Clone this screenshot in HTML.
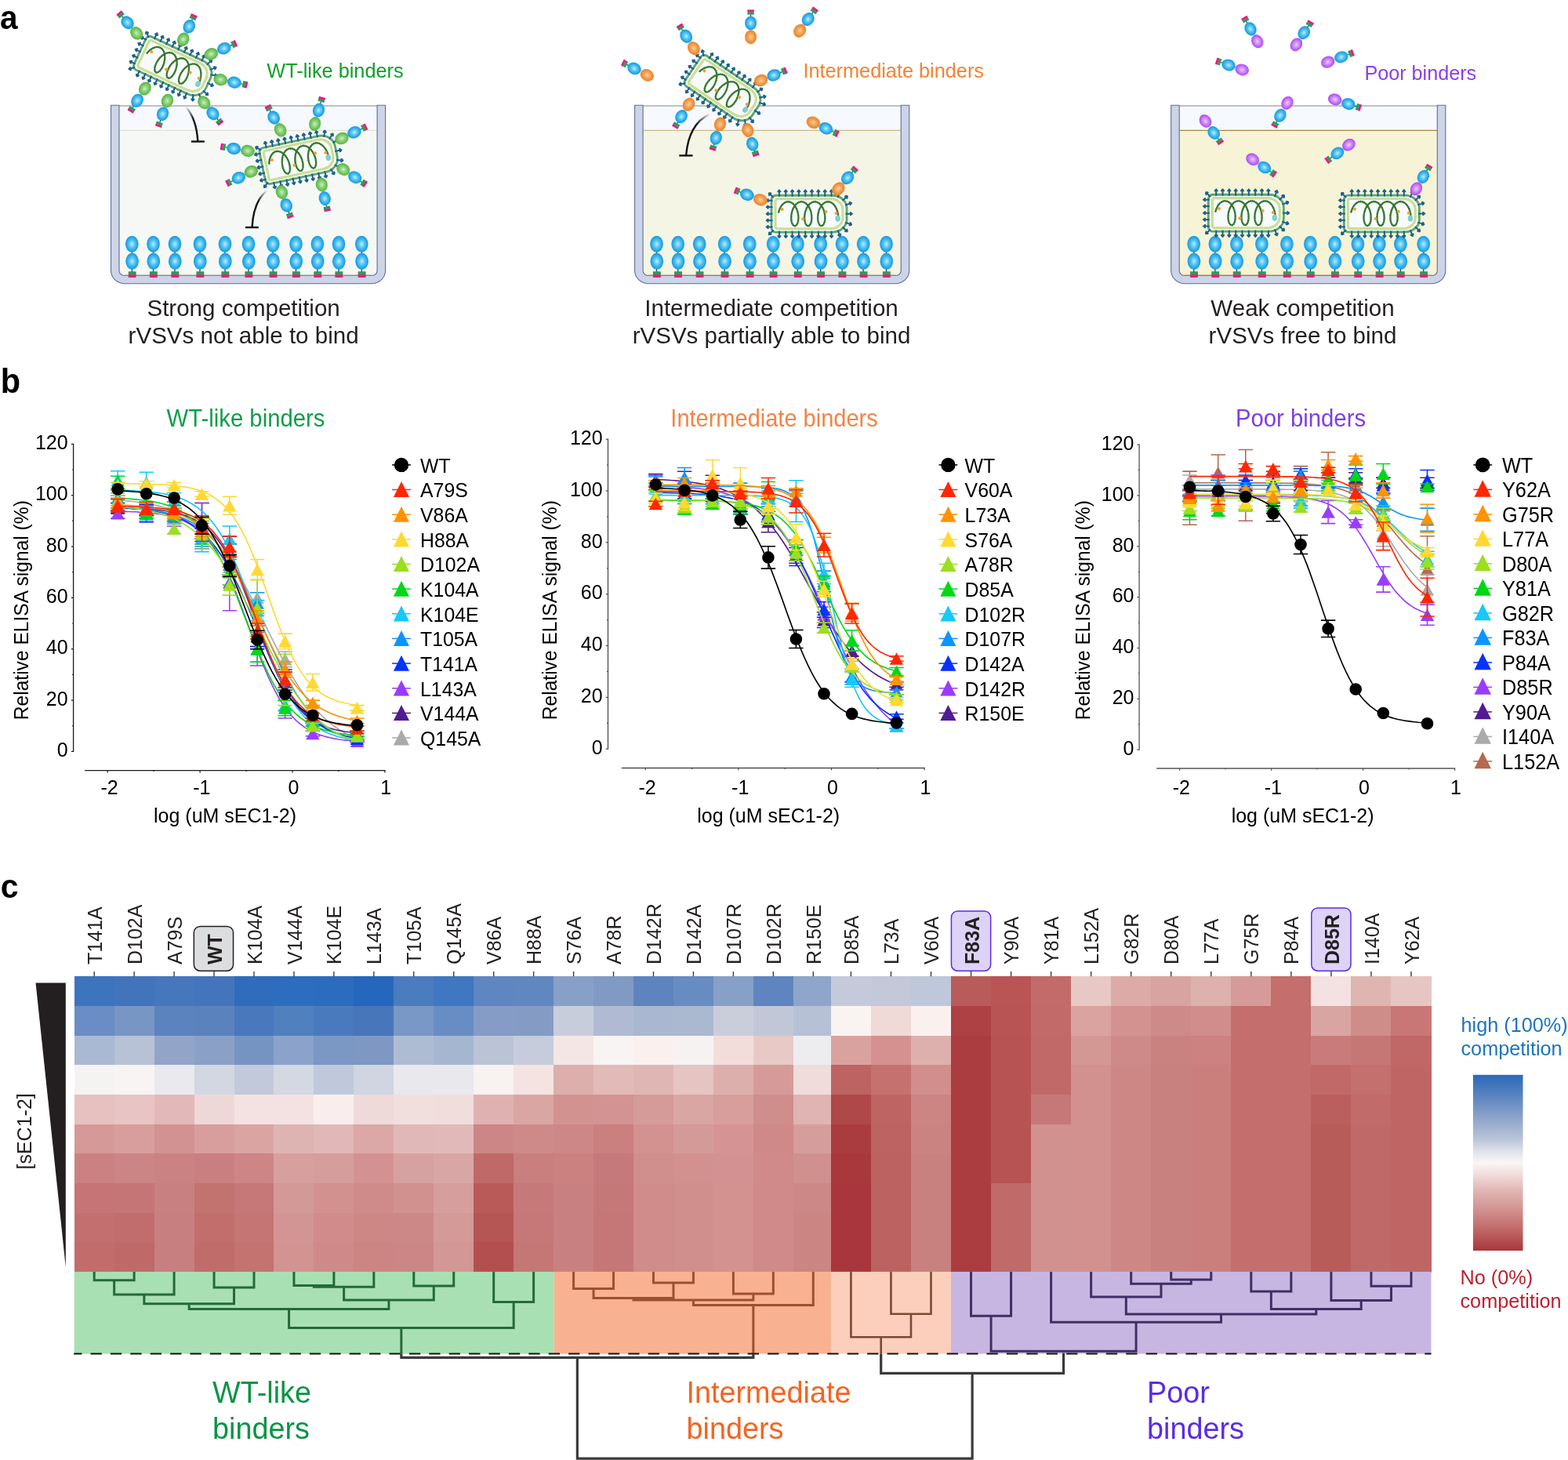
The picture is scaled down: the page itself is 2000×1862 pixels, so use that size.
<!DOCTYPE html>
<html><head><meta charset="utf-8"><title>Figure</title>
<style>
html,body{margin:0;padding:0;background:#fff;width:2000px;height:1862px;overflow:hidden;}
svg{display:block;}
text{font-family:"Liberation Sans",sans-serif;}
</style></head><body>
<svg width="2000" height="1862" viewBox="0 0 2000 1862">
<defs>

<radialGradient id="gB" cx="0.5" cy="0.5" r="0.5"><stop offset="0" stop-color="#B9EEFF"/><stop offset="0.45" stop-color="#57C4F2"/><stop offset="0.85" stop-color="#21A3E5"/><stop offset="1" stop-color="#1C9CE2"/></radialGradient>
<radialGradient id="gG" cx="0.5" cy="0.5" r="0.5"><stop offset="0" stop-color="#CDEEC0"/><stop offset="0.45" stop-color="#8ED27A"/><stop offset="0.85" stop-color="#62BC4E"/><stop offset="1" stop-color="#58B546"/></radialGradient>
<radialGradient id="gO" cx="0.5" cy="0.5" r="0.5"><stop offset="0" stop-color="#FAD0A0"/><stop offset="0.45" stop-color="#F3A65C"/><stop offset="0.85" stop-color="#EB8C35"/><stop offset="1" stop-color="#E8852C"/></radialGradient>
<radialGradient id="gP" cx="0.5" cy="0.5" r="0.5"><stop offset="0" stop-color="#EACAFC"/><stop offset="0.45" stop-color="#CF8EF6"/><stop offset="0.85" stop-color="#B75AF4"/><stop offset="1" stop-color="#B04CF5"/></radialGradient>
<linearGradient id="inh1" gradientUnits="userSpaceOnUse" x1="237" y1="136" x2="247" y2="152"><stop offset="0" stop-color="#000" stop-opacity="0"/><stop offset="1" stop-color="#111" stop-opacity="1"/></linearGradient>
<linearGradient id="inh2" gradientUnits="userSpaceOnUse" x1="341" y1="243" x2="328" y2="256"><stop offset="0" stop-color="#000" stop-opacity="0"/><stop offset="1" stop-color="#111" stop-opacity="1"/></linearGradient>
<linearGradient id="inh3" gradientUnits="userSpaceOnUse" x1="906" y1="145" x2="888" y2="158"><stop offset="0" stop-color="#000" stop-opacity="0"/><stop offset="1" stop-color="#111" stop-opacity="1"/></linearGradient>

<linearGradient id="cbar" x1="0" y1="0" x2="0" y2="1">
<stop offset="0" stop-color="#2A68BC"/>
<stop offset="0.12" stop-color="#5A84BF"/>
<stop offset="0.25" stop-color="#8FA5CA"/>
<stop offset="0.37" stop-color="#BCC6DA"/>
<stop offset="0.45" stop-color="#E6E7EE"/>
<stop offset="0.5" stop-color="#F9F6F5"/>
<stop offset="0.56" stop-color="#F2E0DE"/>
<stop offset="0.65" stop-color="#E2B9B7"/>
<stop offset="0.78" stop-color="#CF8D8B"/>
<stop offset="0.9" stop-color="#BC6160"/>
<stop offset="1" stop-color="#A8363C"/>
</linearGradient>
<g id="virus"><path d="M-42.50,-23.40 H29.50 A18.5,16.0 0 0 1 48.00,-7.40 V7.40 A18.5,16.0 0 0 1 29.50,23.40 H-42.50 A5.5,5.5 0 0 1 -48.00,17.90 V-17.90 A5.5,5.5 0 0 1 -42.50,-23.40 Z" fill="#FFFFFF" stroke="#5CA671" stroke-width="2.9"/><g transform="translate(-38.10,-23.40) rotate(-90.0)"><line x1="-1.5" y1="0" x2="5.5" y2="0" stroke="#1C5F8D" stroke-width="2.0"/><path d="M4.40,-2.1 Q5.80,-2.5 7.60,0 Q5.80,2.5 4.40,2.1 Q5.00,0 4.40,-2.1 Z" fill="#1C5F8D" stroke="#1C5F8D" stroke-width="1.0" stroke-linejoin="round"/></g><g transform="translate(-38.10,23.40) rotate(90.0)"><line x1="-1.5" y1="0" x2="5.5" y2="0" stroke="#1C5F8D" stroke-width="2.0"/><path d="M4.40,-2.1 Q5.80,-2.5 7.60,0 Q5.80,2.5 4.40,2.1 Q5.00,0 4.40,-2.1 Z" fill="#1C5F8D" stroke="#1C5F8D" stroke-width="1.0" stroke-linejoin="round"/></g><g transform="translate(-29.77,-23.40) rotate(-90.0)"><line x1="-1.5" y1="0" x2="5.5" y2="0" stroke="#1C5F8D" stroke-width="2.0"/><path d="M4.40,-2.1 Q5.80,-2.5 7.60,0 Q5.80,2.5 4.40,2.1 Q5.00,0 4.40,-2.1 Z" fill="#1C5F8D" stroke="#1C5F8D" stroke-width="1.0" stroke-linejoin="round"/></g><g transform="translate(-29.77,23.40) rotate(90.0)"><line x1="-1.5" y1="0" x2="5.5" y2="0" stroke="#1C5F8D" stroke-width="2.0"/><path d="M4.40,-2.1 Q5.80,-2.5 7.60,0 Q5.80,2.5 4.40,2.1 Q5.00,0 4.40,-2.1 Z" fill="#1C5F8D" stroke="#1C5F8D" stroke-width="1.0" stroke-linejoin="round"/></g><g transform="translate(-21.44,-23.40) rotate(-90.0)"><line x1="-1.5" y1="0" x2="5.5" y2="0" stroke="#1C5F8D" stroke-width="2.0"/><path d="M4.40,-2.1 Q5.80,-2.5 7.60,0 Q5.80,2.5 4.40,2.1 Q5.00,0 4.40,-2.1 Z" fill="#1C5F8D" stroke="#1C5F8D" stroke-width="1.0" stroke-linejoin="round"/></g><g transform="translate(-21.44,23.40) rotate(90.0)"><line x1="-1.5" y1="0" x2="5.5" y2="0" stroke="#1C5F8D" stroke-width="2.0"/><path d="M4.40,-2.1 Q5.80,-2.5 7.60,0 Q5.80,2.5 4.40,2.1 Q5.00,0 4.40,-2.1 Z" fill="#1C5F8D" stroke="#1C5F8D" stroke-width="1.0" stroke-linejoin="round"/></g><g transform="translate(-13.11,-23.40) rotate(-90.0)"><line x1="-1.5" y1="0" x2="5.5" y2="0" stroke="#1C5F8D" stroke-width="2.0"/><path d="M4.40,-2.1 Q5.80,-2.5 7.60,0 Q5.80,2.5 4.40,2.1 Q5.00,0 4.40,-2.1 Z" fill="#1C5F8D" stroke="#1C5F8D" stroke-width="1.0" stroke-linejoin="round"/></g><g transform="translate(-13.11,23.40) rotate(90.0)"><line x1="-1.5" y1="0" x2="5.5" y2="0" stroke="#1C5F8D" stroke-width="2.0"/><path d="M4.40,-2.1 Q5.80,-2.5 7.60,0 Q5.80,2.5 4.40,2.1 Q5.00,0 4.40,-2.1 Z" fill="#1C5F8D" stroke="#1C5F8D" stroke-width="1.0" stroke-linejoin="round"/></g><g transform="translate(-4.78,-23.40) rotate(-90.0)"><line x1="-1.5" y1="0" x2="5.5" y2="0" stroke="#1C5F8D" stroke-width="2.0"/><path d="M4.40,-2.1 Q5.80,-2.5 7.60,0 Q5.80,2.5 4.40,2.1 Q5.00,0 4.40,-2.1 Z" fill="#1C5F8D" stroke="#1C5F8D" stroke-width="1.0" stroke-linejoin="round"/></g><g transform="translate(-4.78,23.40) rotate(90.0)"><line x1="-1.5" y1="0" x2="5.5" y2="0" stroke="#1C5F8D" stroke-width="2.0"/><path d="M4.40,-2.1 Q5.80,-2.5 7.60,0 Q5.80,2.5 4.40,2.1 Q5.00,0 4.40,-2.1 Z" fill="#1C5F8D" stroke="#1C5F8D" stroke-width="1.0" stroke-linejoin="round"/></g><g transform="translate(3.55,-23.40) rotate(-90.0)"><line x1="-1.5" y1="0" x2="5.5" y2="0" stroke="#1C5F8D" stroke-width="2.0"/><path d="M4.40,-2.1 Q5.80,-2.5 7.60,0 Q5.80,2.5 4.40,2.1 Q5.00,0 4.40,-2.1 Z" fill="#1C5F8D" stroke="#1C5F8D" stroke-width="1.0" stroke-linejoin="round"/></g><g transform="translate(3.55,23.40) rotate(90.0)"><line x1="-1.5" y1="0" x2="5.5" y2="0" stroke="#1C5F8D" stroke-width="2.0"/><path d="M4.40,-2.1 Q5.80,-2.5 7.60,0 Q5.80,2.5 4.40,2.1 Q5.00,0 4.40,-2.1 Z" fill="#1C5F8D" stroke="#1C5F8D" stroke-width="1.0" stroke-linejoin="round"/></g><g transform="translate(11.88,-23.40) rotate(-90.0)"><line x1="-1.5" y1="0" x2="5.5" y2="0" stroke="#1C5F8D" stroke-width="2.0"/><path d="M4.40,-2.1 Q5.80,-2.5 7.60,0 Q5.80,2.5 4.40,2.1 Q5.00,0 4.40,-2.1 Z" fill="#1C5F8D" stroke="#1C5F8D" stroke-width="1.0" stroke-linejoin="round"/></g><g transform="translate(11.88,23.40) rotate(90.0)"><line x1="-1.5" y1="0" x2="5.5" y2="0" stroke="#1C5F8D" stroke-width="2.0"/><path d="M4.40,-2.1 Q5.80,-2.5 7.60,0 Q5.80,2.5 4.40,2.1 Q5.00,0 4.40,-2.1 Z" fill="#1C5F8D" stroke="#1C5F8D" stroke-width="1.0" stroke-linejoin="round"/></g><g transform="translate(20.21,-23.40) rotate(-90.0)"><line x1="-1.5" y1="0" x2="5.5" y2="0" stroke="#1C5F8D" stroke-width="2.0"/><path d="M4.40,-2.1 Q5.80,-2.5 7.60,0 Q5.80,2.5 4.40,2.1 Q5.00,0 4.40,-2.1 Z" fill="#1C5F8D" stroke="#1C5F8D" stroke-width="1.0" stroke-linejoin="round"/></g><g transform="translate(20.21,23.40) rotate(90.0)"><line x1="-1.5" y1="0" x2="5.5" y2="0" stroke="#1C5F8D" stroke-width="2.0"/><path d="M4.40,-2.1 Q5.80,-2.5 7.60,0 Q5.80,2.5 4.40,2.1 Q5.00,0 4.40,-2.1 Z" fill="#1C5F8D" stroke="#1C5F8D" stroke-width="1.0" stroke-linejoin="round"/></g><g transform="translate(28.54,-23.40) rotate(-90.0)"><line x1="-1.5" y1="0" x2="5.5" y2="0" stroke="#1C5F8D" stroke-width="2.0"/><path d="M4.40,-2.1 Q5.80,-2.5 7.60,0 Q5.80,2.5 4.40,2.1 Q5.00,0 4.40,-2.1 Z" fill="#1C5F8D" stroke="#1C5F8D" stroke-width="1.0" stroke-linejoin="round"/></g><g transform="translate(28.54,23.40) rotate(90.0)"><line x1="-1.5" y1="0" x2="5.5" y2="0" stroke="#1C5F8D" stroke-width="2.0"/><path d="M4.40,-2.1 Q5.80,-2.5 7.60,0 Q5.80,2.5 4.40,2.1 Q5.00,0 4.40,-2.1 Z" fill="#1C5F8D" stroke="#1C5F8D" stroke-width="1.0" stroke-linejoin="round"/></g><g transform="translate(-48.00,-17.00) rotate(180.0)"><line x1="-1.5" y1="0" x2="4.9" y2="0" stroke="#1C5F8D" stroke-width="2.0"/><path d="M3.80,-2.1 Q5.20,-2.5 7.00,0 Q5.20,2.5 3.80,2.1 Q4.40,0 3.80,-2.1 Z" fill="#1C5F8D" stroke="#1C5F8D" stroke-width="1.0" stroke-linejoin="round"/></g><g transform="translate(-48.00,-8.60) rotate(180.0)"><line x1="-1.5" y1="0" x2="4.9" y2="0" stroke="#1C5F8D" stroke-width="2.0"/><path d="M3.80,-2.1 Q5.20,-2.5 7.00,0 Q5.20,2.5 3.80,2.1 Q4.40,0 3.80,-2.1 Z" fill="#1C5F8D" stroke="#1C5F8D" stroke-width="1.0" stroke-linejoin="round"/></g><g transform="translate(-48.00,0.00) rotate(180.0)"><line x1="-1.5" y1="0" x2="4.9" y2="0" stroke="#1C5F8D" stroke-width="2.0"/><path d="M3.80,-2.1 Q5.20,-2.5 7.00,0 Q5.20,2.5 3.80,2.1 Q4.40,0 3.80,-2.1 Z" fill="#1C5F8D" stroke="#1C5F8D" stroke-width="1.0" stroke-linejoin="round"/></g><g transform="translate(-48.00,8.40) rotate(180.0)"><line x1="-1.5" y1="0" x2="4.9" y2="0" stroke="#1C5F8D" stroke-width="2.0"/><path d="M3.80,-2.1 Q5.20,-2.5 7.00,0 Q5.20,2.5 3.80,2.1 Q4.40,0 3.80,-2.1 Z" fill="#1C5F8D" stroke="#1C5F8D" stroke-width="1.0" stroke-linejoin="round"/></g><g transform="translate(-48.00,16.80) rotate(180.0)"><line x1="-1.5" y1="0" x2="4.9" y2="0" stroke="#1C5F8D" stroke-width="2.0"/><path d="M3.80,-2.1 Q5.20,-2.5 7.00,0 Q5.20,2.5 3.80,2.1 Q4.40,0 3.80,-2.1 Z" fill="#1C5F8D" stroke="#1C5F8D" stroke-width="1.0" stroke-linejoin="round"/></g><g transform="translate(-46.40,-21.80) rotate(-137.0)"><line x1="-1.5" y1="0" x2="5.1" y2="0" stroke="#1C5F8D" stroke-width="2.0"/><path d="M4.00,-2.1 Q5.40,-2.5 7.20,0 Q5.40,2.5 4.00,2.1 Q4.60,0 4.00,-2.1 Z" fill="#1C5F8D" stroke="#1C5F8D" stroke-width="1.0" stroke-linejoin="round"/></g><g transform="translate(-46.40,21.80) rotate(137.0)"><line x1="-1.5" y1="0" x2="5.1" y2="0" stroke="#1C5F8D" stroke-width="2.0"/><path d="M4.00,-2.1 Q5.40,-2.5 7.20,0 Q5.40,2.5 4.00,2.1 Q4.60,0 4.00,-2.1 Z" fill="#1C5F8D" stroke="#1C5F8D" stroke-width="1.0" stroke-linejoin="round"/></g><g transform="translate(37.02,-22.02) rotate(-68.9)"><line x1="-1.5" y1="0" x2="5.5" y2="0" stroke="#1C5F8D" stroke-width="2.0"/><path d="M4.40,-2.1 Q5.80,-2.5 7.60,0 Q5.80,2.5 4.40,2.1 Q5.00,0 4.40,-2.1 Z" fill="#1C5F8D" stroke="#1C5F8D" stroke-width="1.0" stroke-linejoin="round"/></g><g transform="translate(37.02,22.02) rotate(68.9)"><line x1="-1.5" y1="0" x2="5.5" y2="0" stroke="#1C5F8D" stroke-width="2.0"/><path d="M4.40,-2.1 Q5.80,-2.5 7.60,0 Q5.80,2.5 4.40,2.1 Q5.00,0 4.40,-2.1 Z" fill="#1C5F8D" stroke="#1C5F8D" stroke-width="1.0" stroke-linejoin="round"/></g><g transform="translate(43.67,-17.68) rotate(-44.1)"><line x1="-1.5" y1="0" x2="5.5" y2="0" stroke="#1C5F8D" stroke-width="2.0"/><path d="M4.40,-2.1 Q5.80,-2.5 7.60,0 Q5.80,2.5 4.40,2.1 Q5.00,0 4.40,-2.1 Z" fill="#1C5F8D" stroke="#1C5F8D" stroke-width="1.0" stroke-linejoin="round"/></g><g transform="translate(43.67,17.68) rotate(44.1)"><line x1="-1.5" y1="0" x2="5.5" y2="0" stroke="#1C5F8D" stroke-width="2.0"/><path d="M4.40,-2.1 Q5.80,-2.5 7.60,0 Q5.80,2.5 4.40,2.1 Q5.00,0 4.40,-2.1 Z" fill="#1C5F8D" stroke="#1C5F8D" stroke-width="1.0" stroke-linejoin="round"/></g><g transform="translate(47.37,-11.54) rotate(-17.2)"><line x1="-1.5" y1="0" x2="5.5" y2="0" stroke="#1C5F8D" stroke-width="2.0"/><path d="M4.40,-2.1 Q5.80,-2.5 7.60,0 Q5.80,2.5 4.40,2.1 Q5.00,0 4.40,-2.1 Z" fill="#1C5F8D" stroke="#1C5F8D" stroke-width="1.0" stroke-linejoin="round"/></g><g transform="translate(47.37,11.54) rotate(17.2)"><line x1="-1.5" y1="0" x2="5.5" y2="0" stroke="#1C5F8D" stroke-width="2.0"/><path d="M4.40,-2.1 Q5.80,-2.5 7.60,0 Q5.80,2.5 4.40,2.1 Q5.00,0 4.40,-2.1 Z" fill="#1C5F8D" stroke="#1C5F8D" stroke-width="1.0" stroke-linejoin="round"/></g><g transform="translate(48.00,0.00) rotate(0.0)"><line x1="-1.5" y1="0" x2="5.5" y2="0" stroke="#1C5F8D" stroke-width="2.0"/><path d="M4.40,-2.1 Q5.80,-2.5 7.60,0 Q5.80,2.5 4.40,2.1 Q5.00,0 4.40,-2.1 Z" fill="#1C5F8D" stroke="#1C5F8D" stroke-width="1.0" stroke-linejoin="round"/></g><path d="M-40.00,-19.10 H27.50 A15.5,14.0 0 0 1 43.00,-5.10 V5.10 A15.5,14.0 0 0 1 27.50,19.10 H-40.00 A3.0,3.0 0 0 1 -43.00,16.10 V-16.10 A3.0,3.0 0 0 1 -40.00,-19.10 Z" fill="#F8FBFE" stroke="#C4DA8B" stroke-width="3.1"/><path d="M-40.00,-19.10 H27.50 A15.5,14.0 0 0 1 43.00,-5.10 V5.10 A15.5,14.0 0 0 1 27.50,19.10 H-40.00 A3.0,3.0 0 0 1 -43.00,16.10 V-16.10 A3.0,3.0 0 0 1 -40.00,-19.10 Z" fill="none" stroke="#DCE9B2" stroke-width="1.5" stroke-dasharray="0.1 2.7" stroke-linecap="round"/><polyline points="-38.96,-1.84 -38.61,-3.13 -38.21,-4.39 -37.75,-5.62 -37.24,-6.81 -36.67,-7.96 -36.05,-9.04 -35.38,-10.06 -34.66,-11.01 -33.91,-11.88 -33.11,-12.67 -32.28,-13.36 -31.42,-13.96 -30.54,-14.46 -29.63,-14.86 -28.71,-15.15 -27.78,-15.33 -26.84,-15.40 -25.91,-15.36 -24.97,-15.21 -24.05,-14.96 -23.14,-14.59 -22.24,-14.12 -21.38,-13.55 -20.54,-12.89 -19.73,-12.13 -18.96,-11.29 -18.24,-10.36 -17.55,-9.36 -16.92,-8.29 -16.33,-7.17 -15.80,-5.99 -15.32,-4.77 -14.90,-3.52 -14.54,-2.24 -14.24,-0.94 -14.00,0.36 -13.82,1.66 -13.69,2.95 -13.63,4.21 -13.63,5.45 -13.68,6.65 -13.78,7.80 -13.94,8.89 -14.14,9.92 -14.40,10.88 -14.69,11.76 -15.02,12.56 -15.39,13.27 -15.79,13.88 -16.21,14.39 -16.66,14.81 -17.12,15.11 -17.59,15.31 -18.08,15.40 -18.56,15.37 -19.04,15.24 -19.50,15.00 -19.96,14.65 -20.40,14.20 -20.81,13.64 -21.20,12.99 -21.55,12.24 -21.87,11.41 -22.15,10.50 -22.38,9.51 -22.57,8.45 -22.70,7.33 -22.79,6.16 -22.81,4.95 -22.79,3.70 -22.70,2.42 -22.55,1.13 -22.35,-0.17 -22.08,-1.47 -21.75,-2.76 -21.37,-4.03 -20.92,-5.27 -20.43,-6.48 -19.87,-7.64 -19.26,-8.74 -18.61,-9.78 -17.91,-10.75 -17.16,-11.64 -16.38,-12.45 -15.56,-13.17 -14.71,-13.80 -13.83,-14.33 -12.93,-14.75 -12.01,-15.07 -11.08,-15.29 -10.15,-15.39 -9.21,-15.38 -8.27,-15.27 -7.34,-15.04 -6.43,-14.71 -5.53,-14.27 -4.66,-13.73 -3.81,-13.09 -3.00,-12.36 -2.22,-11.54 -1.48,-10.63 -0.78,-9.65 -0.13,-8.61 0.47,-7.50 1.02,-6.33 1.51,-5.12 1.95,-3.88 2.33,-2.61 2.64,-1.31 2.90,-0.01 3.10,1.29 3.24,2.58 3.32,3.85 3.34,5.10 3.31,6.31 3.22,7.47 3.08,8.58 2.88,9.63 2.65,10.61 2.36,11.52 2.04,12.34 1.68,13.08 1.29,13.72 0.87,14.26 0.43,14.70 -0.02,15.03 -0.49,15.26 -0.97,15.38 -1.45,15.39 -1.93,15.29 -2.41,15.08 -2.87,14.76 -3.31,14.34 -3.73,13.81 -4.13,13.19 -4.49,12.47 -4.82,11.66 -5.11,10.77 -5.35,9.80 -5.55,8.76 -5.71,7.66 -5.80,6.50 -5.85,5.30 -5.84,4.06 -5.76,2.79 -5.64,1.50 -5.45,0.20 -5.20,-1.10 -4.89,-2.40 -4.52,-3.67 -4.09,-4.92 -3.61,-6.14 -3.07,-7.31 -2.48,-8.43 -1.84,-9.49 -1.15,-10.48 -0.41,-11.39 0.36,-12.23 1.17,-12.98 2.01,-13.63 2.88,-14.19 3.78,-14.64 4.69,-14.99 5.61,-15.24 6.55,-15.37 7.49,-15.40 8.43,-15.31 9.36,-15.12 10.28,-14.81 11.18,-14.40 12.06,-13.89 12.91,-13.28 13.74,-12.57 14.53,-11.78 15.28,-10.90 15.99,-9.94 16.66,-8.91 17.27,-7.82 17.83,-6.67 18.34,-5.47 18.79,-4.24 19.19,-2.97 19.52,-1.68 19.80,-0.38 20.02,0.92 20.17,2.21 20.27,3.49 20.31,4.75 20.29,5.97 20.21,7.15 20.09,8.27 19.91,9.34 19.68,10.34 19.41,11.27 19.10,12.11 18.75,12.87 18.37,13.54 17.96,14.11 17.53,14.58 17.07,14.95 16.61,15.21 16.13,15.36 15.65,15.40 15.17,15.33 14.69,15.15 14.23,14.86 13.78,14.47 13.35,13.97 12.95,13.37 12.57,12.68 12.24,11.90 11.93,11.03 11.68,10.08 11.46,9.06 11.30,7.98 11.18,6.84 11.12,5.65 11.12,4.42 11.17,3.15 11.29,1.87 11.46,0.57 11.69,-0.73 11.98,-2.03 12.33,-3.31 12.74,-4.57 13.21,-5.80 13.74,-6.98 14.31,-8.11 14.94,-9.19 15.62,-10.20 16.34,-11.14 17.10,-12.00 17.90,-12.77 18.73,-13.45 19.60,-14.04 20.48,-14.52 21.39,-14.90 22.31,-15.18 23.25,-15.34 24.18,-15.40 25.12,-15.35 26.06,-15.18 26.98,-14.91 27.89,-14.53 28.77,-14.05 29.64,-13.47 30.47,-12.79 31.27,-12.01 32.04,-11.16 32.76,-10.22 33.44,-9.21 34.06,-8.14 34.64,-7.00 35.17,-5.82 35.63,-4.59 36.05,-3.34 36.40,-2.05 36.69,-0.76 36.93,0.55 37.10,1.84" fill="none" stroke="#3E7E33" stroke-width="2.1" stroke-linecap="round" stroke-linejoin="round"/><polyline points="-38.96,-1.84 -38.61,-3.13 -38.21,-4.39 -37.75,-5.62 -37.24,-6.81 -36.67,-7.96 -36.05,-9.04 -35.38,-10.06 -34.66,-11.01 -33.91,-11.88 -33.11,-12.67 -32.28,-13.36 -31.42,-13.96 -30.54,-14.46 -29.63,-14.86 -28.71,-15.15 -27.78,-15.33 -26.84,-15.40 -25.91,-15.36 -24.97,-15.21 -24.05,-14.96 -23.14,-14.59 -22.24,-14.12 -21.38,-13.55 -20.54,-12.89 -19.73,-12.13 -18.96,-11.29 -18.24,-10.36 -17.55,-9.36 -16.92,-8.29 -16.33,-7.17 -15.80,-5.99 -15.32,-4.77 -14.90,-3.52 -14.54,-2.24 -14.24,-0.94 -14.00,0.36 -13.82,1.66 -13.69,2.95 -13.63,4.21 -13.63,5.45 -13.68,6.65 -13.78,7.80 -13.94,8.89 -14.14,9.92 -14.40,10.88 -14.69,11.76 -15.02,12.56 -15.39,13.27 -15.79,13.88 -16.21,14.39 -16.66,14.81 -17.12,15.11 -17.59,15.31 -18.08,15.40 -18.56,15.37 -19.04,15.24 -19.50,15.00 -19.96,14.65 -20.40,14.20 -20.81,13.64 -21.20,12.99 -21.55,12.24 -21.87,11.41 -22.15,10.50 -22.38,9.51 -22.57,8.45 -22.70,7.33 -22.79,6.16 -22.81,4.95 -22.79,3.70 -22.70,2.42 -22.55,1.13 -22.35,-0.17 -22.08,-1.47 -21.75,-2.76 -21.37,-4.03 -20.92,-5.27 -20.43,-6.48 -19.87,-7.64 -19.26,-8.74 -18.61,-9.78 -17.91,-10.75 -17.16,-11.64 -16.38,-12.45 -15.56,-13.17 -14.71,-13.80 -13.83,-14.33 -12.93,-14.75 -12.01,-15.07 -11.08,-15.29 -10.15,-15.39 -9.21,-15.38 -8.27,-15.27 -7.34,-15.04 -6.43,-14.71 -5.53,-14.27 -4.66,-13.73 -3.81,-13.09 -3.00,-12.36 -2.22,-11.54 -1.48,-10.63 -0.78,-9.65 -0.13,-8.61 0.47,-7.50 1.02,-6.33 1.51,-5.12 1.95,-3.88 2.33,-2.61 2.64,-1.31 2.90,-0.01 3.10,1.29 3.24,2.58 3.32,3.85 3.34,5.10 3.31,6.31 3.22,7.47 3.08,8.58 2.88,9.63 2.65,10.61 2.36,11.52 2.04,12.34 1.68,13.08 1.29,13.72 0.87,14.26 0.43,14.70 -0.02,15.03 -0.49,15.26 -0.97,15.38 -1.45,15.39 -1.93,15.29 -2.41,15.08 -2.87,14.76 -3.31,14.34 -3.73,13.81 -4.13,13.19 -4.49,12.47 -4.82,11.66 -5.11,10.77 -5.35,9.80 -5.55,8.76 -5.71,7.66 -5.80,6.50 -5.85,5.30 -5.84,4.06 -5.76,2.79 -5.64,1.50 -5.45,0.20 -5.20,-1.10 -4.89,-2.40 -4.52,-3.67 -4.09,-4.92 -3.61,-6.14 -3.07,-7.31 -2.48,-8.43 -1.84,-9.49 -1.15,-10.48 -0.41,-11.39 0.36,-12.23 1.17,-12.98 2.01,-13.63 2.88,-14.19 3.78,-14.64 4.69,-14.99 5.61,-15.24 6.55,-15.37 7.49,-15.40 8.43,-15.31 9.36,-15.12 10.28,-14.81 11.18,-14.40 12.06,-13.89 12.91,-13.28 13.74,-12.57 14.53,-11.78 15.28,-10.90 15.99,-9.94 16.66,-8.91 17.27,-7.82 17.83,-6.67 18.34,-5.47 18.79,-4.24 19.19,-2.97 19.52,-1.68 19.80,-0.38 20.02,0.92 20.17,2.21 20.27,3.49 20.31,4.75 20.29,5.97 20.21,7.15 20.09,8.27 19.91,9.34 19.68,10.34 19.41,11.27 19.10,12.11 18.75,12.87 18.37,13.54 17.96,14.11 17.53,14.58 17.07,14.95 16.61,15.21 16.13,15.36 15.65,15.40 15.17,15.33 14.69,15.15 14.23,14.86 13.78,14.47 13.35,13.97 12.95,13.37 12.57,12.68 12.24,11.90 11.93,11.03 11.68,10.08 11.46,9.06 11.30,7.98 11.18,6.84 11.12,5.65 11.12,4.42 11.17,3.15 11.29,1.87 11.46,0.57 11.69,-0.73 11.98,-2.03 12.33,-3.31 12.74,-4.57 13.21,-5.80 13.74,-6.98 14.31,-8.11 14.94,-9.19 15.62,-10.20 16.34,-11.14 17.10,-12.00 17.90,-12.77 18.73,-13.45 19.60,-14.04 20.48,-14.52 21.39,-14.90 22.31,-15.18 23.25,-15.34 24.18,-15.40 25.12,-15.35 26.06,-15.18 26.98,-14.91 27.89,-14.53 28.77,-14.05 29.64,-13.47 30.47,-12.79 31.27,-12.01 32.04,-11.16 32.76,-10.22 33.44,-9.21 34.06,-8.14 34.64,-7.00 35.17,-5.82 35.63,-4.59 36.05,-3.34 36.40,-2.05 36.69,-0.76 36.93,0.55 37.10,1.84" fill="none" stroke="#2F6C27" stroke-width="2.6" stroke-dasharray="0.9 1.5" stroke-linejoin="round"/><circle cx="-34.3" cy="-5.8" r="2.0" fill="#F0A030"/><circle cx="-7.9" cy="6.6" r="2.0" fill="#F0A030"/><circle cx="21.5" cy="-2.8" r="2.0" fill="#F0A030"/><circle cx="34.5" cy="-0.8" r="2.0" fill="#F0A030"/><ellipse cx="36.6" cy="6.0" rx="2.9" ry="3.8" fill="#7FD0D2" stroke="#5DB9BD" stroke-width="0.5"/></g>
</defs>
<rect x="0" y="0" width="2000" height="1862" fill="#fff"/>
<path d="M152.0,134.3 H481.1 V345.0 A6.5,6.5 0 0 1 474.6,351.5 H158.5 A6.5,6.5 0 0 1 152.0,345.0 Z" fill="#F5F8F5"/><rect x="152.0" y="134.3" width="329.1" height="32.0" fill="#F6F9FE"/><line x1="152.0" y1="166.3" x2="481.1" y2="166.3" stroke="#E6E1D4" stroke-width="1.3"/><line x1="152.0" y1="135.0" x2="481.1" y2="135.0" stroke="#C0C0C3" stroke-width="2.2"/><path d="M141.5,134.3 V344.7 A17.0,17.0 0 0 0 158.5,361.7 H474.6 A17.0,17.0 0 0 0 491.6,344.7 V134.3 H481.1 V345.0 A6.5,6.5 0 0 1 474.6,351.5 H158.5 A6.5,6.5 0 0 1 152.0,345.0 V134.3 Z" fill="#CDD4E8" stroke="#5A6F98" stroke-width="1.1"/><path d="M158.5,351.2 H474.6" stroke="#9A9488" stroke-width="1.2" fill="none"/>
<path d="M820.1,134.3 H1149.2 V345.0 A6.5,6.5 0 0 1 1142.7,351.5 H826.6 A6.5,6.5 0 0 1 820.1,345.0 Z" fill="#F5F5E6"/><rect x="820.1" y="134.3" width="329.1" height="32.0" fill="#F6F9FE"/><line x1="820.1" y1="166.3" x2="1149.2" y2="166.3" stroke="#C9BB8D" stroke-width="1.3"/><line x1="820.1" y1="135.0" x2="1149.2" y2="135.0" stroke="#C0C0C3" stroke-width="2.2"/><path d="M809.6,134.3 V344.7 A17.0,17.0 0 0 0 826.6,361.7 H1142.7 A17.0,17.0 0 0 0 1159.7,344.7 V134.3 H1149.2 V345.0 A6.5,6.5 0 0 1 1142.7,351.5 H826.6 A6.5,6.5 0 0 1 820.1,345.0 V134.3 Z" fill="#CDD4E8" stroke="#5A6F98" stroke-width="1.1"/><path d="M826.6,351.2 H1142.7" stroke="#9A8E70" stroke-width="1.2" fill="none"/>
<path d="M1504.2,134.3 H1833.3000000000002 V345.0 A6.5,6.5 0 0 1 1826.8000000000002,351.5 H1510.7 A6.5,6.5 0 0 1 1504.2,345.0 Z" fill="#F6F3D6"/><rect x="1504.2" y="134.3" width="329.1" height="32.0" fill="#F6F9FE"/><line x1="1504.2" y1="166.3" x2="1833.3000000000002" y2="166.3" stroke="#A98B3B" stroke-width="1.3"/><line x1="1504.2" y1="135.0" x2="1833.3000000000002" y2="135.0" stroke="#C0C0C3" stroke-width="2.2"/><path d="M1493.7,134.3 V344.7 A17.0,17.0 0 0 0 1510.7,361.7 H1826.8000000000002 A17.0,17.0 0 0 0 1843.8000000000002,344.7 V134.3 H1833.3000000000002 V345.0 A6.5,6.5 0 0 1 1826.8000000000002,351.5 H1510.7 A6.5,6.5 0 0 1 1504.2,345.0 V134.3 Z" fill="#CDD4E8" stroke="#5A6F98" stroke-width="1.1"/><path d="M1510.7,351.2 H1826.8000000000002" stroke="#A98B3B" stroke-width="1.2" fill="none"/>
<line x1="168.3" y1="320" x2="168.3" y2="347" stroke="#3a3a3a" stroke-width="1.3"/><ellipse cx="168.3" cy="311.3" rx="8.35" ry="10.6" fill="url(#gB)"/><ellipse cx="168.6" cy="333.2" rx="8.35" ry="10.6" fill="url(#gB)"/><rect x="163.7" y="346.2" width="9.9" height="4" fill="#1AA551"/><rect x="163.7" y="350.1" width="9.9" height="3.8" fill="#EC1685"/><line x1="195.5" y1="320" x2="195.5" y2="347" stroke="#3a3a3a" stroke-width="1.3"/><ellipse cx="195.5" cy="311.3" rx="8.35" ry="10.6" fill="url(#gB)"/><ellipse cx="195.8" cy="333.2" rx="8.35" ry="10.6" fill="url(#gB)"/><rect x="190.9" y="346.2" width="9.9" height="4" fill="#1AA551"/><rect x="190.9" y="350.1" width="9.9" height="3.8" fill="#EC1685"/><line x1="223.0" y1="320" x2="223.0" y2="347" stroke="#3a3a3a" stroke-width="1.3"/><ellipse cx="223.0" cy="311.3" rx="8.35" ry="10.6" fill="url(#gB)"/><ellipse cx="223.3" cy="333.2" rx="8.35" ry="10.6" fill="url(#gB)"/><rect x="218.4" y="346.2" width="9.9" height="4" fill="#1AA551"/><rect x="218.4" y="350.1" width="9.9" height="3.8" fill="#EC1685"/><line x1="255.0" y1="320" x2="255.0" y2="347" stroke="#3a3a3a" stroke-width="1.3"/><ellipse cx="255.0" cy="311.3" rx="8.35" ry="10.6" fill="url(#gB)"/><ellipse cx="255.3" cy="333.2" rx="8.35" ry="10.6" fill="url(#gB)"/><rect x="250.4" y="346.2" width="9.9" height="4" fill="#1AA551"/><rect x="250.4" y="350.1" width="9.9" height="3.8" fill="#EC1685"/><line x1="287.0" y1="320" x2="287.0" y2="347" stroke="#3a3a3a" stroke-width="1.3"/><ellipse cx="287.0" cy="311.3" rx="8.35" ry="10.6" fill="url(#gB)"/><ellipse cx="287.3" cy="333.2" rx="8.35" ry="10.6" fill="url(#gB)"/><rect x="282.4" y="346.2" width="9.9" height="4" fill="#1AA551"/><rect x="282.4" y="350.1" width="9.9" height="3.8" fill="#EC1685"/><line x1="317.0" y1="320" x2="317.0" y2="347" stroke="#3a3a3a" stroke-width="1.3"/><ellipse cx="317.0" cy="311.3" rx="8.35" ry="10.6" fill="url(#gB)"/><ellipse cx="317.3" cy="333.2" rx="8.35" ry="10.6" fill="url(#gB)"/><rect x="312.4" y="346.2" width="9.9" height="4" fill="#1AA551"/><rect x="312.4" y="350.1" width="9.9" height="3.8" fill="#EC1685"/><line x1="348.2" y1="320" x2="348.2" y2="347" stroke="#3a3a3a" stroke-width="1.3"/><ellipse cx="348.2" cy="311.3" rx="8.35" ry="10.6" fill="url(#gB)"/><ellipse cx="348.5" cy="333.2" rx="8.35" ry="10.6" fill="url(#gB)"/><rect x="343.6" y="346.2" width="9.9" height="4" fill="#1AA551"/><rect x="343.6" y="350.1" width="9.9" height="3.8" fill="#EC1685"/><line x1="377.5" y1="320" x2="377.5" y2="347" stroke="#3a3a3a" stroke-width="1.3"/><ellipse cx="377.5" cy="311.3" rx="8.35" ry="10.6" fill="url(#gB)"/><ellipse cx="377.8" cy="333.2" rx="8.35" ry="10.6" fill="url(#gB)"/><rect x="372.9" y="346.2" width="9.9" height="4" fill="#1AA551"/><rect x="372.9" y="350.1" width="9.9" height="3.8" fill="#EC1685"/><line x1="404.9" y1="320" x2="404.9" y2="347" stroke="#3a3a3a" stroke-width="1.3"/><ellipse cx="404.9" cy="311.3" rx="8.35" ry="10.6" fill="url(#gB)"/><ellipse cx="405.2" cy="333.2" rx="8.35" ry="10.6" fill="url(#gB)"/><rect x="400.3" y="346.2" width="9.9" height="4" fill="#1AA551"/><rect x="400.3" y="350.1" width="9.9" height="3.8" fill="#EC1685"/><line x1="432.0" y1="320" x2="432.0" y2="347" stroke="#3a3a3a" stroke-width="1.3"/><ellipse cx="432.0" cy="311.3" rx="8.35" ry="10.6" fill="url(#gB)"/><ellipse cx="432.3" cy="333.2" rx="8.35" ry="10.6" fill="url(#gB)"/><rect x="427.4" y="346.2" width="9.9" height="4" fill="#1AA551"/><rect x="427.4" y="350.1" width="9.9" height="3.8" fill="#EC1685"/><line x1="461.3" y1="320" x2="461.3" y2="347" stroke="#3a3a3a" stroke-width="1.3"/><ellipse cx="461.3" cy="311.3" rx="8.35" ry="10.6" fill="url(#gB)"/><ellipse cx="461.6" cy="333.2" rx="8.35" ry="10.6" fill="url(#gB)"/><rect x="456.7" y="346.2" width="9.9" height="4" fill="#1AA551"/><rect x="456.7" y="350.1" width="9.9" height="3.8" fill="#EC1685"/>
<line x1="837.5" y1="320" x2="837.5" y2="347" stroke="#3a3a3a" stroke-width="1.3"/><ellipse cx="837.5" cy="311.3" rx="8.35" ry="10.6" fill="url(#gB)"/><ellipse cx="837.8" cy="333.2" rx="8.35" ry="10.6" fill="url(#gB)"/><rect x="832.9" y="346.2" width="9.9" height="4" fill="#1AA551"/><rect x="832.9" y="350.1" width="9.9" height="3.8" fill="#EC1685"/><line x1="864.7" y1="320" x2="864.7" y2="347" stroke="#3a3a3a" stroke-width="1.3"/><ellipse cx="864.7" cy="311.3" rx="8.35" ry="10.6" fill="url(#gB)"/><ellipse cx="865.0" cy="333.2" rx="8.35" ry="10.6" fill="url(#gB)"/><rect x="860.1" y="346.2" width="9.9" height="4" fill="#1AA551"/><rect x="860.1" y="350.1" width="9.9" height="3.8" fill="#EC1685"/><line x1="892.2" y1="320" x2="892.2" y2="347" stroke="#3a3a3a" stroke-width="1.3"/><ellipse cx="892.2" cy="311.3" rx="8.35" ry="10.6" fill="url(#gB)"/><ellipse cx="892.5" cy="333.2" rx="8.35" ry="10.6" fill="url(#gB)"/><rect x="887.6" y="346.2" width="9.9" height="4" fill="#1AA551"/><rect x="887.6" y="350.1" width="9.9" height="3.8" fill="#EC1685"/><line x1="924.2" y1="320" x2="924.2" y2="347" stroke="#3a3a3a" stroke-width="1.3"/><ellipse cx="924.2" cy="311.3" rx="8.35" ry="10.6" fill="url(#gB)"/><ellipse cx="924.5" cy="333.2" rx="8.35" ry="10.6" fill="url(#gB)"/><rect x="919.6" y="346.2" width="9.9" height="4" fill="#1AA551"/><rect x="919.6" y="350.1" width="9.9" height="3.8" fill="#EC1685"/><line x1="956.2" y1="320" x2="956.2" y2="347" stroke="#3a3a3a" stroke-width="1.3"/><ellipse cx="956.2" cy="311.3" rx="8.35" ry="10.6" fill="url(#gB)"/><ellipse cx="956.5" cy="333.2" rx="8.35" ry="10.6" fill="url(#gB)"/><rect x="951.6" y="346.2" width="9.9" height="4" fill="#1AA551"/><rect x="951.6" y="350.1" width="9.9" height="3.8" fill="#EC1685"/><line x1="986.2" y1="320" x2="986.2" y2="347" stroke="#3a3a3a" stroke-width="1.3"/><ellipse cx="986.2" cy="311.3" rx="8.35" ry="10.6" fill="url(#gB)"/><ellipse cx="986.5" cy="333.2" rx="8.35" ry="10.6" fill="url(#gB)"/><rect x="981.6" y="346.2" width="9.9" height="4" fill="#1AA551"/><rect x="981.6" y="350.1" width="9.9" height="3.8" fill="#EC1685"/><line x1="1017.4" y1="320" x2="1017.4" y2="347" stroke="#3a3a3a" stroke-width="1.3"/><ellipse cx="1017.4" cy="311.3" rx="8.35" ry="10.6" fill="url(#gB)"/><ellipse cx="1017.7" cy="333.2" rx="8.35" ry="10.6" fill="url(#gB)"/><rect x="1012.8" y="346.2" width="9.9" height="4" fill="#1AA551"/><rect x="1012.8" y="350.1" width="9.9" height="3.8" fill="#EC1685"/><line x1="1046.7" y1="320" x2="1046.7" y2="347" stroke="#3a3a3a" stroke-width="1.3"/><ellipse cx="1046.7" cy="311.3" rx="8.35" ry="10.6" fill="url(#gB)"/><ellipse cx="1047.0" cy="333.2" rx="8.35" ry="10.6" fill="url(#gB)"/><rect x="1042.1" y="346.2" width="9.9" height="4" fill="#1AA551"/><rect x="1042.1" y="350.1" width="9.9" height="3.8" fill="#EC1685"/><line x1="1074.1" y1="320" x2="1074.1" y2="347" stroke="#3a3a3a" stroke-width="1.3"/><ellipse cx="1074.1" cy="311.3" rx="8.35" ry="10.6" fill="url(#gB)"/><ellipse cx="1074.4" cy="333.2" rx="8.35" ry="10.6" fill="url(#gB)"/><rect x="1069.5" y="346.2" width="9.9" height="4" fill="#1AA551"/><rect x="1069.5" y="350.1" width="9.9" height="3.8" fill="#EC1685"/><line x1="1101.2" y1="320" x2="1101.2" y2="347" stroke="#3a3a3a" stroke-width="1.3"/><ellipse cx="1101.2" cy="311.3" rx="8.35" ry="10.6" fill="url(#gB)"/><ellipse cx="1101.5" cy="333.2" rx="8.35" ry="10.6" fill="url(#gB)"/><rect x="1096.6" y="346.2" width="9.9" height="4" fill="#1AA551"/><rect x="1096.6" y="350.1" width="9.9" height="3.8" fill="#EC1685"/><line x1="1130.5" y1="320" x2="1130.5" y2="347" stroke="#3a3a3a" stroke-width="1.3"/><ellipse cx="1130.5" cy="311.3" rx="8.35" ry="10.6" fill="url(#gB)"/><ellipse cx="1130.8" cy="333.2" rx="8.35" ry="10.6" fill="url(#gB)"/><rect x="1125.9" y="346.2" width="9.9" height="4" fill="#1AA551"/><rect x="1125.9" y="350.1" width="9.9" height="3.8" fill="#EC1685"/>
<line x1="1522.7" y1="320" x2="1522.7" y2="347" stroke="#3a3a3a" stroke-width="1.3"/><ellipse cx="1522.7" cy="311.3" rx="8.35" ry="10.6" fill="url(#gB)"/><ellipse cx="1523.0" cy="333.2" rx="8.35" ry="10.6" fill="url(#gB)"/><rect x="1518.1" y="346.2" width="9.9" height="4" fill="#1AA551"/><rect x="1518.1" y="350.1" width="9.9" height="3.8" fill="#EC1685"/><line x1="1549.9" y1="320" x2="1549.9" y2="347" stroke="#3a3a3a" stroke-width="1.3"/><ellipse cx="1549.9" cy="311.3" rx="8.35" ry="10.6" fill="url(#gB)"/><ellipse cx="1550.2" cy="333.2" rx="8.35" ry="10.6" fill="url(#gB)"/><rect x="1545.3" y="346.2" width="9.9" height="4" fill="#1AA551"/><rect x="1545.3" y="350.1" width="9.9" height="3.8" fill="#EC1685"/><line x1="1577.4" y1="320" x2="1577.4" y2="347" stroke="#3a3a3a" stroke-width="1.3"/><ellipse cx="1577.4" cy="311.3" rx="8.35" ry="10.6" fill="url(#gB)"/><ellipse cx="1577.7" cy="333.2" rx="8.35" ry="10.6" fill="url(#gB)"/><rect x="1572.8" y="346.2" width="9.9" height="4" fill="#1AA551"/><rect x="1572.8" y="350.1" width="9.9" height="3.8" fill="#EC1685"/><line x1="1609.4" y1="320" x2="1609.4" y2="347" stroke="#3a3a3a" stroke-width="1.3"/><ellipse cx="1609.4" cy="311.3" rx="8.35" ry="10.6" fill="url(#gB)"/><ellipse cx="1609.7" cy="333.2" rx="8.35" ry="10.6" fill="url(#gB)"/><rect x="1604.8" y="346.2" width="9.9" height="4" fill="#1AA551"/><rect x="1604.8" y="350.1" width="9.9" height="3.8" fill="#EC1685"/><line x1="1641.4" y1="320" x2="1641.4" y2="347" stroke="#3a3a3a" stroke-width="1.3"/><ellipse cx="1641.4" cy="311.3" rx="8.35" ry="10.6" fill="url(#gB)"/><ellipse cx="1641.7" cy="333.2" rx="8.35" ry="10.6" fill="url(#gB)"/><rect x="1636.8" y="346.2" width="9.9" height="4" fill="#1AA551"/><rect x="1636.8" y="350.1" width="9.9" height="3.8" fill="#EC1685"/><line x1="1671.4" y1="320" x2="1671.4" y2="347" stroke="#3a3a3a" stroke-width="1.3"/><ellipse cx="1671.4" cy="311.3" rx="8.35" ry="10.6" fill="url(#gB)"/><ellipse cx="1671.7" cy="333.2" rx="8.35" ry="10.6" fill="url(#gB)"/><rect x="1666.8" y="346.2" width="9.9" height="4" fill="#1AA551"/><rect x="1666.8" y="350.1" width="9.9" height="3.8" fill="#EC1685"/><line x1="1702.6" y1="320" x2="1702.6" y2="347" stroke="#3a3a3a" stroke-width="1.3"/><ellipse cx="1702.6" cy="311.3" rx="8.35" ry="10.6" fill="url(#gB)"/><ellipse cx="1702.9" cy="333.2" rx="8.35" ry="10.6" fill="url(#gB)"/><rect x="1698.0" y="346.2" width="9.9" height="4" fill="#1AA551"/><rect x="1698.0" y="350.1" width="9.9" height="3.8" fill="#EC1685"/><line x1="1731.9" y1="320" x2="1731.9" y2="347" stroke="#3a3a3a" stroke-width="1.3"/><ellipse cx="1731.9" cy="311.3" rx="8.35" ry="10.6" fill="url(#gB)"/><ellipse cx="1732.2" cy="333.2" rx="8.35" ry="10.6" fill="url(#gB)"/><rect x="1727.3" y="346.2" width="9.9" height="4" fill="#1AA551"/><rect x="1727.3" y="350.1" width="9.9" height="3.8" fill="#EC1685"/><line x1="1759.3" y1="320" x2="1759.3" y2="347" stroke="#3a3a3a" stroke-width="1.3"/><ellipse cx="1759.3" cy="311.3" rx="8.35" ry="10.6" fill="url(#gB)"/><ellipse cx="1759.6" cy="333.2" rx="8.35" ry="10.6" fill="url(#gB)"/><rect x="1754.7" y="346.2" width="9.9" height="4" fill="#1AA551"/><rect x="1754.7" y="350.1" width="9.9" height="3.8" fill="#EC1685"/><line x1="1786.4" y1="320" x2="1786.4" y2="347" stroke="#3a3a3a" stroke-width="1.3"/><ellipse cx="1786.4" cy="311.3" rx="8.35" ry="10.6" fill="url(#gB)"/><ellipse cx="1786.7" cy="333.2" rx="8.35" ry="10.6" fill="url(#gB)"/><rect x="1781.8" y="346.2" width="9.9" height="4" fill="#1AA551"/><rect x="1781.8" y="350.1" width="9.9" height="3.8" fill="#EC1685"/><line x1="1815.7" y1="320" x2="1815.7" y2="347" stroke="#3a3a3a" stroke-width="1.3"/><ellipse cx="1815.7" cy="311.3" rx="8.35" ry="10.6" fill="url(#gB)"/><ellipse cx="1816.0" cy="333.2" rx="8.35" ry="10.6" fill="url(#gB)"/><rect x="1811.1" y="346.2" width="9.9" height="4" fill="#1AA551"/><rect x="1811.1" y="350.1" width="9.9" height="3.8" fill="#EC1685"/>
<path d="M237,136.5 Q250.5,151 252.3,180" fill="none" stroke="url(#inh1)" stroke-width="2.4"/><line x1="243.9" y1="180.5" x2="260.8" y2="180.5" stroke="#111" stroke-width="2.4"/>
<path d="M340.6,243.1 Q323.5,256 321.5,290" fill="none" stroke="url(#inh2)" stroke-width="2.4"/><line x1="313" y1="290" x2="329.8" y2="290" stroke="#111" stroke-width="2.4"/>
<use href="#virus" transform="translate(222.0,86.0) rotate(25.0)"/>
<g transform="translate(174.2,42.3) rotate(-130.7)"><line x1="17.9" y1="0" x2="28.6" y2="0" stroke="#3a3a3a" stroke-width="1.2"/><ellipse cx="0" cy="0" rx="9.0" ry="7.5" fill="url(#gG)"/><ellipse cx="17.9" cy="0" rx="9.0" ry="7.5" fill="url(#gB)"/><rect x="28.5" y="-4.2" width="3.2" height="8.4" fill="#1AA551"/><rect x="31.6" y="-4.2" width="3.1" height="8.4" fill="#EC1685"/></g>
<g transform="translate(233.8,50.3) rotate(-65.8)"><line x1="18.1" y1="0" x2="28.4" y2="0" stroke="#3a3a3a" stroke-width="1.2"/><ellipse cx="0" cy="0" rx="9.0" ry="7.5" fill="url(#gG)"/><ellipse cx="18.1" cy="0" rx="9.0" ry="7.5" fill="url(#gB)"/><rect x="28.3" y="-4.2" width="3.2" height="8.4" fill="#1AA551"/><rect x="31.4" y="-4.2" width="3.1" height="8.4" fill="#EC1685"/></g>
<g transform="translate(269.3,68.9) rotate(-23.5)"><line x1="18.0" y1="0" x2="29.0" y2="0" stroke="#3a3a3a" stroke-width="1.2"/><ellipse cx="0" cy="0" rx="9.0" ry="7.5" fill="url(#gG)"/><ellipse cx="18.0" cy="0" rx="9.0" ry="7.5" fill="url(#gB)"/><rect x="28.9" y="-4.2" width="3.2" height="8.4" fill="#1AA551"/><rect x="32.0" y="-4.2" width="3.1" height="8.4" fill="#EC1685"/></g>
<g transform="translate(281.3,101.6) rotate(11.3)"><line x1="17.9" y1="0" x2="28.8" y2="0" stroke="#3a3a3a" stroke-width="1.2"/><ellipse cx="0" cy="0" rx="9.0" ry="7.5" fill="url(#gG)"/><ellipse cx="17.9" cy="0" rx="9.0" ry="7.5" fill="url(#gB)"/><rect x="28.7" y="-4.2" width="3.2" height="8.4" fill="#1AA551"/><rect x="31.8" y="-4.2" width="3.1" height="8.4" fill="#EC1685"/></g>
<g transform="translate(260.2,130.8) rotate(51.1)"><line x1="17.9" y1="0" x2="28.7" y2="0" stroke="#3a3a3a" stroke-width="1.2"/><ellipse cx="0" cy="0" rx="9.0" ry="7.5" fill="url(#gG)"/><ellipse cx="17.9" cy="0" rx="9.0" ry="7.5" fill="url(#gB)"/><rect x="28.6" y="-4.2" width="3.2" height="8.4" fill="#1AA551"/><rect x="31.7" y="-4.2" width="3.1" height="8.4" fill="#EC1685"/></g>
<g transform="translate(213.4,128.5) rotate(109.2)"><line x1="17.8" y1="0" x2="29.1" y2="0" stroke="#3a3a3a" stroke-width="1.2"/><ellipse cx="0" cy="0" rx="9.0" ry="7.5" fill="url(#gG)"/><ellipse cx="17.8" cy="0" rx="9.0" ry="7.5" fill="url(#gB)"/><rect x="29.0" y="-4.2" width="3.2" height="8.4" fill="#1AA551"/><rect x="32.1" y="-4.2" width="3.1" height="8.4" fill="#EC1685"/></g>
<g transform="translate(184.8,113.0) rotate(122.5)"><line x1="18.1" y1="0" x2="28.8" y2="0" stroke="#3a3a3a" stroke-width="1.2"/><ellipse cx="0" cy="0" rx="9.0" ry="7.5" fill="url(#gG)"/><ellipse cx="18.1" cy="0" rx="9.0" ry="7.5" fill="url(#gB)"/><rect x="28.7" y="-4.2" width="3.2" height="8.4" fill="#1AA551"/><rect x="31.8" y="-4.2" width="3.1" height="8.4" fill="#EC1685"/></g>
<use href="#virus" transform="translate(381.7,202.6) rotate(-12.0)"/>
<g transform="translate(357.6,165.8) rotate(-118.0)"><line x1="18.0" y1="0" x2="29.0" y2="0" stroke="#3a3a3a" stroke-width="1.2"/><ellipse cx="0" cy="0" rx="9.0" ry="7.5" fill="url(#gG)"/><ellipse cx="18.0" cy="0" rx="9.0" ry="7.5" fill="url(#gB)"/><rect x="28.9" y="-4.2" width="3.2" height="8.4" fill="#1AA551"/><rect x="32.0" y="-4.2" width="3.1" height="8.4" fill="#EC1685"/></g>
<g transform="translate(401.6,158.0) rotate(-74.5)"><line x1="18.2" y1="0" x2="29.4" y2="0" stroke="#3a3a3a" stroke-width="1.2"/><ellipse cx="0" cy="0" rx="9.0" ry="7.5" fill="url(#gG)"/><ellipse cx="18.2" cy="0" rx="9.0" ry="7.5" fill="url(#gB)"/><rect x="29.3" y="-4.2" width="3.2" height="8.4" fill="#1AA551"/><rect x="32.4" y="-4.2" width="3.1" height="8.4" fill="#EC1685"/></g>
<g transform="translate(436.0,176.5) rotate(-25.8)"><line x1="17.7" y1="0" x2="28.9" y2="0" stroke="#3a3a3a" stroke-width="1.2"/><ellipse cx="0" cy="0" rx="9.0" ry="7.5" fill="url(#gG)"/><ellipse cx="17.7" cy="0" rx="9.0" ry="7.5" fill="url(#gB)"/><rect x="28.8" y="-4.2" width="3.2" height="8.4" fill="#1AA551"/><rect x="31.9" y="-4.2" width="3.1" height="8.4" fill="#EC1685"/></g>
<g transform="translate(437.8,216.1) rotate(33.9)"><line x1="18.0" y1="0" x2="28.8" y2="0" stroke="#3a3a3a" stroke-width="1.2"/><ellipse cx="0" cy="0" rx="9.0" ry="7.5" fill="url(#gG)"/><ellipse cx="18.0" cy="0" rx="9.0" ry="7.5" fill="url(#gB)"/><rect x="28.7" y="-4.2" width="3.2" height="8.4" fill="#1AA551"/><rect x="31.8" y="-4.2" width="3.1" height="8.4" fill="#EC1685"/></g>
<g transform="translate(410.3,235.5) rotate(77.3)"><line x1="18.0" y1="0" x2="28.7" y2="0" stroke="#3a3a3a" stroke-width="1.2"/><ellipse cx="0" cy="0" rx="9.0" ry="7.5" fill="url(#gG)"/><ellipse cx="18.0" cy="0" rx="9.0" ry="7.5" fill="url(#gB)"/><rect x="28.6" y="-4.2" width="3.2" height="8.4" fill="#1AA551"/><rect x="31.7" y="-4.2" width="3.1" height="8.4" fill="#EC1685"/></g>
<g transform="translate(359.4,245.1) rotate(70.7)"><line x1="17.7" y1="0" x2="28.5" y2="0" stroke="#3a3a3a" stroke-width="1.2"/><ellipse cx="0" cy="0" rx="9.0" ry="7.5" fill="url(#gG)"/><ellipse cx="17.7" cy="0" rx="9.0" ry="7.5" fill="url(#gB)"/><rect x="28.4" y="-4.2" width="3.2" height="8.4" fill="#1AA551"/><rect x="31.5" y="-4.2" width="3.1" height="8.4" fill="#EC1685"/></g>
<g transform="translate(320.3,218.8) rotate(153.5)"><line x1="17.9" y1="0" x2="28.9" y2="0" stroke="#3a3a3a" stroke-width="1.2"/><ellipse cx="0" cy="0" rx="9.0" ry="7.5" fill="url(#gG)"/><ellipse cx="17.9" cy="0" rx="9.0" ry="7.5" fill="url(#gB)"/><rect x="28.8" y="-4.2" width="3.2" height="8.4" fill="#1AA551"/><rect x="31.9" y="-4.2" width="3.1" height="8.4" fill="#EC1685"/></g>
<g transform="translate(315.9,192.4) rotate(-170.8)"><line x1="18.0" y1="0" x2="28.9" y2="0" stroke="#3a3a3a" stroke-width="1.2"/><ellipse cx="0" cy="0" rx="9.0" ry="7.5" fill="url(#gG)"/><ellipse cx="18.0" cy="0" rx="9.0" ry="7.5" fill="url(#gB)"/><rect x="28.8" y="-4.2" width="3.2" height="8.4" fill="#1AA551"/><rect x="31.9" y="-4.2" width="3.1" height="8.4" fill="#EC1685"/></g>
<path d="M905.2,145.6 Q878.5,158 875.1,198" fill="none" stroke="url(#inh3)" stroke-width="2.4"/><line x1="866.3" y1="198.4" x2="883.5" y2="198.4" stroke="#111" stroke-width="2.4"/>
<use href="#virus" transform="translate(923.6,114.4) rotate(34.0)"/>
<g transform="translate(884.9,61.6) rotate(-122.1)"><line x1="18.2" y1="0" x2="29.1" y2="0" stroke="#3a3a3a" stroke-width="1.2"/><ellipse cx="0" cy="0" rx="9.0" ry="7.5" fill="url(#gO)"/><ellipse cx="18.2" cy="0" rx="9.0" ry="7.5" fill="url(#gB)"/><rect x="29.0" y="-4.2" width="3.2" height="8.4" fill="#1AA551"/><rect x="32.1" y="-4.2" width="3.1" height="8.4" fill="#EC1685"/></g>
<g transform="translate(970.6,102.6) rotate(-22.1)"><line x1="17.8" y1="0" x2="29.1" y2="0" stroke="#3a3a3a" stroke-width="1.2"/><ellipse cx="0" cy="0" rx="9.0" ry="7.5" fill="url(#gO)"/><ellipse cx="17.8" cy="0" rx="9.0" ry="7.5" fill="url(#gB)"/><rect x="29.0" y="-4.2" width="3.2" height="8.4" fill="#1AA551"/><rect x="32.1" y="-4.2" width="3.1" height="8.4" fill="#EC1685"/></g>
<g transform="translate(878.5,133.1) rotate(121.2)"><line x1="18.2" y1="0" x2="28.4" y2="0" stroke="#3a3a3a" stroke-width="1.2"/><ellipse cx="0" cy="0" rx="9.0" ry="7.5" fill="url(#gO)"/><ellipse cx="18.2" cy="0" rx="9.0" ry="7.5" fill="url(#gB)"/><rect x="28.3" y="-4.2" width="3.2" height="8.4" fill="#1AA551"/><rect x="31.4" y="-4.2" width="3.1" height="8.4" fill="#EC1685"/></g>
<g transform="translate(918.5,158.4) rotate(106.7)"><line x1="18.2" y1="0" x2="28.5" y2="0" stroke="#3a3a3a" stroke-width="1.2"/><ellipse cx="0" cy="0" rx="9.0" ry="7.5" fill="url(#gO)"/><ellipse cx="18.2" cy="0" rx="9.0" ry="7.5" fill="url(#gB)"/><rect x="28.4" y="-4.2" width="3.2" height="8.4" fill="#1AA551"/><rect x="31.5" y="-4.2" width="3.1" height="8.4" fill="#EC1685"/></g>
<g transform="translate(953.8,166.0) rotate(71.6)"><line x1="18.6" y1="0" x2="28.5" y2="0" stroke="#3a3a3a" stroke-width="1.2"/><ellipse cx="0" cy="0" rx="9.0" ry="7.5" fill="url(#gO)"/><ellipse cx="18.6" cy="0" rx="9.0" ry="7.5" fill="url(#gB)"/><rect x="28.4" y="-4.2" width="3.2" height="8.4" fill="#1AA551"/><rect x="31.5" y="-4.2" width="3.1" height="8.4" fill="#EC1685"/></g>
<g transform="translate(825.3,95.8) rotate(-152.7)"><line x1="18.4" y1="0" x2="29.3" y2="0" stroke="#3a3a3a" stroke-width="1.2"/><ellipse cx="0" cy="0" rx="9.0" ry="7.5" fill="url(#gO)"/><ellipse cx="18.4" cy="0" rx="9.0" ry="7.5" fill="url(#gB)"/><rect x="29.2" y="-4.2" width="3.2" height="8.4" fill="#1AA551"/><rect x="32.3" y="-4.2" width="3.1" height="8.4" fill="#EC1685"/></g>
<g transform="translate(957.6,47.2) rotate(-90.0)"><line x1="17.8" y1="0" x2="28.7" y2="0" stroke="#3a3a3a" stroke-width="1.2"/><ellipse cx="0" cy="0" rx="9.0" ry="7.5" fill="url(#gO)"/><ellipse cx="17.8" cy="0" rx="9.0" ry="7.5" fill="url(#gB)"/><rect x="28.6" y="-4.2" width="3.2" height="8.4" fill="#1AA551"/><rect x="31.7" y="-4.2" width="3.1" height="8.4" fill="#EC1685"/></g>
<g transform="translate(1020.2,39.2) rotate(-54.4)"><line x1="18.1" y1="0" x2="28.9" y2="0" stroke="#3a3a3a" stroke-width="1.2"/><ellipse cx="0" cy="0" rx="9.0" ry="7.5" fill="url(#gO)"/><ellipse cx="18.1" cy="0" rx="9.0" ry="7.5" fill="url(#gB)"/><rect x="28.8" y="-4.2" width="3.2" height="8.4" fill="#1AA551"/><rect x="31.9" y="-4.2" width="3.1" height="8.4" fill="#EC1685"/></g>
<g transform="translate(1037.3,156.2) rotate(25.1)"><line x1="17.8" y1="0" x2="29.0" y2="0" stroke="#3a3a3a" stroke-width="1.2"/><ellipse cx="0" cy="0" rx="9.0" ry="7.5" fill="url(#gO)"/><ellipse cx="17.8" cy="0" rx="9.0" ry="7.5" fill="url(#gB)"/><rect x="28.9" y="-4.2" width="3.2" height="8.4" fill="#1AA551"/><rect x="32.0" y="-4.2" width="3.1" height="8.4" fill="#EC1685"/></g>
<use href="#virus" transform="translate(1032.0,272.7) rotate(0.0)"/>
<g transform="translate(969.9,254.8) rotate(-159.2)"><line x1="18.2" y1="0" x2="28.9" y2="0" stroke="#3a3a3a" stroke-width="1.2"/><ellipse cx="0" cy="0" rx="9.0" ry="7.5" fill="url(#gO)"/><ellipse cx="18.2" cy="0" rx="9.0" ry="7.5" fill="url(#gB)"/><rect x="28.8" y="-4.2" width="3.2" height="8.4" fill="#1AA551"/><rect x="31.9" y="-4.2" width="3.1" height="8.4" fill="#EC1685"/></g>
<g transform="translate(1069.4,240.7) rotate(-50.0)"><line x1="18.2" y1="0" x2="28.7" y2="0" stroke="#3a3a3a" stroke-width="1.2"/><ellipse cx="0" cy="0" rx="9.0" ry="7.5" fill="url(#gO)"/><ellipse cx="18.2" cy="0" rx="9.0" ry="7.5" fill="url(#gB)"/><rect x="28.6" y="-4.2" width="3.2" height="8.4" fill="#1AA551"/><rect x="31.7" y="-4.2" width="3.1" height="8.4" fill="#EC1685"/></g>
<use href="#virus" transform="translate(1589.3,271.7) rotate(0.0)"/>
<use href="#virus" transform="translate(1762.3,272.5) rotate(0.0)"/>
<g transform="translate(1603.7,52.7) rotate(-118.8)"><line x1="18.1" y1="0" x2="29.1" y2="0" stroke="#3a3a3a" stroke-width="1.2"/><ellipse cx="0" cy="0" rx="8.9" ry="7.3" fill="url(#gP)"/><ellipse cx="18.1" cy="0" rx="8.9" ry="7.3" fill="url(#gB)"/><rect x="29.0" y="-4.2" width="3.2" height="8.4" fill="#1AA551"/><rect x="32.1" y="-4.2" width="3.1" height="8.4" fill="#EC1685"/></g>
<g transform="translate(1653.4,56.9) rotate(-57.1)"><line x1="18.1" y1="0" x2="28.9" y2="0" stroke="#3a3a3a" stroke-width="1.2"/><ellipse cx="0" cy="0" rx="8.9" ry="7.3" fill="url(#gP)"/><ellipse cx="18.1" cy="0" rx="8.9" ry="7.3" fill="url(#gB)"/><rect x="28.8" y="-4.2" width="3.2" height="8.4" fill="#1AA551"/><rect x="31.9" y="-4.2" width="3.1" height="8.4" fill="#EC1685"/></g>
<g transform="translate(1584.2,88.9) rotate(-160.9)"><line x1="18.1" y1="0" x2="28.9" y2="0" stroke="#3a3a3a" stroke-width="1.2"/><ellipse cx="0" cy="0" rx="8.9" ry="7.3" fill="url(#gP)"/><ellipse cx="18.1" cy="0" rx="8.9" ry="7.3" fill="url(#gB)"/><rect x="28.8" y="-4.2" width="3.2" height="8.4" fill="#1AA551"/><rect x="31.9" y="-4.2" width="3.1" height="8.4" fill="#EC1685"/></g>
<g transform="translate(1693.7,79.1) rotate(-20.4)"><line x1="18.2" y1="0" x2="28.8" y2="0" stroke="#3a3a3a" stroke-width="1.2"/><ellipse cx="0" cy="0" rx="8.9" ry="7.3" fill="url(#gP)"/><ellipse cx="18.2" cy="0" rx="8.9" ry="7.3" fill="url(#gB)"/><rect x="28.7" y="-4.2" width="3.2" height="8.4" fill="#1AA551"/><rect x="31.8" y="-4.2" width="3.1" height="8.4" fill="#EC1685"/></g>
<g transform="translate(1642.0,131.2) rotate(119.5)"><line x1="18.5" y1="0" x2="28.9" y2="0" stroke="#3a3a3a" stroke-width="1.2"/><ellipse cx="0" cy="0" rx="8.9" ry="7.3" fill="url(#gP)"/><ellipse cx="18.5" cy="0" rx="8.9" ry="7.3" fill="url(#gB)"/><rect x="28.8" y="-4.2" width="3.2" height="8.4" fill="#1AA551"/><rect x="31.9" y="-4.2" width="3.1" height="8.4" fill="#EC1685"/></g>
<g transform="translate(1702.7,126.8) rotate(18.4)"><line x1="18.1" y1="0" x2="28.8" y2="0" stroke="#3a3a3a" stroke-width="1.2"/><ellipse cx="0" cy="0" rx="8.9" ry="7.3" fill="url(#gP)"/><ellipse cx="18.1" cy="0" rx="8.9" ry="7.3" fill="url(#gB)"/><rect x="28.7" y="-4.2" width="3.2" height="8.4" fill="#1AA551"/><rect x="31.8" y="-4.2" width="3.1" height="8.4" fill="#EC1685"/></g>
<g transform="translate(1537.5,154.3) rotate(54.7)"><line x1="18.5" y1="0" x2="29.0" y2="0" stroke="#3a3a3a" stroke-width="1.2"/><ellipse cx="0" cy="0" rx="8.9" ry="7.3" fill="url(#gP)"/><ellipse cx="18.5" cy="0" rx="8.9" ry="7.3" fill="url(#gB)"/><rect x="28.9" y="-4.2" width="3.2" height="8.4" fill="#1AA551"/><rect x="32.0" y="-4.2" width="3.1" height="8.4" fill="#EC1685"/></g>
<g transform="translate(1597.7,203.2) rotate(34.5)"><line x1="18.2" y1="0" x2="29.0" y2="0" stroke="#3a3a3a" stroke-width="1.2"/><ellipse cx="0" cy="0" rx="8.9" ry="7.3" fill="url(#gP)"/><ellipse cx="18.2" cy="0" rx="8.9" ry="7.3" fill="url(#gB)"/><rect x="28.9" y="-4.2" width="3.2" height="8.4" fill="#1AA551"/><rect x="32.0" y="-4.2" width="3.1" height="8.4" fill="#EC1685"/></g>
<g transform="translate(1720.4,184.7) rotate(143.8)"><line x1="18.0" y1="0" x2="29.4" y2="0" stroke="#3a3a3a" stroke-width="1.2"/><ellipse cx="0" cy="0" rx="8.9" ry="7.3" fill="url(#gP)"/><ellipse cx="18.0" cy="0" rx="8.9" ry="7.3" fill="url(#gB)"/><rect x="29.3" y="-4.2" width="3.2" height="8.4" fill="#1AA551"/><rect x="32.4" y="-4.2" width="3.1" height="8.4" fill="#EC1685"/></g>
<g transform="translate(1806.4,240.7) rotate(-59.7)"><line x1="17.8" y1="0" x2="28.5" y2="0" stroke="#3a3a3a" stroke-width="1.2"/><ellipse cx="0" cy="0" rx="8.9" ry="7.3" fill="url(#gP)"/><ellipse cx="17.8" cy="0" rx="8.9" ry="7.3" fill="url(#gB)"/><rect x="28.4" y="-4.2" width="3.2" height="8.4" fill="#1AA551"/><rect x="31.5" y="-4.2" width="3.1" height="8.4" fill="#EC1685"/></g>
<text transform="translate(340.3,98.6) scale(1,1.0)" font-size="25.3" fill="#0FA028">WT-like binders</text>
<text transform="translate(1024.4,99.0) scale(1,1.0)" font-size="25.3" fill="#F58233">Intermediate binders</text>
<text transform="translate(1740.4,102) scale(1,1.0)" font-size="25.2" fill="#8A3FE8">Poor binders</text>
<text transform="translate(310.6,402.6) scale(1,1.0)" font-size="29.55" text-anchor="middle" fill="#231F20">Strong competition</text>
<text transform="translate(310.6,437.8) scale(1,1.0)" font-size="29.55" text-anchor="middle" fill="#231F20">rVSVs not able to bind</text>
<text transform="translate(984,402.6) scale(1,1.0)" font-size="29.55" text-anchor="middle" fill="#231F20">Intermediate competition</text>
<text transform="translate(984,437.8) scale(1,1.0)" font-size="29.55" text-anchor="middle" fill="#231F20">rVSVs partially able to bind</text>
<text transform="translate(1661.5,402.6) scale(1,1.0)" font-size="29.55" text-anchor="middle" fill="#231F20">Weak competition</text>
<text transform="translate(1661.5,437.8) scale(1,1.0)" font-size="29.55" text-anchor="middle" fill="#231F20">rVSVs free to bind</text>
<text transform="translate(0,37.0) scale(1,1.06)" font-size="40.5" font-weight="bold" fill="#000">a</text>
<line x1="93.6" y1="565.8" x2="93.6" y2="959.0" stroke="#1a1a1a" stroke-width="1.3"/>
<line x1="90.8" y1="958.4" x2="93.6" y2="958.4" stroke="#1a1a1a" stroke-width="1.2"/>
<line x1="92.19999999999999" y1="925.7" x2="93.6" y2="925.7" stroke="#1a1a1a" stroke-width="1.2"/>
<line x1="90.8" y1="893.1" x2="93.6" y2="893.1" stroke="#1a1a1a" stroke-width="1.2"/>
<line x1="92.19999999999999" y1="860.4" x2="93.6" y2="860.4" stroke="#1a1a1a" stroke-width="1.2"/>
<line x1="90.8" y1="827.7" x2="93.6" y2="827.7" stroke="#1a1a1a" stroke-width="1.2"/>
<line x1="92.19999999999999" y1="795.0" x2="93.6" y2="795.0" stroke="#1a1a1a" stroke-width="1.2"/>
<line x1="90.8" y1="762.4" x2="93.6" y2="762.4" stroke="#1a1a1a" stroke-width="1.2"/>
<line x1="92.19999999999999" y1="729.7" x2="93.6" y2="729.7" stroke="#1a1a1a" stroke-width="1.2"/>
<line x1="90.8" y1="697.0" x2="93.6" y2="697.0" stroke="#1a1a1a" stroke-width="1.2"/>
<line x1="92.19999999999999" y1="664.4" x2="93.6" y2="664.4" stroke="#1a1a1a" stroke-width="1.2"/>
<line x1="90.8" y1="631.7" x2="93.6" y2="631.7" stroke="#1a1a1a" stroke-width="1.2"/>
<line x1="92.19999999999999" y1="599.0" x2="93.6" y2="599.0" stroke="#1a1a1a" stroke-width="1.2"/>
<line x1="90.8" y1="566.4" x2="93.6" y2="566.4" stroke="#1a1a1a" stroke-width="1.2"/>
<text transform="translate(86.6,965.1) scale(1,1.06)" font-size="25" text-anchor="end" fill="#000">0</text>
<text transform="translate(86.6,899.8) scale(1,1.06)" font-size="25" text-anchor="end" fill="#000">20</text>
<text transform="translate(86.6,834.4) scale(1,1.06)" font-size="25" text-anchor="end" fill="#000">40</text>
<text transform="translate(86.6,769.1) scale(1,1.06)" font-size="25" text-anchor="end" fill="#000">60</text>
<text transform="translate(86.6,703.7) scale(1,1.06)" font-size="25" text-anchor="end" fill="#000">80</text>
<text transform="translate(86.6,638.4) scale(1,1.06)" font-size="25" text-anchor="end" fill="#000">100</text>
<text transform="translate(86.6,573.1) scale(1,1.06)" font-size="25" text-anchor="end" fill="#000">120</text>
<line x1="108.2" y1="982.6" x2="491.5" y2="982.6" stroke="#1a1a1a" stroke-width="1.3"/>
<line x1="137.2" y1="982.6" x2="137.2" y2="985.4" stroke="#1a1a1a" stroke-width="1.2"/>
<line x1="196.1" y1="982.6" x2="196.1" y2="984.0" stroke="#1a1a1a" stroke-width="1.2"/>
<line x1="255.1" y1="982.6" x2="255.1" y2="985.4" stroke="#1a1a1a" stroke-width="1.2"/>
<line x1="314.1" y1="982.6" x2="314.1" y2="984.0" stroke="#1a1a1a" stroke-width="1.2"/>
<line x1="373.0" y1="982.6" x2="373.0" y2="985.4" stroke="#1a1a1a" stroke-width="1.2"/>
<line x1="431.9" y1="982.6" x2="431.9" y2="984.0" stroke="#1a1a1a" stroke-width="1.2"/>
<line x1="490.9" y1="982.6" x2="490.9" y2="985.4" stroke="#1a1a1a" stroke-width="1.2"/>
<text transform="translate(139.5,1012.8) scale(1,1.06)" font-size="25" text-anchor="middle" fill="#000">-2</text>
<text transform="translate(257.4,1012.8) scale(1,1.06)" font-size="25" text-anchor="middle" fill="#000">-1</text>
<text transform="translate(374.4,1012.8) scale(1,1.06)" font-size="25" text-anchor="middle" fill="#000">0</text>
<text transform="translate(492.3,1012.8) scale(1,1.06)" font-size="25" text-anchor="middle" fill="#000">1</text>
<text transform="translate(287,1049.2) scale(1,1.06)" font-size="25" text-anchor="middle" fill="#000">log (uM sEC1-2)</text>
<text transform="translate(35.5,778.2) rotate(-90) scale(1,1.06)" font-size="24.6" text-anchor="middle" fill="#000">Relative ELISA signal (%)</text>
<text transform="translate(313.5,543.8) scale(1,1.06)" font-size="29.3" text-anchor="middle" fill="#0F9D4A">WT-like binders</text>
<polyline points="150.2,637.7 154.0,638.0 157.9,638.3 161.8,638.7 165.6,639.1 169.5,639.5 173.4,640.0 177.2,640.5 181.1,641.1 185.0,641.7 188.8,642.4 192.7,643.1 196.6,644.0 200.4,644.9 204.3,645.9 208.1,646.9 212.0,648.1 215.9,649.4 219.7,650.8 223.6,652.4 227.5,654.0 231.3,655.9 235.2,657.9 239.1,660.0 242.9,662.4 246.8,664.9 250.7,667.6 254.5,670.6 258.4,673.8 262.3,677.2 266.1,680.9 270.0,684.9 273.9,689.1 277.7,693.6 281.6,698.4 285.5,703.4 289.3,708.8 293.2,714.4 297.1,720.4 300.9,726.6 304.8,733.1 308.6,739.8 312.5,746.7 316.4,753.9 320.2,761.3 324.1,768.8 328.0,776.4 331.8,784.1 335.7,791.9 339.6,799.7 343.4,807.5 347.3,815.2 351.2,822.9 355.0,830.4 358.9,837.8 362.8,845.0 366.6,852.0 370.5,858.8 374.4,865.3 378.2,871.5 382.1,877.5 386.0,883.2 389.8,888.7 393.7,893.8 397.6,898.6 401.4,903.2 405.3,907.5 409.1,911.5 413.0,915.2 416.9,918.7 420.7,921.9 424.6,924.9 428.5,927.7 432.3,930.3 436.2,932.7 440.1,934.9 443.9,936.9 447.8,938.8 451.7,940.5 455.5,942.0" fill="none" stroke="#AAAAAA" stroke-width="1.65"/>
<path d="M150.2,615.4 V628.4 M141.0,615.4 h18.4 M141.0,628.4 h18.4" stroke="#AAAAAA" stroke-width="1.55" fill="none"/>
<path d="M186.7,644.8 V657.8 M177.5,644.8 h18.4 M177.5,657.8 h18.4" stroke="#AAAAAA" stroke-width="1.55" fill="none"/>
<path d="M222.1,648.0 V661.1 M212.9,648.0 h18.4 M212.9,661.1 h18.4" stroke="#AAAAAA" stroke-width="1.55" fill="none"/>
<path d="M257.5,664.4 V690.5 M248.3,664.4 h18.4 M248.3,690.5 h18.4" stroke="#AAAAAA" stroke-width="1.55" fill="none"/>
<path d="M292.8,710.1 V736.2 M283.6,710.1 h18.4 M283.6,736.2 h18.4" stroke="#AAAAAA" stroke-width="1.55" fill="none"/>
<path d="M328.2,739.5 V785.2 M319.0,739.5 h18.4 M319.0,785.2 h18.4" stroke="#AAAAAA" stroke-width="1.55" fill="none"/>
<path d="M363.6,831.0 V850.6 M354.4,831.0 h18.4 M354.4,850.6 h18.4" stroke="#AAAAAA" stroke-width="1.55" fill="none"/>
<path d="M398.9,915.9 V922.5 M389.7,915.9 h18.4 M389.7,922.5 h18.4" stroke="#AAAAAA" stroke-width="1.55" fill="none"/>
<path d="M455.5,932.3 V938.8 M446.3,932.3 h18.4 M446.3,938.8 h18.4" stroke="#AAAAAA" stroke-width="1.55" fill="none"/>
<path d="M150.2,614.1 L158.9,629.7 L141.5,629.7 Z" fill="#AAAAAA"/>
<path d="M186.7,643.5 L195.4,659.1 L178.0,659.1 Z" fill="#AAAAAA"/>
<path d="M222.1,646.8 L230.8,662.4 L213.4,662.4 Z" fill="#AAAAAA"/>
<path d="M257.5,669.6 L266.2,685.2 L248.8,685.2 Z" fill="#AAAAAA"/>
<path d="M292.8,715.4 L301.5,731.0 L284.1,731.0 Z" fill="#AAAAAA"/>
<path d="M328.2,754.6 L336.9,770.2 L319.5,770.2 Z" fill="#AAAAAA"/>
<path d="M363.6,833.0 L372.3,848.6 L354.9,848.6 Z" fill="#AAAAAA"/>
<path d="M398.9,911.4 L407.6,927.0 L390.2,927.0 Z" fill="#AAAAAA"/>
<path d="M455.5,927.7 L464.2,943.3 L446.8,943.3 Z" fill="#AAAAAA"/>
<polyline points="150.2,648.1 154.0,648.2 157.9,648.3 161.8,648.3 165.6,648.4 169.5,648.6 173.4,648.7 177.2,648.8 181.1,649.0 185.0,649.2 188.8,649.4 192.7,649.7 196.6,650.0 200.4,650.4 204.3,650.8 208.1,651.2 212.0,651.8 215.9,652.4 219.7,653.1 223.6,653.9 227.5,654.9 231.3,655.9 235.2,657.2 239.1,658.6 242.9,660.2 246.8,662.0 250.7,664.1 254.5,666.5 258.4,669.2 262.3,672.2 266.1,675.6 270.0,679.4 273.9,683.7 277.7,688.5 281.6,693.8 285.5,699.6 289.3,706.0 293.2,713.0 297.1,720.5 300.9,728.6 304.8,737.2 308.6,746.3 312.5,755.8 316.4,765.7 320.2,775.9 324.1,786.2 328.0,796.5 331.8,806.9 335.7,817.1 339.6,827.0 343.4,836.6 347.3,845.8 351.2,854.5 355.0,862.8 358.9,870.4 362.8,877.5 366.6,884.0 370.5,889.9 374.4,895.3 378.2,900.2 382.1,904.6 386.0,908.5 389.8,912.0 393.7,915.1 397.6,917.9 401.4,920.3 405.3,922.5 409.1,924.3 413.0,926.0 416.9,927.4 420.7,928.7 424.6,929.8 428.5,930.8 432.3,931.6 436.2,932.3 440.1,933.0 443.9,933.5 447.8,934.0 451.7,934.4 455.5,934.8" fill="none" stroke="#521B93" stroke-width="1.65"/>
<path d="M150.2,641.5 V654.6 M141.0,641.5 h18.4 M141.0,654.6 h18.4" stroke="#521B93" stroke-width="1.55" fill="none"/>
<path d="M186.7,644.8 V657.8 M177.5,644.8 h18.4 M177.5,657.8 h18.4" stroke="#521B93" stroke-width="1.55" fill="none"/>
<path d="M222.1,651.3 V664.4 M212.9,651.3 h18.4 M212.9,664.4 h18.4" stroke="#521B93" stroke-width="1.55" fill="none"/>
<path d="M257.5,641.5 V687.2 M248.3,641.5 h18.4 M248.3,687.2 h18.4" stroke="#521B93" stroke-width="1.55" fill="none"/>
<path d="M292.8,684.0 V723.2 M283.6,684.0 h18.4 M283.6,723.2 h18.4" stroke="#521B93" stroke-width="1.55" fill="none"/>
<path d="M328.2,798.3 V824.5 M319.0,798.3 h18.4 M319.0,824.5 h18.4" stroke="#521B93" stroke-width="1.55" fill="none"/>
<path d="M363.6,853.9 V880.0 M354.4,853.9 h18.4 M354.4,880.0 h18.4" stroke="#521B93" stroke-width="1.55" fill="none"/>
<path d="M398.9,915.9 V922.5 M389.7,915.9 h18.4 M389.7,922.5 h18.4" stroke="#521B93" stroke-width="1.55" fill="none"/>
<path d="M455.5,935.5 V942.1 M446.3,935.5 h18.4 M446.3,942.1 h18.4" stroke="#521B93" stroke-width="1.55" fill="none"/>
<path d="M150.2,640.2 L158.9,655.8 L141.5,655.8 Z" fill="#521B93"/>
<path d="M186.7,643.5 L195.4,659.1 L178.0,659.1 Z" fill="#521B93"/>
<path d="M222.1,650.0 L230.8,665.6 L213.4,665.6 Z" fill="#521B93"/>
<path d="M257.5,656.6 L266.2,672.2 L248.8,672.2 Z" fill="#521B93"/>
<path d="M292.8,695.8 L301.5,711.4 L284.1,711.4 Z" fill="#521B93"/>
<path d="M328.2,803.6 L336.9,819.2 L319.5,819.2 Z" fill="#521B93"/>
<path d="M363.6,859.1 L372.3,874.7 L354.9,874.7 Z" fill="#521B93"/>
<path d="M398.9,911.4 L407.6,927.0 L390.2,927.0 Z" fill="#521B93"/>
<path d="M455.5,931.0 L464.2,946.6 L446.8,946.6 Z" fill="#521B93"/>
<polyline points="150.2,652.0 154.0,652.1 157.9,652.2 161.8,652.4 165.6,652.5 169.5,652.7 173.4,652.8 177.2,653.1 181.1,653.3 185.0,653.6 188.8,653.9 192.7,654.3 196.6,654.7 200.4,655.2 204.3,655.8 208.1,656.5 212.0,657.2 215.9,658.1 219.7,659.1 223.6,660.2 227.5,661.6 231.3,663.1 235.2,664.8 239.1,666.7 242.9,668.9 246.8,671.5 250.7,674.3 254.5,677.5 258.4,681.2 262.3,685.3 266.1,689.8 270.0,694.9 273.9,700.5 277.7,706.6 281.6,713.4 285.5,720.7 289.3,728.7 293.2,737.1 297.1,746.1 300.9,755.6 304.8,765.5 308.6,775.8 312.5,786.2 316.4,796.8 320.2,807.5 324.1,818.0 328.0,828.3 331.8,838.4 335.7,848.1 339.6,857.3 343.4,866.0 347.3,874.2 351.2,881.8 355.0,888.8 358.9,895.3 362.8,901.1 366.6,906.4 370.5,911.2 374.4,915.5 378.2,919.3 382.1,922.7 386.0,925.7 389.8,928.4 393.7,930.7 397.6,932.8 401.4,934.6 405.3,936.2 409.1,937.6 413.0,938.8 416.9,939.9 420.7,940.8 424.6,941.6 428.5,942.3 432.3,943.0 436.2,943.5 440.1,943.9 443.9,944.3 447.8,944.7 451.7,945.0 455.5,945.3" fill="none" stroke="#9A3CFF" stroke-width="1.65"/>
<path d="M150.2,648.0 V661.1 M141.0,648.0 h18.4 M141.0,661.1 h18.4" stroke="#9A3CFF" stroke-width="1.55" fill="none"/>
<path d="M186.7,648.0 V661.1 M177.5,648.0 h18.4 M177.5,661.1 h18.4" stroke="#9A3CFF" stroke-width="1.55" fill="none"/>
<path d="M222.1,651.3 V670.9 M212.9,651.3 h18.4 M212.9,670.9 h18.4" stroke="#9A3CFF" stroke-width="1.55" fill="none"/>
<path d="M257.5,641.5 V700.3 M248.3,641.5 h18.4 M248.3,700.3 h18.4" stroke="#9A3CFF" stroke-width="1.55" fill="none"/>
<path d="M292.8,706.8 V778.7 M283.6,706.8 h18.4 M283.6,778.7 h18.4" stroke="#9A3CFF" stroke-width="1.55" fill="none"/>
<path d="M328.2,806.5 V849.0 M319.0,806.5 h18.4 M319.0,849.0 h18.4" stroke="#9A3CFF" stroke-width="1.55" fill="none"/>
<path d="M363.6,883.3 V915.9 M354.4,883.3 h18.4 M354.4,915.9 h18.4" stroke="#9A3CFF" stroke-width="1.55" fill="none"/>
<path d="M398.9,932.3 V938.8 M389.7,932.3 h18.4 M389.7,938.8 h18.4" stroke="#9A3CFF" stroke-width="1.55" fill="none"/>
<path d="M455.5,943.7 V947.0 M446.3,943.7 h18.4 M446.3,947.0 h18.4" stroke="#9A3CFF" stroke-width="1.55" fill="none"/>
<path d="M150.2,646.8 L158.9,662.4 L141.5,662.4 Z" fill="#9A3CFF"/>
<path d="M186.7,646.8 L195.4,662.4 L178.0,662.4 Z" fill="#9A3CFF"/>
<path d="M222.1,653.3 L230.8,668.9 L213.4,668.9 Z" fill="#9A3CFF"/>
<path d="M257.5,663.1 L266.2,678.7 L248.8,678.7 Z" fill="#9A3CFF"/>
<path d="M292.8,735.0 L301.5,750.6 L284.1,750.6 Z" fill="#9A3CFF"/>
<path d="M328.2,819.9 L336.9,835.5 L319.5,835.5 Z" fill="#9A3CFF"/>
<path d="M363.6,891.8 L372.3,907.4 L354.9,907.4 Z" fill="#9A3CFF"/>
<path d="M398.9,927.7 L407.6,943.3 L390.2,943.3 Z" fill="#9A3CFF"/>
<path d="M455.5,937.5 L464.2,953.1 L446.8,953.1 Z" fill="#9A3CFF"/>
<polyline points="150.2,647.5 154.0,647.7 157.9,647.9 161.8,648.1 165.6,648.3 169.5,648.6 173.4,648.9 177.2,649.3 181.1,649.6 185.0,650.1 188.8,650.5 192.7,651.1 196.6,651.7 200.4,652.4 204.3,653.1 208.1,654.0 212.0,654.9 215.9,656.0 219.7,657.2 223.6,658.5 227.5,660.0 231.3,661.7 235.2,663.5 239.1,665.6 242.9,667.9 246.8,670.4 250.7,673.2 254.5,676.2 258.4,679.6 262.3,683.3 266.1,687.3 270.0,691.8 273.9,696.5 277.7,701.7 281.6,707.3 285.5,713.3 289.3,719.7 293.2,726.5 297.1,733.7 300.9,741.3 304.8,749.2 308.6,757.4 312.5,765.9 316.4,774.5 320.2,783.4 324.1,792.3 328.0,801.2 331.8,810.1 335.7,819.0 339.6,827.6 343.4,836.1 347.3,844.3 351.2,852.2 355.0,859.7 358.9,866.9 362.8,873.7 366.6,880.1 370.5,886.1 374.4,891.7 378.2,896.9 382.1,901.7 386.0,906.1 389.8,910.1 393.7,913.8 397.6,917.2 401.4,920.3 405.3,923.0 409.1,925.6 413.0,927.8 416.9,929.9 420.7,931.7 424.6,933.4 428.5,934.9 432.3,936.2 436.2,937.4 440.1,938.5 443.9,939.4 447.8,940.3 451.7,941.0 455.5,941.7" fill="none" stroke="#0432FF" stroke-width="1.65"/>
<path d="M150.2,631.7 V651.3 M141.0,631.7 h18.4 M141.0,651.3 h18.4" stroke="#0432FF" stroke-width="1.55" fill="none"/>
<path d="M186.7,643.1 V666.0 M177.5,643.1 h18.4 M177.5,666.0 h18.4" stroke="#0432FF" stroke-width="1.55" fill="none"/>
<path d="M222.1,648.0 V667.6 M212.9,648.0 h18.4 M212.9,667.6 h18.4" stroke="#0432FF" stroke-width="1.55" fill="none"/>
<path d="M257.5,674.2 V700.3 M248.3,674.2 h18.4 M248.3,700.3 h18.4" stroke="#0432FF" stroke-width="1.55" fill="none"/>
<path d="M292.8,693.8 V733.0 M283.6,693.8 h18.4 M283.6,733.0 h18.4" stroke="#0432FF" stroke-width="1.55" fill="none"/>
<path d="M328.2,798.3 V824.5 M319.0,798.3 h18.4 M319.0,824.5 h18.4" stroke="#0432FF" stroke-width="1.55" fill="none"/>
<path d="M363.6,857.1 V883.3 M354.4,857.1 h18.4 M354.4,883.3 h18.4" stroke="#0432FF" stroke-width="1.55" fill="none"/>
<path d="M398.9,915.9 V922.5 M389.7,915.9 h18.4 M389.7,922.5 h18.4" stroke="#0432FF" stroke-width="1.55" fill="none"/>
<path d="M455.5,938.8 V945.3 M446.3,938.8 h18.4 M446.3,945.3 h18.4" stroke="#0432FF" stroke-width="1.55" fill="none"/>
<path d="M150.2,633.7 L158.9,649.3 L141.5,649.3 Z" fill="#0432FF"/>
<path d="M186.7,646.8 L195.4,662.4 L178.0,662.4 Z" fill="#0432FF"/>
<path d="M222.1,650.0 L230.8,665.6 L213.4,665.6 Z" fill="#0432FF"/>
<path d="M257.5,679.4 L266.2,695.0 L248.8,695.0 Z" fill="#0432FF"/>
<path d="M292.8,705.6 L301.5,721.2 L284.1,721.2 Z" fill="#0432FF"/>
<path d="M328.2,803.6 L336.9,819.2 L319.5,819.2 Z" fill="#0432FF"/>
<path d="M363.6,862.4 L372.3,878.0 L354.9,878.0 Z" fill="#0432FF"/>
<path d="M398.9,911.4 L407.6,927.0 L390.2,927.0 Z" fill="#0432FF"/>
<path d="M455.5,934.3 L464.2,949.9 L446.8,949.9 Z" fill="#0432FF"/>
<polyline points="150.2,647.2 154.0,647.4 157.9,647.5 161.8,647.8 165.6,648.0 169.5,648.2 173.4,648.5 177.2,648.9 181.1,649.2 185.0,649.6 188.8,650.1 192.7,650.6 196.6,651.1 200.4,651.8 204.3,652.5 208.1,653.2 212.0,654.1 215.9,655.0 219.7,656.1 223.6,657.3 227.5,658.6 231.3,660.1 235.2,661.7 239.1,663.4 242.9,665.4 246.8,667.6 250.7,670.0 254.5,672.6 258.4,675.5 262.3,678.7 266.1,682.1 270.0,685.9 273.9,690.0 277.7,694.4 281.6,699.2 285.5,704.3 289.3,709.9 293.2,715.8 297.1,722.0 300.9,728.7 304.8,735.7 308.6,743.0 312.5,750.6 316.4,758.5 320.2,766.7 324.1,775.1 328.0,783.6 331.8,792.2 335.7,800.9 339.6,809.5 343.4,818.1 347.3,826.6 351.2,834.9 355.0,843.0 358.9,850.9 362.8,858.5 366.6,865.7 370.5,872.6 374.4,879.2 378.2,885.4 382.1,891.2 386.0,896.6 389.8,901.7 393.7,906.4 397.6,910.8 401.4,914.8 405.3,918.5 409.1,921.9 413.0,925.0 416.9,927.8 420.7,930.4 424.6,932.7 428.5,934.8 432.3,936.7 436.2,938.5 440.1,940.1 443.9,941.5 447.8,942.8 451.7,943.9 455.5,945.0" fill="none" stroke="#0A96FF" stroke-width="1.65"/>
<path d="M150.2,625.2 V644.8 M141.0,625.2 h18.4 M141.0,644.8 h18.4" stroke="#0A96FF" stroke-width="1.55" fill="none"/>
<path d="M186.7,644.8 V664.4 M177.5,644.8 h18.4 M177.5,664.4 h18.4" stroke="#0A96FF" stroke-width="1.55" fill="none"/>
<path d="M222.1,648.0 V667.6 M212.9,648.0 h18.4 M212.9,667.6 h18.4" stroke="#0A96FF" stroke-width="1.55" fill="none"/>
<path d="M257.5,670.9 V697.0 M248.3,670.9 h18.4 M248.3,697.0 h18.4" stroke="#0A96FF" stroke-width="1.55" fill="none"/>
<path d="M292.8,706.8 V733.0 M283.6,706.8 h18.4 M283.6,733.0 h18.4" stroke="#0A96FF" stroke-width="1.55" fill="none"/>
<path d="M328.2,755.8 V782.0 M319.0,755.8 h18.4 M319.0,782.0 h18.4" stroke="#0A96FF" stroke-width="1.55" fill="none"/>
<path d="M363.6,857.1 V876.7 M354.4,857.1 h18.4 M354.4,876.7 h18.4" stroke="#0A96FF" stroke-width="1.55" fill="none"/>
<path d="M398.9,915.9 V922.5 M389.7,915.9 h18.4 M389.7,922.5 h18.4" stroke="#0A96FF" stroke-width="1.55" fill="none"/>
<path d="M455.5,935.5 V942.1 M446.3,935.5 h18.4 M446.3,942.1 h18.4" stroke="#0A96FF" stroke-width="1.55" fill="none"/>
<path d="M150.2,627.2 L158.9,642.8 L141.5,642.8 Z" fill="#0A96FF"/>
<path d="M186.7,646.8 L195.4,662.4 L178.0,662.4 Z" fill="#0A96FF"/>
<path d="M222.1,650.0 L230.8,665.6 L213.4,665.6 Z" fill="#0A96FF"/>
<path d="M257.5,676.2 L266.2,691.8 L248.8,691.8 Z" fill="#0A96FF"/>
<path d="M292.8,712.1 L301.5,727.7 L284.1,727.7 Z" fill="#0A96FF"/>
<path d="M328.2,761.1 L336.9,776.7 L319.5,776.7 Z" fill="#0A96FF"/>
<path d="M363.6,859.1 L372.3,874.7 L354.9,874.7 Z" fill="#0A96FF"/>
<path d="M398.9,911.4 L407.6,927.0 L390.2,927.0 Z" fill="#0A96FF"/>
<path d="M455.5,931.0 L464.2,946.6 L446.8,946.6 Z" fill="#0A96FF"/>
<polyline points="150.2,625.1 154.0,625.2 157.9,625.3 161.8,625.4 165.6,625.6 169.5,625.7 173.4,626.0 177.2,626.2 181.1,626.4 185.0,626.7 188.8,627.1 192.7,627.5 196.6,627.9 200.4,628.4 204.3,629.0 208.1,629.7 212.0,630.4 215.9,631.3 219.7,632.2 223.6,633.3 227.5,634.6 231.3,636.0 235.2,637.6 239.1,639.4 242.9,641.5 246.8,643.8 250.7,646.4 254.5,649.3 258.4,652.5 262.3,656.2 266.1,660.3 270.0,664.8 273.9,669.8 277.7,675.2 281.6,681.3 285.5,687.8 289.3,694.9 293.2,702.6 297.1,710.9 300.9,719.6 304.8,728.9 308.6,738.6 312.5,748.6 316.4,759.0 320.2,769.7 324.1,780.5 328.0,791.3 331.8,802.1 335.7,812.7 339.6,823.1 343.4,833.2 347.3,842.9 351.2,852.2 355.0,861.0 358.9,869.2 362.8,876.9 366.6,884.0 370.5,890.6 374.4,896.6 378.2,902.1 382.1,907.1 386.0,911.6 389.8,915.7 393.7,919.3 397.6,922.6 401.4,925.5 405.3,928.1 409.1,930.4 413.0,932.5 416.9,934.3 420.7,935.9 424.6,937.3 428.5,938.6 432.3,939.7 436.2,940.7 440.1,941.5 443.9,942.3 447.8,942.9 451.7,943.5 455.5,944.0" fill="none" stroke="#16C8FB" stroke-width="1.65"/>
<path d="M150.2,600.7 V623.5 M141.0,600.7 h18.4 M141.0,623.5 h18.4" stroke="#16C8FB" stroke-width="1.55" fill="none"/>
<path d="M186.7,602.3 V628.4 M177.5,602.3 h18.4 M177.5,628.4 h18.4" stroke="#16C8FB" stroke-width="1.55" fill="none"/>
<path d="M222.1,628.4 V648.0 M212.9,628.4 h18.4 M212.9,648.0 h18.4" stroke="#16C8FB" stroke-width="1.55" fill="none"/>
<path d="M257.5,670.9 V703.6 M248.3,670.9 h18.4 M248.3,703.6 h18.4" stroke="#16C8FB" stroke-width="1.55" fill="none"/>
<path d="M292.8,670.9 V703.6 M283.6,670.9 h18.4 M283.6,703.6 h18.4" stroke="#16C8FB" stroke-width="1.55" fill="none"/>
<path d="M328.2,765.6 V791.8 M319.0,765.6 h18.4 M319.0,791.8 h18.4" stroke="#16C8FB" stroke-width="1.55" fill="none"/>
<path d="M363.6,893.1 V906.1 M354.4,893.1 h18.4 M354.4,906.1 h18.4" stroke="#16C8FB" stroke-width="1.55" fill="none"/>
<path d="M398.9,915.9 V922.5 M389.7,915.9 h18.4 M389.7,922.5 h18.4" stroke="#16C8FB" stroke-width="1.55" fill="none"/>
<path d="M455.5,935.5 V942.1 M446.3,935.5 h18.4 M446.3,942.1 h18.4" stroke="#16C8FB" stroke-width="1.55" fill="none"/>
<path d="M150.2,604.3 L158.9,619.9 L141.5,619.9 Z" fill="#16C8FB"/>
<path d="M186.7,607.6 L195.4,623.2 L178.0,623.2 Z" fill="#16C8FB"/>
<path d="M222.1,630.4 L230.8,646.0 L213.4,646.0 Z" fill="#16C8FB"/>
<path d="M257.5,679.4 L266.2,695.0 L248.8,695.0 Z" fill="#16C8FB"/>
<path d="M292.8,679.4 L301.5,695.0 L284.1,695.0 Z" fill="#16C8FB"/>
<path d="M328.2,770.9 L336.9,786.5 L319.5,786.5 Z" fill="#16C8FB"/>
<path d="M363.6,891.8 L372.3,907.4 L354.9,907.4 Z" fill="#16C8FB"/>
<path d="M398.9,911.4 L407.6,927.0 L390.2,927.0 Z" fill="#16C8FB"/>
<path d="M455.5,931.0 L464.2,946.6 L446.8,946.6 Z" fill="#16C8FB"/>
<polyline points="150.2,635.5 154.0,635.6 157.9,635.8 161.8,636.0 165.6,636.3 169.5,636.6 173.4,636.9 177.2,637.2 181.1,637.7 185.0,638.1 188.8,638.7 192.7,639.3 196.6,640.0 200.4,640.8 204.3,641.7 208.1,642.7 212.0,643.8 215.9,645.1 219.7,646.6 223.6,648.3 227.5,650.1 231.3,652.3 235.2,654.6 239.1,657.3 242.9,660.3 246.8,663.6 250.7,667.3 254.5,671.4 258.4,676.0 262.3,681.0 266.1,686.4 270.0,692.4 273.9,698.9 277.7,705.9 281.6,713.4 285.5,721.5 289.3,729.9 293.2,738.9 297.1,748.1 300.9,757.8 304.8,767.6 308.6,777.7 312.5,787.8 316.4,797.9 320.2,807.9 324.1,817.7 328.0,827.3 331.8,836.6 335.7,845.4 339.6,853.9 343.4,861.8 347.3,869.3 351.2,876.2 355.0,882.7 358.9,888.6 362.8,894.0 366.6,899.0 370.5,903.5 374.4,907.5 378.2,911.2 382.1,914.5 386.0,917.4 389.8,920.1 393.7,922.4 397.6,924.5 401.4,926.3 405.3,928.0 409.1,929.4 413.0,930.7 416.9,931.8 420.7,932.8 424.6,933.7 428.5,934.5 432.3,935.2 436.2,935.8 440.1,936.3 443.9,936.8 447.8,937.2 451.7,937.6 455.5,937.9" fill="none" stroke="#00D816" stroke-width="1.65"/>
<path d="M150.2,607.2 V623.5 M141.0,607.2 h18.4 M141.0,623.5 h18.4" stroke="#00D816" stroke-width="1.55" fill="none"/>
<path d="M186.7,641.5 V661.1 M177.5,641.5 h18.4 M177.5,661.1 h18.4" stroke="#00D816" stroke-width="1.55" fill="none"/>
<path d="M222.1,644.8 V664.4 M212.9,644.8 h18.4 M212.9,664.4 h18.4" stroke="#00D816" stroke-width="1.55" fill="none"/>
<path d="M257.5,667.6 V693.8 M248.3,667.6 h18.4 M248.3,693.8 h18.4" stroke="#00D816" stroke-width="1.55" fill="none"/>
<path d="M292.8,713.4 V746.0 M283.6,713.4 h18.4 M283.6,746.0 h18.4" stroke="#00D816" stroke-width="1.55" fill="none"/>
<path d="M328.2,811.4 V844.1 M319.0,811.4 h18.4 M319.0,844.1 h18.4" stroke="#00D816" stroke-width="1.55" fill="none"/>
<path d="M363.6,893.1 V912.7 M354.4,893.1 h18.4 M354.4,912.7 h18.4" stroke="#00D816" stroke-width="1.55" fill="none"/>
<path d="M398.9,919.2 V925.7 M389.7,919.2 h18.4 M389.7,925.7 h18.4" stroke="#00D816" stroke-width="1.55" fill="none"/>
<path d="M455.5,932.3 V938.8 M446.3,932.3 h18.4 M446.3,938.8 h18.4" stroke="#00D816" stroke-width="1.55" fill="none"/>
<path d="M150.2,607.6 L158.9,623.2 L141.5,623.2 Z" fill="#00D816"/>
<path d="M186.7,643.5 L195.4,659.1 L178.0,659.1 Z" fill="#00D816"/>
<path d="M222.1,646.8 L230.8,662.4 L213.4,662.4 Z" fill="#00D816"/>
<path d="M257.5,672.9 L266.2,688.5 L248.8,688.5 Z" fill="#00D816"/>
<path d="M292.8,721.9 L301.5,737.5 L284.1,737.5 Z" fill="#00D816"/>
<path d="M328.2,819.9 L336.9,835.5 L319.5,835.5 Z" fill="#00D816"/>
<path d="M363.6,895.1 L372.3,910.7 L354.9,910.7 Z" fill="#00D816"/>
<path d="M398.9,914.7 L407.6,930.3 L390.2,930.3 Z" fill="#00D816"/>
<path d="M455.5,927.7 L464.2,943.3 L446.8,943.3 Z" fill="#00D816"/>
<polyline points="150.2,646.0 154.0,646.3 157.9,646.7 161.8,647.1 165.6,647.5 169.5,648.0 173.4,648.5 177.2,649.1 181.1,649.7 185.0,650.4 188.8,651.2 192.7,652.1 196.6,653.0 200.4,654.0 204.3,655.1 208.1,656.4 212.0,657.7 215.9,659.1 219.7,660.7 223.6,662.5 227.5,664.4 231.3,666.4 235.2,668.7 239.1,671.1 242.9,673.8 246.8,676.6 250.7,679.7 254.5,683.0 258.4,686.6 262.3,690.4 266.1,694.6 270.0,698.9 273.9,703.6 277.7,708.6 281.6,713.9 285.5,719.4 289.3,725.2 293.2,731.4 297.1,737.8 300.9,744.4 304.8,751.3 308.6,758.4 312.5,765.7 316.4,773.1 320.2,780.7 324.1,788.3 328.0,796.1 331.8,803.8 335.7,811.5 339.6,819.2 343.4,826.8 347.3,834.3 351.2,841.6 355.0,848.7 358.9,855.6 362.8,862.3 366.6,868.7 370.5,874.9 374.4,880.8 378.2,886.4 382.1,891.7 386.0,896.7 389.8,901.4 393.7,905.9 397.6,910.0 401.4,913.9 405.3,917.5 409.1,920.9 413.0,924.0 416.9,926.9 420.7,929.6 424.6,932.1 428.5,934.3 432.3,936.4 436.2,938.4 440.1,940.1 443.9,941.7 447.8,943.2 451.7,944.6 455.5,945.8" fill="none" stroke="#9BDF1F" stroke-width="1.65"/>
<path d="M150.2,631.7 V644.8 M141.0,631.7 h18.4 M141.0,644.8 h18.4" stroke="#9BDF1F" stroke-width="1.55" fill="none"/>
<path d="M186.7,641.5 V654.6 M177.5,641.5 h18.4 M177.5,654.6 h18.4" stroke="#9BDF1F" stroke-width="1.55" fill="none"/>
<path d="M222.1,667.6 V680.7 M212.9,667.6 h18.4 M212.9,680.7 h18.4" stroke="#9BDF1F" stroke-width="1.55" fill="none"/>
<path d="M257.5,661.1 V700.3 M248.3,661.1 h18.4 M248.3,700.3 h18.4" stroke="#9BDF1F" stroke-width="1.55" fill="none"/>
<path d="M292.8,733.0 V759.1 M283.6,733.0 h18.4 M283.6,759.1 h18.4" stroke="#9BDF1F" stroke-width="1.55" fill="none"/>
<path d="M328.2,739.5 V811.4 M319.0,739.5 h18.4 M319.0,811.4 h18.4" stroke="#9BDF1F" stroke-width="1.55" fill="none"/>
<path d="M363.6,834.3 V899.6 M354.4,834.3 h18.4 M354.4,899.6 h18.4" stroke="#9BDF1F" stroke-width="1.55" fill="none"/>
<path d="M398.9,922.5 V929.0 M389.7,922.5 h18.4 M389.7,929.0 h18.4" stroke="#9BDF1F" stroke-width="1.55" fill="none"/>
<path d="M455.5,935.5 V942.1 M446.3,935.5 h18.4 M446.3,942.1 h18.4" stroke="#9BDF1F" stroke-width="1.55" fill="none"/>
<path d="M150.2,630.4 L158.9,646.0 L141.5,646.0 Z" fill="#9BDF1F"/>
<path d="M186.7,640.2 L195.4,655.8 L178.0,655.8 Z" fill="#9BDF1F"/>
<path d="M222.1,666.4 L230.8,682.0 L213.4,682.0 Z" fill="#9BDF1F"/>
<path d="M257.5,672.9 L266.2,688.5 L248.8,688.5 Z" fill="#9BDF1F"/>
<path d="M292.8,738.2 L301.5,753.8 L284.1,753.8 Z" fill="#9BDF1F"/>
<path d="M328.2,767.6 L336.9,783.2 L319.5,783.2 Z" fill="#9BDF1F"/>
<path d="M363.6,859.1 L372.3,874.7 L354.9,874.7 Z" fill="#9BDF1F"/>
<path d="M398.9,917.9 L407.6,933.5 L390.2,933.5 Z" fill="#9BDF1F"/>
<path d="M455.5,931.0 L464.2,946.6 L446.8,946.6 Z" fill="#9BDF1F"/>
<polyline points="150.2,616.9 154.0,616.9 157.9,616.9 161.8,616.9 165.6,617.0 169.5,617.0 173.4,617.1 177.2,617.1 181.1,617.2 185.0,617.3 188.8,617.4 192.7,617.5 196.6,617.6 200.4,617.8 204.3,617.9 208.1,618.1 212.0,618.4 215.9,618.7 219.7,619.0 223.6,619.3 227.5,619.8 231.3,620.3 235.2,620.9 239.1,621.5 242.9,622.3 246.8,623.2 250.7,624.3 254.5,625.5 258.4,626.9 262.3,628.5 266.1,630.3 270.0,632.5 273.9,634.9 277.7,637.7 281.6,640.8 285.5,644.4 289.3,648.5 293.2,653.1 297.1,658.2 300.9,664.0 304.8,670.3 308.6,677.3 312.5,684.9 316.4,693.1 320.2,702.0 324.1,711.4 328.0,721.3 331.8,731.7 335.7,742.3 339.6,753.1 343.4,764.1 347.3,774.9 351.2,785.6 355.0,796.0 358.9,806.0 362.8,815.5 366.6,824.5 370.5,832.8 374.4,840.6 378.2,847.6 382.1,854.1 386.0,859.9 389.8,865.2 393.7,869.8 397.6,874.0 401.4,877.7 405.3,880.9 409.1,883.8 413.0,886.3 416.9,888.4 420.7,890.3 424.6,892.0 428.5,893.4 432.3,894.7 436.2,895.7 440.1,896.7 443.9,897.5 447.8,898.2 451.7,898.8 455.5,899.3" fill="none" stroke="#FFD932" stroke-width="1.65"/>
<path d="M150.2,615.4 V621.9 M141.0,615.4 h18.4 M141.0,621.9 h18.4" stroke="#FFD932" stroke-width="1.55" fill="none"/>
<path d="M186.7,613.7 V620.3 M177.5,613.7 h18.4 M177.5,620.3 h18.4" stroke="#FFD932" stroke-width="1.55" fill="none"/>
<path d="M222.1,615.4 V621.9 M212.9,615.4 h18.4 M212.9,621.9 h18.4" stroke="#FFD932" stroke-width="1.55" fill="none"/>
<path d="M257.5,626.8 V633.3 M248.3,626.8 h18.4 M248.3,633.3 h18.4" stroke="#FFD932" stroke-width="1.55" fill="none"/>
<path d="M292.8,633.3 V656.2 M283.6,633.3 h18.4 M283.6,656.2 h18.4" stroke="#FFD932" stroke-width="1.55" fill="none"/>
<path d="M328.2,713.4 V739.5 M319.0,713.4 h18.4 M319.0,739.5 h18.4" stroke="#FFD932" stroke-width="1.55" fill="none"/>
<path d="M363.6,808.1 V827.7 M354.4,808.1 h18.4 M354.4,827.7 h18.4" stroke="#FFD932" stroke-width="1.55" fill="none"/>
<path d="M398.9,859.4 V881.0 M389.7,859.4 h18.4 M389.7,881.0 h18.4" stroke="#FFD932" stroke-width="1.55" fill="none"/>
<path d="M455.5,899.6 V906.1 M446.3,899.6 h18.4 M446.3,906.1 h18.4" stroke="#FFD932" stroke-width="1.55" fill="none"/>
<path d="M150.2,610.8 L158.9,626.4 L141.5,626.4 Z" fill="#FFD932"/>
<path d="M186.7,609.2 L195.4,624.8 L178.0,624.8 Z" fill="#FFD932"/>
<path d="M222.1,610.8 L230.8,626.4 L213.4,626.4 Z" fill="#FFD932"/>
<path d="M257.5,622.3 L266.2,637.9 L248.8,637.9 Z" fill="#FFD932"/>
<path d="M292.8,637.0 L301.5,652.6 L284.1,652.6 Z" fill="#FFD932"/>
<path d="M328.2,718.6 L336.9,734.2 L319.5,734.2 Z" fill="#FFD932"/>
<path d="M363.6,810.1 L372.3,825.7 L354.9,825.7 Z" fill="#FFD932"/>
<path d="M398.9,862.4 L407.6,878.0 L390.2,878.0 Z" fill="#FFD932"/>
<path d="M455.5,895.1 L464.2,910.7 L446.8,910.7 Z" fill="#FFD932"/>
<polyline points="150.2,643.8 154.0,644.0 157.9,644.2 161.8,644.4 165.6,644.6 169.5,644.9 173.4,645.2 177.2,645.5 181.1,645.8 185.0,646.2 188.8,646.7 192.7,647.2 196.6,647.8 200.4,648.4 204.3,649.1 208.1,649.9 212.0,650.8 215.9,651.8 219.7,652.9 223.6,654.2 227.5,655.6 231.3,657.1 235.2,658.8 239.1,660.7 242.9,662.8 246.8,665.2 250.7,667.7 254.5,670.6 258.4,673.7 262.3,677.1 266.1,680.8 270.0,684.9 273.9,689.3 277.7,694.0 281.6,699.2 285.5,704.7 289.3,710.6 293.2,716.8 297.1,723.5 300.9,730.4 304.8,737.7 308.6,745.2 312.5,753.0 316.4,761.0 320.2,769.2 324.1,777.4 328.0,785.7 331.8,794.0 335.7,802.2 339.6,810.3 343.4,818.2 347.3,825.9 351.2,833.3 355.0,840.4 358.9,847.2 362.8,853.6 366.6,859.7 370.5,865.4 374.4,870.7 378.2,875.6 382.1,880.2 386.0,884.4 389.8,888.3 393.7,891.9 397.6,895.1 401.4,898.1 405.3,900.8 409.1,903.2 413.0,905.5 416.9,907.4 420.7,909.2 424.6,910.9 428.5,912.3 432.3,913.6 436.2,914.8 440.1,915.9 443.9,916.8 447.8,917.6 451.7,918.4 455.5,919.1" fill="none" stroke="#FF9300" stroke-width="1.65"/>
<path d="M150.2,635.0 V648.0 M141.0,635.0 h18.4 M141.0,648.0 h18.4" stroke="#FF9300" stroke-width="1.55" fill="none"/>
<path d="M186.7,641.5 V654.6 M177.5,641.5 h18.4 M177.5,654.6 h18.4" stroke="#FF9300" stroke-width="1.55" fill="none"/>
<path d="M222.1,648.0 V661.1 M212.9,648.0 h18.4 M212.9,661.1 h18.4" stroke="#FF9300" stroke-width="1.55" fill="none"/>
<path d="M257.5,664.4 V684.0 M248.3,664.4 h18.4 M248.3,684.0 h18.4" stroke="#FF9300" stroke-width="1.55" fill="none"/>
<path d="M292.8,703.6 V723.2 M283.6,703.6 h18.4 M283.6,723.2 h18.4" stroke="#FF9300" stroke-width="1.55" fill="none"/>
<path d="M328.2,778.7 V798.3 M319.0,778.7 h18.4 M319.0,798.3 h18.4" stroke="#FF9300" stroke-width="1.55" fill="none"/>
<path d="M363.6,844.1 V863.7 M354.4,844.1 h18.4 M354.4,863.7 h18.4" stroke="#FF9300" stroke-width="1.55" fill="none"/>
<path d="M398.9,893.1 V899.6 M389.7,893.1 h18.4 M389.7,899.6 h18.4" stroke="#FF9300" stroke-width="1.55" fill="none"/>
<path d="M455.5,915.9 V922.5 M446.3,915.9 h18.4 M446.3,922.5 h18.4" stroke="#FF9300" stroke-width="1.55" fill="none"/>
<path d="M150.2,633.7 L158.9,649.3 L141.5,649.3 Z" fill="#FF9300"/>
<path d="M186.7,640.2 L195.4,655.8 L178.0,655.8 Z" fill="#FF9300"/>
<path d="M222.1,646.8 L230.8,662.4 L213.4,662.4 Z" fill="#FF9300"/>
<path d="M257.5,666.4 L266.2,682.0 L248.8,682.0 Z" fill="#FF9300"/>
<path d="M292.8,705.6 L301.5,721.2 L284.1,721.2 Z" fill="#FF9300"/>
<path d="M328.2,780.7 L336.9,796.3 L319.5,796.3 Z" fill="#FF9300"/>
<path d="M363.6,846.1 L372.3,861.7 L354.9,861.7 Z" fill="#FF9300"/>
<path d="M398.9,888.5 L407.6,904.1 L390.2,904.1 Z" fill="#FF9300"/>
<path d="M455.5,911.4 L464.2,927.0 L446.8,927.0 Z" fill="#FF9300"/>
<polyline points="150.2,645.8 154.0,645.8 157.9,645.9 161.8,646.0 165.6,646.1 169.5,646.2 173.4,646.3 177.2,646.4 181.1,646.6 185.0,646.8 188.8,647.0 192.7,647.2 196.6,647.5 200.4,647.8 204.3,648.2 208.1,648.7 212.0,649.2 215.9,649.8 219.7,650.4 223.6,651.2 227.5,652.1 231.3,653.2 235.2,654.3 239.1,655.7 242.9,657.3 246.8,659.0 250.7,661.1 254.5,663.4 258.4,666.0 262.3,669.0 266.1,672.4 270.0,676.2 273.9,680.4 277.7,685.2 281.6,690.4 285.5,696.3 289.3,702.7 293.2,709.6 297.1,717.2 300.9,725.3 304.8,734.0 308.6,743.1 312.5,752.7 316.4,762.6 320.2,772.8 324.1,783.1 328.0,793.5 331.8,803.8 335.7,813.9 339.6,823.8 343.4,833.3 347.3,842.3 351.2,850.8 355.0,858.8 358.9,866.3 362.8,873.1 366.6,879.4 370.5,885.1 374.4,890.2 378.2,894.9 382.1,899.0 386.0,902.7 389.8,906.0 393.7,908.9 397.6,911.4 401.4,913.7 405.3,915.6 409.1,917.4 413.0,918.9 416.9,920.2 420.7,921.3 424.6,922.3 428.5,923.2 432.3,924.0 436.2,924.6 440.1,925.2 443.9,925.7 447.8,926.1 451.7,926.5 455.5,926.8" fill="none" stroke="#FF2600" stroke-width="1.65"/>
<path d="M150.2,636.6 V652.9 M141.0,636.6 h18.4 M141.0,652.9 h18.4" stroke="#FF2600" stroke-width="1.55" fill="none"/>
<path d="M186.7,639.9 V656.2 M177.5,639.9 h18.4 M177.5,656.2 h18.4" stroke="#FF2600" stroke-width="1.55" fill="none"/>
<path d="M222.1,639.9 V656.2 M212.9,639.9 h18.4 M212.9,656.2 h18.4" stroke="#FF2600" stroke-width="1.55" fill="none"/>
<path d="M257.5,657.8 V690.5 M248.3,657.8 h18.4 M248.3,690.5 h18.4" stroke="#FF2600" stroke-width="1.55" fill="none"/>
<path d="M292.8,684.0 V710.1 M283.6,684.0 h18.4 M283.6,710.1 h18.4" stroke="#FF2600" stroke-width="1.55" fill="none"/>
<path d="M328.2,795.0 V814.7 M319.0,795.0 h18.4 M319.0,814.7 h18.4" stroke="#FF2600" stroke-width="1.55" fill="none"/>
<path d="M363.6,857.1 V876.7 M354.4,857.1 h18.4 M354.4,876.7 h18.4" stroke="#FF2600" stroke-width="1.55" fill="none"/>
<path d="M398.9,909.4 V915.9 M389.7,909.4 h18.4 M389.7,915.9 h18.4" stroke="#FF2600" stroke-width="1.55" fill="none"/>
<path d="M455.5,925.7 V932.3 M446.3,925.7 h18.4 M446.3,932.3 h18.4" stroke="#FF2600" stroke-width="1.55" fill="none"/>
<path d="M150.2,637.0 L158.9,652.6 L141.5,652.6 Z" fill="#FF2600"/>
<path d="M186.7,640.2 L195.4,655.8 L178.0,655.8 Z" fill="#FF2600"/>
<path d="M222.1,640.2 L230.8,655.8 L213.4,655.8 Z" fill="#FF2600"/>
<path d="M257.5,666.4 L266.2,682.0 L248.8,682.0 Z" fill="#FF2600"/>
<path d="M292.8,689.2 L301.5,704.8 L284.1,704.8 Z" fill="#FF2600"/>
<path d="M328.2,797.1 L336.9,812.7 L319.5,812.7 Z" fill="#FF2600"/>
<path d="M363.6,859.1 L372.3,874.7 L354.9,874.7 Z" fill="#FF2600"/>
<path d="M398.9,904.9 L407.6,920.5 L390.2,920.5 Z" fill="#FF2600"/>
<path d="M455.5,921.2 L464.2,936.8 L446.8,936.8 Z" fill="#FF2600"/>
<polyline points="150.2,625.8 154.0,626.0 157.9,626.2 161.8,626.4 165.6,626.6 169.5,626.9 173.4,627.2 177.2,627.5 181.1,627.9 185.0,628.4 188.8,628.9 192.7,629.4 196.6,630.1 200.4,630.9 204.3,631.7 208.1,632.7 212.0,633.8 215.9,635.0 219.7,636.5 223.6,638.1 227.5,639.9 231.3,641.9 235.2,644.2 239.1,646.8 242.9,649.7 246.8,652.9 250.7,656.5 254.5,660.5 258.4,664.9 262.3,669.8 266.1,675.1 270.0,681.0 273.9,687.4 277.7,694.3 281.6,701.7 285.5,709.6 289.3,718.0 293.2,726.8 297.1,736.0 300.9,745.6 304.8,755.4 308.6,765.4 312.5,775.4 316.4,785.5 320.2,795.6 324.1,805.4 328.0,815.0 331.8,824.3 335.7,833.2 339.6,841.6 343.4,849.6 347.3,857.1 351.2,864.1 355.0,870.5 358.9,876.5 362.8,881.9 366.6,886.8 370.5,891.3 374.4,895.4 378.2,899.1 382.1,902.3 386.0,905.3 389.8,907.9 393.7,910.2 397.6,912.3 401.4,914.2 405.3,915.8 409.1,917.2 413.0,918.5 416.9,919.6 420.7,920.6 424.6,921.5 428.5,922.3 432.3,922.9 436.2,923.5 440.1,924.1 443.9,924.5 447.8,924.9 451.7,925.3 455.5,925.6" fill="none" stroke="#000000" stroke-width="1.65"/>
<path d="M257.5,659.5 V681.0 M248.3,659.5 h18.4 M248.3,681.0 h18.4" stroke="#000000" stroke-width="1.55" fill="none"/>
<path d="M292.8,707.8 V735.3 M283.6,707.8 h18.4 M283.6,735.3 h18.4" stroke="#000000" stroke-width="1.55" fill="none"/>
<path d="M328.2,804.2 V827.7 M319.0,804.2 h18.4 M319.0,827.7 h18.4" stroke="#000000" stroke-width="1.55" fill="none"/>
<circle cx="150.2" cy="623.9" r="7.8" fill="#000"/>
<circle cx="186.7" cy="629.7" r="7.8" fill="#000"/>
<circle cx="222.1" cy="635.0" r="7.8" fill="#000"/>
<circle cx="257.5" cy="670.3" r="7.8" fill="#000"/>
<circle cx="292.8" cy="721.5" r="7.8" fill="#000"/>
<circle cx="328.2" cy="816.0" r="7.8" fill="#000"/>
<circle cx="363.6" cy="885.2" r="7.8" fill="#000"/>
<circle cx="398.9" cy="912.3" r="7.8" fill="#000"/>
<circle cx="455.5" cy="924.7" r="7.8" fill="#000"/>
<line x1="500.1" y1="592.9" x2="523.9" y2="592.9" stroke="#000000" stroke-width="1.5"/>
<circle cx="512" cy="592.9" r="9.2" fill="#000"/>
<text transform="translate(536,602.6) scale(1,1.06)" font-size="24.85" fill="#000">WT</text>
<line x1="500.1" y1="624.5" x2="523.9" y2="624.5" stroke="#FF2600" stroke-width="1.5"/>
<path d="M512,614.1 L522.1,634.1 L501.9,634.1 Z" fill="#FF2600"/>
<text transform="translate(536,634.2) scale(1,1.06)" font-size="24.85" fill="#000">A79S</text>
<line x1="500.1" y1="656.2" x2="523.9" y2="656.2" stroke="#FF9300" stroke-width="1.5"/>
<path d="M512,645.8 L522.1,665.8 L501.9,665.8 Z" fill="#FF9300"/>
<text transform="translate(536,665.9) scale(1,1.06)" font-size="24.85" fill="#000">V86A</text>
<line x1="500.1" y1="687.8" x2="523.9" y2="687.8" stroke="#FFD932" stroke-width="1.5"/>
<path d="M512,677.4 L522.1,697.4 L501.9,697.4 Z" fill="#FFD932"/>
<text transform="translate(536,697.5) scale(1,1.06)" font-size="24.85" fill="#000">H88A</text>
<line x1="500.1" y1="719.5" x2="523.9" y2="719.5" stroke="#9BDF1F" stroke-width="1.5"/>
<path d="M512,709.1 L522.1,729.1 L501.9,729.1 Z" fill="#9BDF1F"/>
<text transform="translate(536,729.2) scale(1,1.06)" font-size="24.85" fill="#000">D102A</text>
<line x1="500.1" y1="751.1" x2="523.9" y2="751.1" stroke="#00D816" stroke-width="1.5"/>
<path d="M512,740.8 L522.1,760.8 L501.9,760.8 Z" fill="#00D816"/>
<text transform="translate(536,760.9) scale(1,1.06)" font-size="24.85" fill="#000">K104A</text>
<line x1="500.1" y1="782.8" x2="523.9" y2="782.8" stroke="#16C8FB" stroke-width="1.5"/>
<path d="M512,772.4 L522.1,792.4 L501.9,792.4 Z" fill="#16C8FB"/>
<text transform="translate(536,792.5) scale(1,1.06)" font-size="24.85" fill="#000">K104E</text>
<line x1="500.1" y1="814.4" x2="523.9" y2="814.4" stroke="#0A96FF" stroke-width="1.5"/>
<path d="M512,804.0 L522.1,824.0 L501.9,824.0 Z" fill="#0A96FF"/>
<text transform="translate(536,824.1) scale(1,1.06)" font-size="24.85" fill="#000">T105A</text>
<line x1="500.1" y1="846.1" x2="523.9" y2="846.1" stroke="#0432FF" stroke-width="1.5"/>
<path d="M512,835.7 L522.1,855.7 L501.9,855.7 Z" fill="#0432FF"/>
<text transform="translate(536,855.8) scale(1,1.06)" font-size="24.85" fill="#000">T141A</text>
<line x1="500.1" y1="877.8" x2="523.9" y2="877.8" stroke="#9A3CFF" stroke-width="1.5"/>
<path d="M512,867.4 L522.1,887.4 L501.9,887.4 Z" fill="#9A3CFF"/>
<text transform="translate(536,887.5) scale(1,1.06)" font-size="24.85" fill="#000">L143A</text>
<line x1="500.1" y1="909.4" x2="523.9" y2="909.4" stroke="#521B93" stroke-width="1.5"/>
<path d="M512,899.0 L522.1,919.0 L501.9,919.0 Z" fill="#521B93"/>
<text transform="translate(536,919.1) scale(1,1.06)" font-size="24.85" fill="#000">V144A</text>
<line x1="500.1" y1="941.0" x2="523.9" y2="941.0" stroke="#AAAAAA" stroke-width="1.5"/>
<path d="M512,930.6 L522.1,950.6 L501.9,950.6 Z" fill="#AAAAAA"/>
<text transform="translate(536,950.8) scale(1,1.06)" font-size="24.85" fill="#000">Q145A</text>
<line x1="775.5" y1="559.6" x2="775.5" y2="955.8" stroke="#4d4d4d" stroke-width="1.3"/>
<line x1="772.7" y1="955.2" x2="775.5" y2="955.2" stroke="#4d4d4d" stroke-width="1.2"/>
<line x1="774.1" y1="922.3" x2="775.5" y2="922.3" stroke="#4d4d4d" stroke-width="1.2"/>
<line x1="772.7" y1="889.4" x2="775.5" y2="889.4" stroke="#4d4d4d" stroke-width="1.2"/>
<line x1="774.1" y1="856.4" x2="775.5" y2="856.4" stroke="#4d4d4d" stroke-width="1.2"/>
<line x1="772.7" y1="823.5" x2="775.5" y2="823.5" stroke="#4d4d4d" stroke-width="1.2"/>
<line x1="774.1" y1="790.6" x2="775.5" y2="790.6" stroke="#4d4d4d" stroke-width="1.2"/>
<line x1="772.7" y1="757.7" x2="775.5" y2="757.7" stroke="#4d4d4d" stroke-width="1.2"/>
<line x1="774.1" y1="724.8" x2="775.5" y2="724.8" stroke="#4d4d4d" stroke-width="1.2"/>
<line x1="772.7" y1="691.8" x2="775.5" y2="691.8" stroke="#4d4d4d" stroke-width="1.2"/>
<line x1="774.1" y1="658.9" x2="775.5" y2="658.9" stroke="#4d4d4d" stroke-width="1.2"/>
<line x1="772.7" y1="626.0" x2="775.5" y2="626.0" stroke="#4d4d4d" stroke-width="1.2"/>
<line x1="774.1" y1="593.1" x2="775.5" y2="593.1" stroke="#4d4d4d" stroke-width="1.2"/>
<line x1="772.7" y1="560.2" x2="775.5" y2="560.2" stroke="#4d4d4d" stroke-width="1.2"/>
<text transform="translate(768.6,961.9) scale(1,1.06)" font-size="25" text-anchor="end" fill="#000">0</text>
<text transform="translate(768.6,896.1) scale(1,1.06)" font-size="25" text-anchor="end" fill="#000">20</text>
<text transform="translate(768.6,830.2) scale(1,1.06)" font-size="25" text-anchor="end" fill="#000">40</text>
<text transform="translate(768.6,764.4) scale(1,1.06)" font-size="25" text-anchor="end" fill="#000">60</text>
<text transform="translate(768.6,698.5) scale(1,1.06)" font-size="25" text-anchor="end" fill="#000">80</text>
<text transform="translate(768.6,632.7) scale(1,1.06)" font-size="25" text-anchor="end" fill="#000">100</text>
<text transform="translate(768.6,566.9) scale(1,1.06)" font-size="25" text-anchor="end" fill="#000">120</text>
<line x1="792.8" y1="979.5" x2="1179.7" y2="979.5" stroke="#4d4d4d" stroke-width="1.3"/>
<line x1="823.3" y1="979.5" x2="823.3" y2="982.3" stroke="#4d4d4d" stroke-width="1.2"/>
<line x1="882.6" y1="979.5" x2="882.6" y2="980.9" stroke="#4d4d4d" stroke-width="1.2"/>
<line x1="941.9" y1="979.5" x2="941.9" y2="982.3" stroke="#4d4d4d" stroke-width="1.2"/>
<line x1="1001.2" y1="979.5" x2="1001.2" y2="980.9" stroke="#4d4d4d" stroke-width="1.2"/>
<line x1="1060.5" y1="979.5" x2="1060.5" y2="982.3" stroke="#4d4d4d" stroke-width="1.2"/>
<line x1="1119.8" y1="979.5" x2="1119.8" y2="980.9" stroke="#4d4d4d" stroke-width="1.2"/>
<line x1="1179.1" y1="979.5" x2="1179.1" y2="982.3" stroke="#4d4d4d" stroke-width="1.2"/>
<text transform="translate(825.6,1012.8) scale(1,1.06)" font-size="25" text-anchor="middle" fill="#000">-2</text>
<text transform="translate(944.2,1012.8) scale(1,1.06)" font-size="25" text-anchor="middle" fill="#000">-1</text>
<text transform="translate(1061.9,1012.8) scale(1,1.06)" font-size="25" text-anchor="middle" fill="#000">0</text>
<text transform="translate(1180.5,1012.8) scale(1,1.06)" font-size="25" text-anchor="middle" fill="#000">1</text>
<text transform="translate(980.2,1049.2) scale(1,1.06)" font-size="25" text-anchor="middle" fill="#000">log (uM sEC1-2)</text>
<text transform="translate(710.3,778.2) rotate(-90) scale(1,1.06)" font-size="24.6" text-anchor="middle" fill="#000">Relative ELISA signal (%)</text>
<text transform="translate(987.5,543.8) scale(1,1.06)" font-size="29.0" text-anchor="middle" fill="#F58345">Intermediate binders</text>
<polyline points="836.3,611.4 840.2,611.6 844.1,611.8 848.0,612.0 851.9,612.2 855.8,612.5 859.7,612.7 863.6,613.1 867.5,613.4 871.3,613.8 875.2,614.2 879.1,614.7 883.0,615.2 886.9,615.8 890.8,616.4 894.7,617.1 898.6,617.8 902.4,618.7 906.3,619.6 910.2,620.6 914.1,621.7 918.0,622.9 921.9,624.2 925.8,625.7 929.7,627.3 933.6,629.1 937.4,631.0 941.3,633.1 945.2,635.3 949.1,637.8 953.0,640.5 956.9,643.4 960.8,646.5 964.7,649.9 968.5,653.5 972.4,657.4 976.3,661.5 980.2,666.0 984.1,670.7 988.0,675.7 991.9,680.9 995.8,686.5 999.7,692.2 1003.5,698.3 1007.4,704.5 1011.3,711.0 1015.2,717.6 1019.1,724.4 1023.0,731.4 1026.9,738.4 1030.8,745.4 1034.6,752.5 1038.5,759.5 1042.4,766.5 1046.3,773.4 1050.2,780.2 1054.1,786.9 1058.0,793.3 1061.9,799.5 1065.8,805.5 1069.6,811.3 1073.5,816.8 1077.4,822.0 1081.3,826.9 1085.2,831.6 1089.1,836.0 1093.0,840.1 1096.9,844.0 1100.7,847.6 1104.6,850.9 1108.5,854.0 1112.4,856.9 1116.3,859.5 1120.2,862.0 1124.1,864.2 1128.0,866.3 1131.9,868.2 1135.7,869.9 1139.6,871.5 1143.5,872.9" fill="none" stroke="#521B93" stroke-width="1.65"/>
<path d="M836.3,604.6 V621.1 M827.1,604.6 h18.4 M827.1,621.1 h18.4" stroke="#521B93" stroke-width="1.55" fill="none"/>
<path d="M873.1,601.3 V617.8 M863.9,601.3 h18.4 M863.9,617.8 h18.4" stroke="#521B93" stroke-width="1.55" fill="none"/>
<path d="M908.7,606.2 V626.0 M899.5,606.2 h18.4 M899.5,626.0 h18.4" stroke="#521B93" stroke-width="1.55" fill="none"/>
<path d="M944.3,635.9 V655.6 M935.1,635.9 h18.4 M935.1,655.6 h18.4" stroke="#521B93" stroke-width="1.55" fill="none"/>
<path d="M979.9,652.3 V678.7 M970.7,652.3 h18.4 M970.7,678.7 h18.4" stroke="#521B93" stroke-width="1.55" fill="none"/>
<path d="M1015.4,698.4 V718.2 M1006.2,698.4 h18.4 M1006.2,718.2 h18.4" stroke="#521B93" stroke-width="1.55" fill="none"/>
<path d="M1051.0,780.7 V800.5 M1041.8,780.7 h18.4 M1041.8,800.5 h18.4" stroke="#521B93" stroke-width="1.55" fill="none"/>
<path d="M1086.6,823.5 V836.7 M1077.4,823.5 h18.4 M1077.4,836.7 h18.4" stroke="#521B93" stroke-width="1.55" fill="none"/>
<path d="M1143.5,869.6 V876.2 M1134.3,869.6 h18.4 M1134.3,876.2 h18.4" stroke="#521B93" stroke-width="1.55" fill="none"/>
<path d="M836.3,605.0 L845.0,620.6 L827.6,620.6 Z" fill="#521B93"/>
<path d="M873.1,601.7 L881.8,617.3 L864.4,617.3 Z" fill="#521B93"/>
<path d="M908.7,608.3 L917.4,623.9 L900.0,623.9 Z" fill="#521B93"/>
<path d="M944.3,638.0 L953.0,653.6 L935.6,653.6 Z" fill="#521B93"/>
<path d="M979.9,657.7 L988.6,673.3 L971.2,673.3 Z" fill="#521B93"/>
<path d="M1015.4,700.5 L1024.1,716.1 L1006.7,716.1 Z" fill="#521B93"/>
<path d="M1051.0,782.8 L1059.7,798.4 L1042.3,798.4 Z" fill="#521B93"/>
<path d="M1086.6,822.3 L1095.3,837.9 L1077.9,837.9 Z" fill="#521B93"/>
<path d="M1143.5,865.1 L1152.2,880.7 L1134.8,880.7 Z" fill="#521B93"/>
<polyline points="836.3,619.6 840.2,619.7 844.1,619.8 848.0,620.0 851.9,620.1 855.8,620.3 859.7,620.5 863.6,620.7 867.5,621.0 871.3,621.2 875.2,621.5 879.1,621.8 883.0,622.2 886.9,622.6 890.8,623.0 894.7,623.5 898.6,624.0 902.4,624.6 906.3,625.3 910.2,626.0 914.1,626.7 918.0,627.6 921.9,628.5 925.8,629.6 929.7,630.7 933.6,632.0 937.4,633.4 941.3,634.9 945.2,636.5 949.1,638.3 953.0,640.3 956.9,642.5 960.8,644.8 964.7,647.4 968.5,650.2 972.4,653.2 976.3,656.5 980.2,660.0 984.1,663.8 988.0,668.0 991.9,672.4 995.8,677.1 999.7,682.2 1003.5,687.6 1007.4,693.3 1011.3,699.3 1015.2,705.7 1019.1,712.4 1023.0,719.4 1026.9,726.7 1030.8,734.2 1034.6,742.0 1038.5,750.1 1042.4,758.2 1046.3,766.6 1050.2,775.0 1054.1,783.5 1058.0,792.0 1061.9,800.5 1065.8,808.9 1069.6,817.2 1073.5,825.4 1077.4,833.3 1081.3,841.1 1085.2,848.6 1089.1,855.8 1093.0,862.7 1096.9,869.4 1100.7,875.7 1104.6,881.6 1108.5,887.3 1112.4,892.6 1116.3,897.6 1120.2,902.3 1124.1,906.6 1128.0,910.7 1131.9,914.4 1135.7,917.9 1139.6,921.1 1143.5,924.1" fill="none" stroke="#9A3CFF" stroke-width="1.65"/>
<path d="M836.3,606.2 V619.4 M827.1,606.2 h18.4 M827.1,619.4 h18.4" stroke="#9A3CFF" stroke-width="1.55" fill="none"/>
<path d="M873.1,616.1 V635.9 M863.9,616.1 h18.4 M863.9,635.9 h18.4" stroke="#9A3CFF" stroke-width="1.55" fill="none"/>
<path d="M908.7,616.1 V635.9 M899.5,616.1 h18.4 M899.5,635.9 h18.4" stroke="#9A3CFF" stroke-width="1.55" fill="none"/>
<path d="M944.3,632.6 V652.3 M935.1,632.6 h18.4 M935.1,652.3 h18.4" stroke="#9A3CFF" stroke-width="1.55" fill="none"/>
<path d="M979.9,642.5 V668.8 M970.7,642.5 h18.4 M970.7,668.8 h18.4" stroke="#9A3CFF" stroke-width="1.55" fill="none"/>
<path d="M1015.4,688.5 V714.9 M1006.2,688.5 h18.4 M1006.2,714.9 h18.4" stroke="#9A3CFF" stroke-width="1.55" fill="none"/>
<path d="M1051.0,774.1 V793.9 M1041.8,774.1 h18.4 M1041.8,793.9 h18.4" stroke="#9A3CFF" stroke-width="1.55" fill="none"/>
<path d="M1086.6,840.0 V853.1 M1077.4,840.0 h18.4 M1077.4,853.1 h18.4" stroke="#9A3CFF" stroke-width="1.55" fill="none"/>
<path d="M1143.5,922.3 V928.9 M1134.3,922.3 h18.4 M1134.3,928.9 h18.4" stroke="#9A3CFF" stroke-width="1.55" fill="none"/>
<path d="M836.3,605.0 L845.0,620.6 L827.6,620.6 Z" fill="#9A3CFF"/>
<path d="M873.1,618.2 L881.8,633.8 L864.4,633.8 Z" fill="#9A3CFF"/>
<path d="M908.7,618.2 L917.4,633.8 L900.0,633.8 Z" fill="#9A3CFF"/>
<path d="M944.3,634.7 L953.0,650.3 L935.6,650.3 Z" fill="#9A3CFF"/>
<path d="M979.9,647.8 L988.6,663.4 L971.2,663.4 Z" fill="#9A3CFF"/>
<path d="M1015.4,693.9 L1024.1,709.5 L1006.7,709.5 Z" fill="#9A3CFF"/>
<path d="M1051.0,776.2 L1059.7,791.8 L1042.3,791.8 Z" fill="#9A3CFF"/>
<path d="M1086.6,838.8 L1095.3,854.4 L1077.9,854.4 Z" fill="#9A3CFF"/>
<path d="M1143.5,917.8 L1152.2,933.4 L1134.8,933.4 Z" fill="#9A3CFF"/>
<polyline points="836.3,628.3 840.2,628.3 844.1,628.4 848.0,628.4 851.9,628.5 855.8,628.6 859.7,628.7 863.6,628.8 867.5,628.9 871.3,629.0 875.2,629.2 879.1,629.4 883.0,629.5 886.9,629.8 890.8,630.0 894.7,630.3 898.6,630.6 902.4,630.9 906.3,631.3 910.2,631.8 914.1,632.3 918.0,632.8 921.9,633.4 925.8,634.2 929.7,634.9 933.6,635.8 937.4,636.8 941.3,637.9 945.2,639.2 949.1,640.6 953.0,642.1 956.9,643.9 960.8,645.8 964.7,648.0 968.5,650.4 972.4,653.0 976.3,655.9 980.2,659.2 984.1,662.7 988.0,666.6 991.9,670.9 995.8,675.6 999.7,680.7 1003.5,686.1 1007.4,692.0 1011.3,698.4 1015.2,705.1 1019.1,712.3 1023.0,719.9 1026.9,727.8 1030.8,736.0 1034.6,744.6 1038.5,753.4 1042.4,762.4 1046.3,771.5 1050.2,780.7 1054.1,789.8 1058.0,798.9 1061.9,807.8 1065.8,816.6 1069.6,825.1 1073.5,833.3 1077.4,841.1 1081.3,848.6 1085.2,855.7 1089.1,862.4 1093.0,868.6 1096.9,874.4 1100.7,879.8 1104.6,884.8 1108.5,889.4 1112.4,893.6 1116.3,897.4 1120.2,900.9 1124.1,904.1 1128.0,906.9 1131.9,909.5 1135.7,911.9 1139.6,914.0 1143.5,915.9" fill="none" stroke="#0432FF" stroke-width="1.65"/>
<path d="M836.3,616.1 V629.3 M827.1,616.1 h18.4 M827.1,629.3 h18.4" stroke="#0432FF" stroke-width="1.55" fill="none"/>
<path d="M873.1,622.7 V635.9 M863.9,622.7 h18.4 M863.9,635.9 h18.4" stroke="#0432FF" stroke-width="1.55" fill="none"/>
<path d="M908.7,626.0 V639.2 M899.5,626.0 h18.4 M899.5,639.2 h18.4" stroke="#0432FF" stroke-width="1.55" fill="none"/>
<path d="M944.3,635.9 V655.6 M935.1,635.9 h18.4 M935.1,655.6 h18.4" stroke="#0432FF" stroke-width="1.55" fill="none"/>
<path d="M979.9,645.8 V665.5 M970.7,645.8 h18.4 M970.7,665.5 h18.4" stroke="#0432FF" stroke-width="1.55" fill="none"/>
<path d="M1015.4,695.1 V721.5 M1006.2,695.1 h18.4 M1006.2,721.5 h18.4" stroke="#0432FF" stroke-width="1.55" fill="none"/>
<path d="M1051.0,767.6 V787.3 M1041.8,767.6 h18.4 M1041.8,787.3 h18.4" stroke="#0432FF" stroke-width="1.55" fill="none"/>
<path d="M1086.6,856.4 V869.6 M1077.4,856.4 h18.4 M1077.4,869.6 h18.4" stroke="#0432FF" stroke-width="1.55" fill="none"/>
<path d="M1143.5,910.8 V917.3 M1134.3,910.8 h18.4 M1134.3,917.3 h18.4" stroke="#0432FF" stroke-width="1.55" fill="none"/>
<path d="M836.3,614.9 L845.0,630.5 L827.6,630.5 Z" fill="#0432FF"/>
<path d="M873.1,621.5 L881.8,637.1 L864.4,637.1 Z" fill="#0432FF"/>
<path d="M908.7,624.8 L917.4,640.4 L900.0,640.4 Z" fill="#0432FF"/>
<path d="M944.3,638.0 L953.0,653.6 L935.6,653.6 Z" fill="#0432FF"/>
<path d="M979.9,647.8 L988.6,663.4 L971.2,663.4 Z" fill="#0432FF"/>
<path d="M1015.4,700.5 L1024.1,716.1 L1006.7,716.1 Z" fill="#0432FF"/>
<path d="M1051.0,769.6 L1059.7,785.2 L1042.3,785.2 Z" fill="#0432FF"/>
<path d="M1086.6,855.2 L1095.3,870.8 L1077.9,870.8 Z" fill="#0432FF"/>
<path d="M1143.5,906.3 L1152.2,921.9 L1134.8,921.9 Z" fill="#0432FF"/>
<polyline points="836.3,620.3 840.2,620.3 844.1,620.3 848.0,620.3 851.9,620.3 855.8,620.3 859.7,620.3 863.6,620.3 867.5,620.3 871.3,620.3 875.2,620.3 879.1,620.3 883.0,620.3 886.9,620.3 890.8,620.3 894.7,620.3 898.6,620.3 902.4,620.3 906.3,620.3 910.2,620.3 914.1,620.3 918.0,620.3 921.9,620.3 925.8,620.3 929.7,620.3 933.6,620.3 937.4,620.3 941.3,620.4 945.2,620.4 949.1,620.4 953.0,620.5 956.9,620.5 960.8,620.6 964.7,620.7 968.5,620.9 972.4,621.1 976.3,621.3 980.2,621.6 984.1,622.1 988.0,622.7 991.9,623.4 995.8,624.4 999.7,625.8 1003.5,627.5 1007.4,629.7 1011.3,632.6 1015.2,636.4 1019.1,641.1 1023.0,647.2 1026.9,654.7 1030.8,664.0 1034.6,675.1 1038.5,688.3 1042.4,703.3 1046.3,720.0 1050.2,737.8 1054.1,756.2 1058.0,774.4 1061.9,791.8 1065.8,807.7 1069.6,822.0 1073.5,834.2 1077.4,844.5 1081.3,853.0 1085.2,859.9 1089.1,865.3 1093.0,869.6 1096.9,873.0 1100.7,875.6 1104.6,877.6 1108.5,879.1 1112.4,880.3 1116.3,881.2 1120.2,881.8 1124.1,882.4 1128.0,882.7 1131.9,883.0 1135.7,883.3 1139.6,883.4 1143.5,883.6" fill="none" stroke="#0A96FF" stroke-width="1.65"/>
<path d="M836.3,607.9 V624.4 M827.1,607.9 h18.4 M827.1,624.4 h18.4" stroke="#0A96FF" stroke-width="1.55" fill="none"/>
<path d="M873.1,596.4 V622.7 M863.9,596.4 h18.4 M863.9,622.7 h18.4" stroke="#0A96FF" stroke-width="1.55" fill="none"/>
<path d="M908.7,612.8 V626.0 M899.5,612.8 h18.4 M899.5,626.0 h18.4" stroke="#0A96FF" stroke-width="1.55" fill="none"/>
<path d="M944.3,616.1 V635.9 M935.1,616.1 h18.4 M935.1,635.9 h18.4" stroke="#0A96FF" stroke-width="1.55" fill="none"/>
<path d="M979.9,622.7 V642.5 M970.7,622.7 h18.4 M970.7,642.5 h18.4" stroke="#0A96FF" stroke-width="1.55" fill="none"/>
<path d="M1015.4,626.0 V645.8 M1006.2,626.0 h18.4 M1006.2,645.8 h18.4" stroke="#0A96FF" stroke-width="1.55" fill="none"/>
<path d="M1051.0,728.1 V754.4 M1041.8,728.1 h18.4 M1041.8,754.4 h18.4" stroke="#0A96FF" stroke-width="1.55" fill="none"/>
<path d="M1086.6,853.1 V872.9 M1077.4,853.1 h18.4 M1077.4,872.9 h18.4" stroke="#0A96FF" stroke-width="1.55" fill="none"/>
<path d="M1143.5,879.5 V886.1 M1134.3,879.5 h18.4 M1134.3,886.1 h18.4" stroke="#0A96FF" stroke-width="1.55" fill="none"/>
<path d="M836.3,608.3 L845.0,623.9 L827.6,623.9 Z" fill="#0A96FF"/>
<path d="M873.1,601.7 L881.8,617.3 L864.4,617.3 Z" fill="#0A96FF"/>
<path d="M908.7,611.6 L917.4,627.2 L900.0,627.2 Z" fill="#0A96FF"/>
<path d="M944.3,618.2 L953.0,633.8 L935.6,633.8 Z" fill="#0A96FF"/>
<path d="M979.9,624.8 L988.6,640.4 L971.2,640.4 Z" fill="#0A96FF"/>
<path d="M1015.4,628.1 L1024.1,643.7 L1006.7,643.7 Z" fill="#0A96FF"/>
<path d="M1051.0,733.4 L1059.7,749.0 L1042.3,749.0 Z" fill="#0A96FF"/>
<path d="M1086.6,855.2 L1095.3,870.8 L1077.9,870.8 Z" fill="#0A96FF"/>
<path d="M1143.5,875.0 L1152.2,890.6 L1134.8,890.6 Z" fill="#0A96FF"/>
<polyline points="836.3,631.6 840.2,631.6 844.1,631.6 848.0,631.6 851.9,631.6 855.8,631.6 859.7,631.6 863.6,631.6 867.5,631.6 871.3,631.6 875.2,631.6 879.1,631.6 883.0,631.6 886.9,631.6 890.8,631.6 894.7,631.6 898.6,631.6 902.4,631.6 906.3,631.6 910.2,631.6 914.1,631.6 918.0,631.7 921.9,631.7 925.8,631.7 929.7,631.7 933.6,631.7 937.4,631.8 941.3,631.8 945.2,631.9 949.1,631.9 953.0,632.0 956.9,632.1 960.8,632.2 964.7,632.4 968.5,632.6 972.4,632.9 976.3,633.2 980.2,633.6 984.1,634.1 988.0,634.8 991.9,635.6 995.8,636.7 999.7,638.0 1003.5,639.6 1007.4,641.6 1011.3,644.1 1015.2,647.3 1019.1,651.1 1023.0,655.9 1026.9,661.6 1030.8,668.5 1034.6,676.7 1038.5,686.4 1042.4,697.6 1046.3,710.4 1050.2,724.6 1054.1,740.1 1058.0,756.6 1061.9,773.6 1065.8,790.9 1069.6,807.8 1073.5,823.9 1077.4,839.0 1081.3,852.7 1085.2,864.9 1089.1,875.5 1093.0,884.6 1096.9,892.4 1100.7,898.8 1104.6,904.2 1108.5,908.6 1112.4,912.1 1116.3,915.0 1120.2,917.4 1124.1,919.2 1128.0,920.7 1131.9,921.9 1135.7,922.9 1139.6,923.7 1143.5,924.3" fill="none" stroke="#16C8FB" stroke-width="1.65"/>
<path d="M836.3,616.1 V629.3 M827.1,616.1 h18.4 M827.1,629.3 h18.4" stroke="#16C8FB" stroke-width="1.55" fill="none"/>
<path d="M873.1,622.7 V642.5 M863.9,622.7 h18.4 M863.9,642.5 h18.4" stroke="#16C8FB" stroke-width="1.55" fill="none"/>
<path d="M908.7,629.3 V642.5 M899.5,629.3 h18.4 M899.5,642.5 h18.4" stroke="#16C8FB" stroke-width="1.55" fill="none"/>
<path d="M944.3,629.3 V649.0 M935.1,629.3 h18.4 M935.1,649.0 h18.4" stroke="#16C8FB" stroke-width="1.55" fill="none"/>
<path d="M979.9,626.0 V645.8 M970.7,626.0 h18.4 M970.7,645.8 h18.4" stroke="#16C8FB" stroke-width="1.55" fill="none"/>
<path d="M1015.4,612.8 V665.5 M1006.2,612.8 h18.4 M1006.2,665.5 h18.4" stroke="#16C8FB" stroke-width="1.55" fill="none"/>
<path d="M1051.0,718.2 V744.5 M1041.8,718.2 h18.4 M1041.8,744.5 h18.4" stroke="#16C8FB" stroke-width="1.55" fill="none"/>
<path d="M1086.6,856.4 V876.2 M1077.4,856.4 h18.4 M1077.4,876.2 h18.4" stroke="#16C8FB" stroke-width="1.55" fill="none"/>
<path d="M1143.5,922.3 V928.9 M1134.3,922.3 h18.4 M1134.3,928.9 h18.4" stroke="#16C8FB" stroke-width="1.55" fill="none"/>
<path d="M836.3,614.9 L845.0,630.5 L827.6,630.5 Z" fill="#16C8FB"/>
<path d="M873.1,624.8 L881.8,640.4 L864.4,640.4 Z" fill="#16C8FB"/>
<path d="M908.7,628.1 L917.4,643.7 L900.0,643.7 Z" fill="#16C8FB"/>
<path d="M944.3,631.4 L953.0,647.0 L935.6,647.0 Z" fill="#16C8FB"/>
<path d="M979.9,628.1 L988.6,643.7 L971.2,643.7 Z" fill="#16C8FB"/>
<path d="M1015.4,631.4 L1024.1,647.0 L1006.7,647.0 Z" fill="#16C8FB"/>
<path d="M1051.0,723.5 L1059.7,739.1 L1042.3,739.1 Z" fill="#16C8FB"/>
<path d="M1086.6,858.5 L1095.3,874.1 L1077.9,874.1 Z" fill="#16C8FB"/>
<path d="M1143.5,917.8 L1152.2,933.4 L1134.8,933.4 Z" fill="#16C8FB"/>
<polyline points="836.3,638.0 840.2,638.0 844.1,638.0 848.0,638.0 851.9,638.0 855.8,638.1 859.7,638.1 863.6,638.1 867.5,638.1 871.3,638.1 875.2,638.2 879.1,638.2 883.0,638.3 886.9,638.3 890.8,638.4 894.7,638.4 898.6,638.5 902.4,638.6 906.3,638.7 910.2,638.9 914.1,639.0 918.0,639.2 921.9,639.4 925.8,639.6 929.7,639.9 933.6,640.2 937.4,640.6 941.3,641.0 945.2,641.5 949.1,642.1 953.0,642.7 956.9,643.5 960.8,644.4 964.7,645.4 968.5,646.6 972.4,647.9 976.3,649.5 980.2,651.2 984.1,653.3 988.0,655.6 991.9,658.2 995.8,661.2 999.7,664.5 1003.5,668.3 1007.4,672.5 1011.3,677.1 1015.2,682.3 1019.1,687.9 1023.0,694.0 1026.9,700.6 1030.8,707.7 1034.6,715.1 1038.5,723.0 1042.4,731.1 1046.3,739.4 1050.2,747.8 1054.1,756.3 1058.0,764.7 1061.9,772.9 1065.8,780.9 1069.6,788.5 1073.5,795.8 1077.4,802.6 1081.3,809.0 1085.2,814.8 1089.1,820.2 1093.0,825.1 1096.9,829.5 1100.7,833.4 1104.6,837.0 1108.5,840.1 1112.4,842.9 1116.3,845.3 1120.2,847.5 1124.1,849.4 1128.0,851.0 1131.9,852.5 1135.7,853.7 1139.6,854.8 1143.5,855.8" fill="none" stroke="#00D816" stroke-width="1.65"/>
<path d="M836.3,626.0 V639.2 M827.1,626.0 h18.4 M827.1,639.2 h18.4" stroke="#00D816" stroke-width="1.55" fill="none"/>
<path d="M873.1,642.5 V655.6 M863.9,642.5 h18.4 M863.9,655.6 h18.4" stroke="#00D816" stroke-width="1.55" fill="none"/>
<path d="M908.7,635.9 V649.0 M899.5,635.9 h18.4 M899.5,649.0 h18.4" stroke="#00D816" stroke-width="1.55" fill="none"/>
<path d="M944.3,635.9 V655.6 M935.1,635.9 h18.4 M935.1,655.6 h18.4" stroke="#00D816" stroke-width="1.55" fill="none"/>
<path d="M979.9,614.5 V637.5 M970.7,614.5 h18.4 M970.7,637.5 h18.4" stroke="#00D816" stroke-width="1.55" fill="none"/>
<path d="M1015.4,688.5 V708.3 M1006.2,688.5 h18.4 M1006.2,708.3 h18.4" stroke="#00D816" stroke-width="1.55" fill="none"/>
<path d="M1051.0,734.6 V754.4 M1041.8,734.6 h18.4 M1041.8,754.4 h18.4" stroke="#00D816" stroke-width="1.55" fill="none"/>
<path d="M1086.6,803.8 V830.1 M1077.4,803.8 h18.4 M1077.4,830.1 h18.4" stroke="#00D816" stroke-width="1.55" fill="none"/>
<path d="M1143.5,851.5 V861.4 M1134.3,851.5 h18.4 M1134.3,861.4 h18.4" stroke="#00D816" stroke-width="1.55" fill="none"/>
<path d="M836.3,624.8 L845.0,640.4 L827.6,640.4 Z" fill="#00D816"/>
<path d="M873.1,641.2 L881.8,656.8 L864.4,656.8 Z" fill="#00D816"/>
<path d="M908.7,634.7 L917.4,650.3 L900.0,650.3 Z" fill="#00D816"/>
<path d="M944.3,638.0 L953.0,653.6 L935.6,653.6 Z" fill="#00D816"/>
<path d="M979.9,618.2 L988.6,633.8 L971.2,633.8 Z" fill="#00D816"/>
<path d="M1015.4,690.6 L1024.1,706.2 L1006.7,706.2 Z" fill="#00D816"/>
<path d="M1051.0,736.7 L1059.7,752.3 L1042.3,752.3 Z" fill="#00D816"/>
<path d="M1086.6,809.1 L1095.3,824.7 L1077.9,824.7 Z" fill="#00D816"/>
<path d="M1143.5,848.6 L1152.2,864.2 L1134.8,864.2 Z" fill="#00D816"/>
<polyline points="836.3,637.4 840.2,637.4 844.1,637.4 848.0,637.5 851.9,637.5 855.8,637.5 859.7,637.5 863.6,637.5 867.5,637.6 871.3,637.6 875.2,637.7 879.1,637.7 883.0,637.8 886.9,637.9 890.8,638.0 894.7,638.1 898.6,638.2 902.4,638.3 906.3,638.5 910.2,638.7 914.1,638.9 918.0,639.2 921.9,639.5 925.8,639.9 929.7,640.3 933.6,640.8 937.4,641.4 941.3,642.1 945.2,642.9 949.1,643.8 953.0,644.9 956.9,646.1 960.8,647.5 964.7,649.2 968.5,651.1 972.4,653.3 976.3,655.9 980.2,658.8 984.1,662.1 988.0,665.9 991.9,670.1 995.8,674.9 999.7,680.2 1003.5,686.2 1007.4,692.7 1011.3,699.8 1015.2,707.5 1019.1,715.8 1023.0,724.6 1026.9,733.8 1030.8,743.4 1034.6,753.2 1038.5,763.1 1042.4,773.0 1046.3,782.9 1050.2,792.4 1054.1,801.6 1058.0,810.4 1061.9,818.7 1065.8,826.4 1069.6,833.5 1073.5,840.1 1077.4,846.0 1081.3,851.3 1085.2,856.1 1089.1,860.3 1093.0,864.1 1096.9,867.4 1100.7,870.3 1104.6,872.9 1108.5,875.1 1112.4,877.0 1116.3,878.7 1120.2,880.1 1124.1,881.3 1128.0,882.4 1131.9,883.3 1135.7,884.1 1139.6,884.8 1143.5,885.4" fill="none" stroke="#9BDF1F" stroke-width="1.65"/>
<path d="M836.3,626.0 V639.2 M827.1,626.0 h18.4 M827.1,639.2 h18.4" stroke="#9BDF1F" stroke-width="1.55" fill="none"/>
<path d="M873.1,637.5 V654.0 M863.9,637.5 h18.4 M863.9,654.0 h18.4" stroke="#9BDF1F" stroke-width="1.55" fill="none"/>
<path d="M908.7,632.6 V645.8 M899.5,632.6 h18.4 M899.5,645.8 h18.4" stroke="#9BDF1F" stroke-width="1.55" fill="none"/>
<path d="M944.3,629.3 V649.0 M935.1,629.3 h18.4 M935.1,649.0 h18.4" stroke="#9BDF1F" stroke-width="1.55" fill="none"/>
<path d="M979.9,649.0 V668.8 M970.7,649.0 h18.4 M970.7,668.8 h18.4" stroke="#9BDF1F" stroke-width="1.55" fill="none"/>
<path d="M1015.4,695.1 V714.9 M1006.2,695.1 h18.4 M1006.2,714.9 h18.4" stroke="#9BDF1F" stroke-width="1.55" fill="none"/>
<path d="M1051.0,793.9 V807.1 M1041.8,793.9 h18.4 M1041.8,807.1 h18.4" stroke="#9BDF1F" stroke-width="1.55" fill="none"/>
<path d="M1086.6,843.3 V856.4 M1077.4,843.3 h18.4 M1077.4,856.4 h18.4" stroke="#9BDF1F" stroke-width="1.55" fill="none"/>
<path d="M1143.5,886.1 V892.7 M1134.3,886.1 h18.4 M1134.3,892.7 h18.4" stroke="#9BDF1F" stroke-width="1.55" fill="none"/>
<path d="M836.3,624.8 L845.0,640.4 L827.6,640.4 Z" fill="#9BDF1F"/>
<path d="M873.1,638.0 L881.8,653.6 L864.4,653.6 Z" fill="#9BDF1F"/>
<path d="M908.7,631.4 L917.4,647.0 L900.0,647.0 Z" fill="#9BDF1F"/>
<path d="M944.3,631.4 L953.0,647.0 L935.6,647.0 Z" fill="#9BDF1F"/>
<path d="M979.9,651.1 L988.6,666.7 L971.2,666.7 Z" fill="#9BDF1F"/>
<path d="M1015.4,697.2 L1024.1,712.8 L1006.7,712.8 Z" fill="#9BDF1F"/>
<path d="M1051.0,792.7 L1059.7,808.3 L1042.3,808.3 Z" fill="#9BDF1F"/>
<path d="M1086.6,842.1 L1095.3,857.7 L1077.9,857.7 Z" fill="#9BDF1F"/>
<path d="M1143.5,881.6 L1152.2,897.2 L1134.8,897.2 Z" fill="#9BDF1F"/>
<polyline points="836.3,625.2 840.2,625.2 844.1,625.2 848.0,625.2 851.9,625.2 855.8,625.2 859.7,625.3 863.6,625.3 867.5,625.3 871.3,625.4 875.2,625.4 879.1,625.5 883.0,625.5 886.9,625.6 890.8,625.7 894.7,625.8 898.6,625.9 902.4,626.0 906.3,626.1 910.2,626.3 914.1,626.5 918.0,626.7 921.9,627.0 925.8,627.3 929.7,627.6 933.6,628.0 937.4,628.5 941.3,629.0 945.2,629.6 949.1,630.3 953.0,631.1 956.9,632.1 960.8,633.2 964.7,634.4 968.5,635.8 972.4,637.5 976.3,639.3 980.2,641.5 984.1,643.9 988.0,646.7 991.9,649.8 995.8,653.3 999.7,657.3 1003.5,661.7 1007.4,666.7 1011.3,672.2 1015.2,678.2 1019.1,684.8 1023.0,692.0 1026.9,699.8 1030.8,708.2 1034.6,717.0 1038.5,726.3 1042.4,736.0 1046.3,745.9 1050.2,756.1 1054.1,766.3 1058.0,776.5 1061.9,786.6 1065.8,796.5 1069.6,806.0 1073.5,815.1 1077.4,823.7 1081.3,831.8 1085.2,839.3 1089.1,846.3 1093.0,852.6 1096.9,858.4 1100.7,863.7 1104.6,868.4 1108.5,872.6 1112.4,876.4 1116.3,879.7 1120.2,882.7 1124.1,885.3 1128.0,887.6 1131.9,889.6 1135.7,891.4 1139.6,892.9 1143.5,894.2" fill="none" stroke="#FFD932" stroke-width="1.65"/>
<path d="M836.3,629.3 V642.5 M827.1,629.3 h18.4 M827.1,642.5 h18.4" stroke="#FFD932" stroke-width="1.55" fill="none"/>
<path d="M873.1,630.9 V650.7 M863.9,630.9 h18.4 M863.9,650.7 h18.4" stroke="#FFD932" stroke-width="1.55" fill="none"/>
<path d="M908.7,586.5 V626.0 M899.5,586.5 h18.4 M899.5,626.0 h18.4" stroke="#FFD932" stroke-width="1.55" fill="none"/>
<path d="M944.3,596.4 V635.9 M935.1,596.4 h18.4 M935.1,635.9 h18.4" stroke="#FFD932" stroke-width="1.55" fill="none"/>
<path d="M979.9,635.9 V655.6 M970.7,635.9 h18.4 M970.7,655.6 h18.4" stroke="#FFD932" stroke-width="1.55" fill="none"/>
<path d="M1015.4,668.8 V701.7 M1006.2,668.8 h18.4 M1006.2,701.7 h18.4" stroke="#FFD932" stroke-width="1.55" fill="none"/>
<path d="M1051.0,741.2 V761.0 M1041.8,741.2 h18.4 M1041.8,761.0 h18.4" stroke="#FFD932" stroke-width="1.55" fill="none"/>
<path d="M1086.6,840.0 V853.1 M1077.4,840.0 h18.4 M1077.4,853.1 h18.4" stroke="#FFD932" stroke-width="1.55" fill="none"/>
<path d="M1143.5,889.4 V895.9 M1134.3,889.4 h18.4 M1134.3,895.9 h18.4" stroke="#FFD932" stroke-width="1.55" fill="none"/>
<path d="M836.3,628.1 L845.0,643.7 L827.6,643.7 Z" fill="#FFD932"/>
<path d="M873.1,633.0 L881.8,648.6 L864.4,648.6 Z" fill="#FFD932"/>
<path d="M908.7,598.4 L917.4,614.0 L900.0,614.0 Z" fill="#FFD932"/>
<path d="M944.3,608.3 L953.0,623.9 L935.6,623.9 Z" fill="#FFD932"/>
<path d="M979.9,638.0 L988.6,653.6 L971.2,653.6 Z" fill="#FFD932"/>
<path d="M1015.4,677.5 L1024.1,693.1 L1006.7,693.1 Z" fill="#FFD932"/>
<path d="M1051.0,743.3 L1059.7,758.9 L1042.3,758.9 Z" fill="#FFD932"/>
<path d="M1086.6,838.8 L1095.3,854.4 L1077.9,854.4 Z" fill="#FFD932"/>
<path d="M1143.5,884.9 L1152.2,900.5 L1134.8,900.5 Z" fill="#FFD932"/>
<polyline points="836.3,618.3 840.2,618.3 844.1,618.3 848.0,618.4 851.9,618.4 855.8,618.4 859.7,618.4 863.6,618.4 867.5,618.4 871.3,618.4 875.2,618.4 879.1,618.4 883.0,618.4 886.9,618.4 890.8,618.4 894.7,618.4 898.6,618.5 902.4,618.5 906.3,618.5 910.2,618.5 914.1,618.6 918.0,618.6 921.9,618.7 925.8,618.7 929.7,618.8 933.6,618.9 937.4,619.0 941.3,619.1 945.2,619.3 949.1,619.4 953.0,619.7 956.9,619.9 960.8,620.2 964.7,620.5 968.5,620.9 972.4,621.4 976.3,622.0 980.2,622.6 984.1,623.4 988.0,624.3 991.9,625.4 995.8,626.6 999.7,628.1 1003.5,629.9 1007.4,631.9 1011.3,634.2 1015.2,637.0 1019.1,640.2 1023.0,643.8 1026.9,648.0 1030.8,652.8 1034.6,658.2 1038.5,664.2 1042.4,671.0 1046.3,678.5 1050.2,686.7 1054.1,695.6 1058.0,705.2 1061.9,715.3 1065.8,725.8 1069.6,736.6 1073.5,747.6 1077.4,758.6 1081.3,769.4 1085.2,779.9 1089.1,790.0 1093.0,799.5 1096.9,808.5 1100.7,816.7 1104.6,824.2 1108.5,831.0 1112.4,837.1 1116.3,842.5 1120.2,847.3 1124.1,851.5 1128.0,855.2 1131.9,858.3 1135.7,861.1 1139.6,863.5 1143.5,865.5" fill="none" stroke="#FF9300" stroke-width="1.65"/>
<path d="M836.3,612.8 V619.4 M827.1,612.8 h18.4 M827.1,619.4 h18.4" stroke="#FF9300" stroke-width="1.55" fill="none"/>
<path d="M873.1,609.5 V622.7 M863.9,609.5 h18.4 M863.9,622.7 h18.4" stroke="#FF9300" stroke-width="1.55" fill="none"/>
<path d="M908.7,616.1 V622.7 M899.5,616.1 h18.4 M899.5,622.7 h18.4" stroke="#FF9300" stroke-width="1.55" fill="none"/>
<path d="M944.3,619.4 V632.6 M935.1,619.4 h18.4 M935.1,632.6 h18.4" stroke="#FF9300" stroke-width="1.55" fill="none"/>
<path d="M979.9,619.4 V632.6 M970.7,619.4 h18.4 M970.7,632.6 h18.4" stroke="#FF9300" stroke-width="1.55" fill="none"/>
<path d="M1015.4,622.7 V629.3 M1006.2,622.7 h18.4 M1006.2,629.3 h18.4" stroke="#FF9300" stroke-width="1.55" fill="none"/>
<path d="M1051.0,685.3 V705.0 M1041.8,685.3 h18.4 M1041.8,705.0 h18.4" stroke="#FF9300" stroke-width="1.55" fill="none"/>
<path d="M1086.6,769.2 V792.2 M1077.4,769.2 h18.4 M1077.4,792.2 h18.4" stroke="#FF9300" stroke-width="1.55" fill="none"/>
<path d="M1143.5,863.0 V869.6 M1134.3,863.0 h18.4 M1134.3,869.6 h18.4" stroke="#FF9300" stroke-width="1.55" fill="none"/>
<path d="M836.3,608.3 L845.0,623.9 L827.6,623.9 Z" fill="#FF9300"/>
<path d="M873.1,608.3 L881.8,623.9 L864.4,623.9 Z" fill="#FF9300"/>
<path d="M908.7,611.6 L917.4,627.2 L900.0,627.2 Z" fill="#FF9300"/>
<path d="M944.3,618.2 L953.0,633.8 L935.6,633.8 Z" fill="#FF9300"/>
<path d="M979.9,618.2 L988.6,633.8 L971.2,633.8 Z" fill="#FF9300"/>
<path d="M1015.4,618.2 L1024.1,633.8 L1006.7,633.8 Z" fill="#FF9300"/>
<path d="M1051.0,687.3 L1059.7,702.9 L1042.3,702.9 Z" fill="#FF9300"/>
<path d="M1086.6,772.9 L1095.3,788.5 L1077.9,788.5 Z" fill="#FF9300"/>
<path d="M1143.5,858.5 L1152.2,874.1 L1134.8,874.1 Z" fill="#FF9300"/>
<polyline points="836.3,626.6 840.2,626.6 844.1,626.6 848.0,626.6 851.9,626.6 855.8,626.6 859.7,626.6 863.6,626.6 867.5,626.6 871.3,626.6 875.2,626.6 879.1,626.6 883.0,626.6 886.9,626.6 890.8,626.6 894.7,626.6 898.6,626.6 902.4,626.6 906.3,626.6 910.2,626.6 914.1,626.7 918.0,626.7 921.9,626.7 925.8,626.7 929.7,626.8 933.6,626.8 937.4,626.9 941.3,626.9 945.2,627.0 949.1,627.1 953.0,627.2 956.9,627.4 960.8,627.6 964.7,627.8 968.5,628.0 972.4,628.4 976.3,628.7 980.2,629.2 984.1,629.8 988.0,630.5 991.9,631.3 995.8,632.3 999.7,633.5 1003.5,634.9 1007.4,636.6 1011.3,638.7 1015.2,641.1 1019.1,644.1 1023.0,647.5 1026.9,651.5 1030.8,656.1 1034.6,661.5 1038.5,667.7 1042.4,674.6 1046.3,682.3 1050.2,690.8 1054.1,700.0 1058.0,709.8 1061.9,720.1 1065.8,730.7 1069.6,741.3 1073.5,751.8 1077.4,762.0 1081.3,771.8 1085.2,780.9 1089.1,789.3 1093.0,796.9 1096.9,803.7 1100.7,809.8 1104.6,815.0 1108.5,819.6 1112.4,823.5 1116.3,826.9 1120.2,829.7 1124.1,832.1 1128.0,834.1 1131.9,835.8 1135.7,837.2 1139.6,838.4 1143.5,839.3" fill="none" stroke="#FF2600" stroke-width="1.65"/>
<path d="M836.3,639.2 V645.8 M827.1,639.2 h18.4 M827.1,645.8 h18.4" stroke="#FF2600" stroke-width="1.55" fill="none"/>
<path d="M873.1,622.7 V629.3 M863.9,622.7 h18.4 M863.9,629.3 h18.4" stroke="#FF2600" stroke-width="1.55" fill="none"/>
<path d="M908.7,612.8 V619.4 M899.5,612.8 h18.4 M899.5,619.4 h18.4" stroke="#FF2600" stroke-width="1.55" fill="none"/>
<path d="M944.3,626.0 V632.6 M935.1,626.0 h18.4 M935.1,632.6 h18.4" stroke="#FF2600" stroke-width="1.55" fill="none"/>
<path d="M979.9,609.5 V635.9 M970.7,609.5 h18.4 M970.7,635.9 h18.4" stroke="#FF2600" stroke-width="1.55" fill="none"/>
<path d="M1015.4,624.4 V654.0 M1006.2,624.4 h18.4 M1006.2,654.0 h18.4" stroke="#FF2600" stroke-width="1.55" fill="none"/>
<path d="M1051.0,680.3 V709.9 M1041.8,680.3 h18.4 M1041.8,709.9 h18.4" stroke="#FF2600" stroke-width="1.55" fill="none"/>
<path d="M1086.6,769.9 V794.9 M1077.4,769.9 h18.4 M1077.4,794.9 h18.4" stroke="#FF2600" stroke-width="1.55" fill="none"/>
<path d="M1143.5,836.7 V843.3 M1134.3,836.7 h18.4 M1134.3,843.3 h18.4" stroke="#FF2600" stroke-width="1.55" fill="none"/>
<path d="M836.3,634.7 L845.0,650.3 L827.6,650.3 Z" fill="#FF2600"/>
<path d="M873.1,618.2 L881.8,633.8 L864.4,633.8 Z" fill="#FF2600"/>
<path d="M908.7,608.3 L917.4,623.9 L900.0,623.9 Z" fill="#FF2600"/>
<path d="M944.3,621.5 L953.0,637.1 L935.6,637.1 Z" fill="#FF2600"/>
<path d="M979.9,614.9 L988.6,630.5 L971.2,630.5 Z" fill="#FF2600"/>
<path d="M1015.4,631.4 L1024.1,647.0 L1006.7,647.0 Z" fill="#FF2600"/>
<path d="M1051.0,687.3 L1059.7,702.9 L1042.3,702.9 Z" fill="#FF2600"/>
<path d="M1086.6,774.6 L1095.3,790.2 L1077.9,790.2 Z" fill="#FF2600"/>
<path d="M1143.5,832.2 L1152.2,847.8 L1134.8,847.8 Z" fill="#FF2600"/>
<polyline points="836.3,622.5 840.2,622.6 844.1,622.7 848.0,622.9 851.9,623.0 855.8,623.2 859.7,623.5 863.6,623.7 867.5,624.0 871.3,624.3 875.2,624.7 879.1,625.2 883.0,625.7 886.9,626.3 890.8,627.0 894.7,627.7 898.6,628.6 902.4,629.7 906.3,630.8 910.2,632.2 914.1,633.7 918.0,635.5 921.9,637.5 925.8,639.7 929.7,642.3 933.6,645.2 937.4,648.5 941.3,652.2 945.2,656.4 949.1,661.0 953.0,666.1 956.9,671.8 960.8,678.1 964.7,685.0 968.5,692.5 972.4,700.5 976.3,709.1 980.2,718.3 984.1,727.9 988.0,738.0 991.9,748.4 995.8,759.1 999.7,769.9 1003.5,780.7 1007.4,791.4 1011.3,802.0 1015.2,812.2 1019.1,822.1 1023.0,831.6 1026.9,840.5 1030.8,848.9 1034.6,856.7 1038.5,863.9 1042.4,870.5 1046.3,876.5 1050.2,881.9 1054.1,886.9 1058.0,891.3 1061.9,895.2 1065.8,898.7 1069.6,901.9 1073.5,904.6 1077.4,907.1 1081.3,909.2 1085.2,911.1 1089.1,912.7 1093.0,914.2 1096.9,915.5 1100.7,916.6 1104.6,917.5 1108.5,918.4 1112.4,919.1 1116.3,919.7 1120.2,920.3 1124.1,920.8 1128.0,921.2 1131.9,921.6 1135.7,921.9 1139.6,922.1 1143.5,922.4" fill="none" stroke="#000000" stroke-width="1.65"/>
<path d="M944.3,652.3 V673.4 M935.1,652.3 h18.4 M935.1,673.4 h18.4" stroke="#000000" stroke-width="1.55" fill="none"/>
<path d="M979.9,696.8 V725.1 M970.7,696.8 h18.4 M970.7,725.1 h18.4" stroke="#000000" stroke-width="1.55" fill="none"/>
<path d="M1015.4,803.4 V826.5 M1006.2,803.4 h18.4 M1006.2,826.5 h18.4" stroke="#000000" stroke-width="1.55" fill="none"/>
<circle cx="836.3" cy="618.1" r="7.8" fill="#000"/>
<circle cx="873.1" cy="625.3" r="7.8" fill="#000"/>
<circle cx="908.7" cy="631.9" r="7.8" fill="#000"/>
<circle cx="944.3" cy="662.9" r="7.8" fill="#000"/>
<circle cx="979.9" cy="710.9" r="7.8" fill="#000"/>
<circle cx="1015.4" cy="815.0" r="7.8" fill="#000"/>
<circle cx="1051.0" cy="884.8" r="7.8" fill="#000"/>
<circle cx="1086.6" cy="910.4" r="7.8" fill="#000"/>
<circle cx="1143.5" cy="922.0" r="7.8" fill="#000"/>
<line x1="1197.5" y1="592.9" x2="1221.3000000000002" y2="592.9" stroke="#000000" stroke-width="1.5"/>
<circle cx="1209.4" cy="592.9" r="9.2" fill="#000"/>
<text transform="translate(1230.6,602.6) scale(1,1.06)" font-size="24.85" fill="#000">WT</text>
<line x1="1197.5" y1="624.5" x2="1221.3000000000002" y2="624.5" stroke="#FF2600" stroke-width="1.5"/>
<path d="M1209.4,614.1 L1219.5,634.1 L1199.3,634.1 Z" fill="#FF2600"/>
<text transform="translate(1230.6,634.2) scale(1,1.06)" font-size="24.85" fill="#000">V60A</text>
<line x1="1197.5" y1="656.2" x2="1221.3000000000002" y2="656.2" stroke="#FF9300" stroke-width="1.5"/>
<path d="M1209.4,645.8 L1219.5,665.8 L1199.3,665.8 Z" fill="#FF9300"/>
<text transform="translate(1230.6,665.9) scale(1,1.06)" font-size="24.85" fill="#000">L73A</text>
<line x1="1197.5" y1="687.8" x2="1221.3000000000002" y2="687.8" stroke="#FFD932" stroke-width="1.5"/>
<path d="M1209.4,677.4 L1219.5,697.4 L1199.3,697.4 Z" fill="#FFD932"/>
<text transform="translate(1230.6,697.5) scale(1,1.06)" font-size="24.85" fill="#000">S76A</text>
<line x1="1197.5" y1="719.5" x2="1221.3000000000002" y2="719.5" stroke="#9BDF1F" stroke-width="1.5"/>
<path d="M1209.4,709.1 L1219.5,729.1 L1199.3,729.1 Z" fill="#9BDF1F"/>
<text transform="translate(1230.6,729.2) scale(1,1.06)" font-size="24.85" fill="#000">A78R</text>
<line x1="1197.5" y1="751.1" x2="1221.3000000000002" y2="751.1" stroke="#00D816" stroke-width="1.5"/>
<path d="M1209.4,740.8 L1219.5,760.8 L1199.3,760.8 Z" fill="#00D816"/>
<text transform="translate(1230.6,760.9) scale(1,1.06)" font-size="24.85" fill="#000">D85A</text>
<line x1="1197.5" y1="782.8" x2="1221.3000000000002" y2="782.8" stroke="#16C8FB" stroke-width="1.5"/>
<path d="M1209.4,772.4 L1219.5,792.4 L1199.3,792.4 Z" fill="#16C8FB"/>
<text transform="translate(1230.6,792.5) scale(1,1.06)" font-size="24.85" fill="#000">D102R</text>
<line x1="1197.5" y1="814.4" x2="1221.3000000000002" y2="814.4" stroke="#0A96FF" stroke-width="1.5"/>
<path d="M1209.4,804.0 L1219.5,824.0 L1199.3,824.0 Z" fill="#0A96FF"/>
<text transform="translate(1230.6,824.1) scale(1,1.06)" font-size="24.85" fill="#000">D107R</text>
<line x1="1197.5" y1="846.1" x2="1221.3000000000002" y2="846.1" stroke="#0432FF" stroke-width="1.5"/>
<path d="M1209.4,835.7 L1219.5,855.7 L1199.3,855.7 Z" fill="#0432FF"/>
<text transform="translate(1230.6,855.8) scale(1,1.06)" font-size="24.85" fill="#000">D142A</text>
<line x1="1197.5" y1="877.8" x2="1221.3000000000002" y2="877.8" stroke="#9A3CFF" stroke-width="1.5"/>
<path d="M1209.4,867.4 L1219.5,887.4 L1199.3,887.4 Z" fill="#9A3CFF"/>
<text transform="translate(1230.6,887.5) scale(1,1.06)" font-size="24.85" fill="#000">D142R</text>
<line x1="1197.5" y1="909.4" x2="1221.3000000000002" y2="909.4" stroke="#521B93" stroke-width="1.5"/>
<path d="M1209.4,899.0 L1219.5,919.0 L1199.3,919.0 Z" fill="#521B93"/>
<text transform="translate(1230.6,919.1) scale(1,1.06)" font-size="24.85" fill="#000">R150E</text>
<line x1="1453.1" y1="566.4" x2="1453.1" y2="956.8" stroke="#555" stroke-width="1.3"/>
<line x1="1450.3" y1="956.2" x2="1453.1" y2="956.2" stroke="#555" stroke-width="1.2"/>
<line x1="1451.6999999999998" y1="923.8" x2="1453.1" y2="923.8" stroke="#555" stroke-width="1.2"/>
<line x1="1450.3" y1="891.3" x2="1453.1" y2="891.3" stroke="#555" stroke-width="1.2"/>
<line x1="1451.6999999999998" y1="858.9" x2="1453.1" y2="858.9" stroke="#555" stroke-width="1.2"/>
<line x1="1450.3" y1="826.5" x2="1453.1" y2="826.5" stroke="#555" stroke-width="1.2"/>
<line x1="1451.6999999999998" y1="794.1" x2="1453.1" y2="794.1" stroke="#555" stroke-width="1.2"/>
<line x1="1450.3" y1="761.6" x2="1453.1" y2="761.6" stroke="#555" stroke-width="1.2"/>
<line x1="1451.6999999999998" y1="729.2" x2="1453.1" y2="729.2" stroke="#555" stroke-width="1.2"/>
<line x1="1450.3" y1="696.8" x2="1453.1" y2="696.8" stroke="#555" stroke-width="1.2"/>
<line x1="1451.6999999999998" y1="664.3" x2="1453.1" y2="664.3" stroke="#555" stroke-width="1.2"/>
<line x1="1450.3" y1="631.9" x2="1453.1" y2="631.9" stroke="#555" stroke-width="1.2"/>
<line x1="1451.6999999999998" y1="599.5" x2="1453.1" y2="599.5" stroke="#555" stroke-width="1.2"/>
<line x1="1450.3" y1="567.0" x2="1453.1" y2="567.0" stroke="#555" stroke-width="1.2"/>
<text transform="translate(1446.5,962.9) scale(1,1.06)" font-size="25" text-anchor="end" fill="#000">0</text>
<text transform="translate(1446.5,898.0) scale(1,1.06)" font-size="25" text-anchor="end" fill="#000">20</text>
<text transform="translate(1446.5,833.2) scale(1,1.06)" font-size="25" text-anchor="end" fill="#000">40</text>
<text transform="translate(1446.5,768.3) scale(1,1.06)" font-size="25" text-anchor="end" fill="#000">60</text>
<text transform="translate(1446.5,703.5) scale(1,1.06)" font-size="25" text-anchor="end" fill="#000">80</text>
<text transform="translate(1446.5,638.6) scale(1,1.06)" font-size="25" text-anchor="end" fill="#000">100</text>
<text transform="translate(1446.5,573.7) scale(1,1.06)" font-size="25" text-anchor="end" fill="#000">120</text>
<line x1="1475.2" y1="980.0" x2="1856.2" y2="980.0" stroke="#555" stroke-width="1.3"/>
<line x1="1504.6" y1="980.0" x2="1504.6" y2="982.8" stroke="#555" stroke-width="1.2"/>
<line x1="1563.1" y1="980.0" x2="1563.1" y2="981.4" stroke="#555" stroke-width="1.2"/>
<line x1="1621.6" y1="980.0" x2="1621.6" y2="982.8" stroke="#555" stroke-width="1.2"/>
<line x1="1680.1" y1="980.0" x2="1680.1" y2="981.4" stroke="#555" stroke-width="1.2"/>
<line x1="1738.6" y1="980.0" x2="1738.6" y2="982.8" stroke="#555" stroke-width="1.2"/>
<line x1="1797.1" y1="980.0" x2="1797.1" y2="981.4" stroke="#555" stroke-width="1.2"/>
<line x1="1855.6" y1="980.0" x2="1855.6" y2="982.8" stroke="#555" stroke-width="1.2"/>
<text transform="translate(1506.9,1012.8) scale(1,1.06)" font-size="25" text-anchor="middle" fill="#000">-2</text>
<text transform="translate(1623.9,1012.8) scale(1,1.06)" font-size="25" text-anchor="middle" fill="#000">-1</text>
<text transform="translate(1740.0,1012.8) scale(1,1.06)" font-size="25" text-anchor="middle" fill="#000">0</text>
<text transform="translate(1857.0,1012.8) scale(1,1.06)" font-size="25" text-anchor="middle" fill="#000">1</text>
<text transform="translate(1661.6,1049.2) scale(1,1.06)" font-size="25" text-anchor="middle" fill="#000">log (uM sEC1-2)</text>
<text transform="translate(1390.0,778.2) rotate(-90) scale(1,1.06)" font-size="24.6" text-anchor="middle" fill="#000">Relative ELISA signal (%)</text>
<text transform="translate(1659,543.8) scale(1,1.06)" font-size="29.3" text-anchor="middle" fill="#7D3FE6">Poor binders</text>
<polyline points="1517.5,615.7 1521.3,615.7 1525.1,615.7 1529.0,615.7 1532.8,615.7 1536.6,615.7 1540.5,615.7 1544.3,615.7 1548.2,615.7 1552.0,615.7 1555.8,615.7 1559.7,615.7 1563.5,615.7 1567.3,615.7 1571.2,615.7 1575.0,615.7 1578.8,615.7 1582.7,615.7 1586.5,615.8 1590.4,615.8 1594.2,615.8 1598.0,615.8 1601.9,615.8 1605.7,615.8 1609.5,615.9 1613.4,615.9 1617.2,615.9 1621.0,615.9 1624.9,616.0 1628.7,616.0 1632.5,616.1 1636.4,616.2 1640.2,616.2 1644.1,616.3 1647.9,616.4 1651.7,616.6 1655.6,616.7 1659.4,616.9 1663.2,617.1 1667.1,617.3 1670.9,617.5 1674.7,617.8 1678.6,618.2 1682.4,618.6 1686.2,619.0 1690.1,619.6 1693.9,620.2 1697.8,620.9 1701.6,621.7 1705.4,622.6 1709.3,623.6 1713.1,624.8 1716.9,626.2 1720.8,627.7 1724.6,629.5 1728.4,631.4 1732.3,633.6 1736.1,636.1 1739.9,638.8 1743.8,641.8 1747.6,645.0 1751.5,648.5 1755.3,652.3 1759.1,656.3 1763.0,660.5 1766.8,664.9 1770.6,669.4 1774.5,674.0 1778.3,678.6 1782.1,683.3 1786.0,687.8 1789.8,692.3 1793.6,696.6 1797.5,700.7 1801.3,704.5 1805.2,708.1 1809.0,711.5 1812.8,714.6 1816.7,717.4 1820.5,719.9" fill="none" stroke="#B5694F" stroke-width="1.65"/>
<path d="M1517.5,601.1 V669.2 M1508.3,601.1 h18.4 M1508.3,669.2 h18.4" stroke="#B5694F" stroke-width="1.55" fill="none"/>
<path d="M1553.7,580.0 V625.4 M1544.5,580.0 h18.4 M1544.5,625.4 h18.4" stroke="#B5694F" stroke-width="1.55" fill="none"/>
<path d="M1588.8,573.5 V664.3 M1579.6,573.5 h18.4 M1579.6,664.3 h18.4" stroke="#B5694F" stroke-width="1.55" fill="none"/>
<path d="M1623.9,609.2 V628.7 M1614.7,609.2 h18.4 M1614.7,628.7 h18.4" stroke="#B5694F" stroke-width="1.55" fill="none"/>
<path d="M1659.0,594.6 V633.5 M1649.8,594.6 h18.4 M1649.8,633.5 h18.4" stroke="#B5694F" stroke-width="1.55" fill="none"/>
<path d="M1694.1,576.8 V615.7 M1684.9,576.8 h18.4 M1684.9,615.7 h18.4" stroke="#B5694F" stroke-width="1.55" fill="none"/>
<path d="M1729.2,609.2 V628.7 M1720.0,609.2 h18.4 M1720.0,628.7 h18.4" stroke="#B5694F" stroke-width="1.55" fill="none"/>
<path d="M1764.3,651.4 V677.3 M1755.1,651.4 h18.4 M1755.1,677.3 h18.4" stroke="#B5694F" stroke-width="1.55" fill="none"/>
<path d="M1820.5,683.8 V768.1 M1811.3,683.8 h18.4 M1811.3,768.1 h18.4" stroke="#B5694F" stroke-width="1.55" fill="none"/>
<path d="M1517.5,627.3 L1526.2,642.9 L1508.8,642.9 Z" fill="#B5694F"/>
<path d="M1553.7,594.9 L1562.4,610.5 L1545.0,610.5 Z" fill="#B5694F"/>
<path d="M1588.8,611.1 L1597.5,626.7 L1580.1,626.7 Z" fill="#B5694F"/>
<path d="M1623.9,611.1 L1632.6,626.7 L1615.2,626.7 Z" fill="#B5694F"/>
<path d="M1659.0,606.3 L1667.7,621.9 L1650.3,621.9 Z" fill="#B5694F"/>
<path d="M1694.1,588.4 L1702.8,604.0 L1685.4,604.0 Z" fill="#B5694F"/>
<path d="M1729.2,611.1 L1737.9,626.7 L1720.5,626.7 Z" fill="#B5694F"/>
<path d="M1764.3,656.5 L1773.0,672.1 L1755.6,672.1 Z" fill="#B5694F"/>
<path d="M1820.5,718.1 L1829.2,733.7 L1811.8,733.7 Z" fill="#B5694F"/>
<polyline points="1517.5,623.8 1521.3,623.8 1525.1,623.8 1529.0,623.8 1532.8,623.8 1536.6,623.8 1540.5,623.8 1544.3,623.8 1548.2,623.8 1552.0,623.8 1555.8,623.8 1559.7,623.8 1563.5,623.8 1567.3,623.8 1571.2,623.8 1575.0,623.8 1578.8,623.8 1582.7,623.8 1586.5,623.8 1590.4,623.8 1594.2,623.8 1598.0,623.9 1601.9,623.9 1605.7,623.9 1609.5,623.9 1613.4,623.9 1617.2,623.9 1621.0,624.0 1624.9,624.0 1628.7,624.0 1632.5,624.1 1636.4,624.1 1640.2,624.2 1644.1,624.2 1647.9,624.3 1651.7,624.4 1655.6,624.5 1659.4,624.7 1663.2,624.8 1667.1,625.0 1670.9,625.2 1674.7,625.5 1678.6,625.8 1682.4,626.1 1686.2,626.5 1690.1,627.0 1693.9,627.6 1697.8,628.3 1701.6,629.1 1705.4,630.0 1709.3,631.0 1713.1,632.3 1716.9,633.7 1720.8,635.3 1724.6,637.2 1728.4,639.4 1732.3,641.8 1736.1,644.6 1739.9,647.8 1743.8,651.3 1747.6,655.2 1751.5,659.4 1755.3,664.1 1759.1,669.1 1763.0,674.4 1766.8,680.0 1770.6,685.7 1774.5,691.7 1778.3,697.7 1782.1,703.6 1786.0,709.5 1789.8,715.2 1793.6,720.6 1797.5,725.7 1801.3,730.5 1805.2,735.0 1809.0,739.0 1812.8,742.7 1816.7,746.0 1820.5,748.9" fill="none" stroke="#AAAAAA" stroke-width="1.65"/>
<path d="M1517.5,606.0 V618.9 M1508.3,606.0 h18.4 M1508.3,618.9 h18.4" stroke="#AAAAAA" stroke-width="1.55" fill="none"/>
<path d="M1553.7,612.4 V625.4 M1544.5,612.4 h18.4 M1544.5,625.4 h18.4" stroke="#AAAAAA" stroke-width="1.55" fill="none"/>
<path d="M1588.8,612.4 V625.4 M1579.6,612.4 h18.4 M1579.6,625.4 h18.4" stroke="#AAAAAA" stroke-width="1.55" fill="none"/>
<path d="M1623.9,612.4 V631.9 M1614.7,612.4 h18.4 M1614.7,631.9 h18.4" stroke="#AAAAAA" stroke-width="1.55" fill="none"/>
<path d="M1659.0,618.9 V638.4 M1649.8,618.9 h18.4 M1649.8,638.4 h18.4" stroke="#AAAAAA" stroke-width="1.55" fill="none"/>
<path d="M1694.1,615.7 V628.7 M1684.9,615.7 h18.4 M1684.9,628.7 h18.4" stroke="#AAAAAA" stroke-width="1.55" fill="none"/>
<path d="M1729.2,622.2 V635.1 M1720.0,622.2 h18.4 M1720.0,635.1 h18.4" stroke="#AAAAAA" stroke-width="1.55" fill="none"/>
<path d="M1764.3,664.3 V696.8 M1755.1,664.3 h18.4 M1755.1,696.8 h18.4" stroke="#AAAAAA" stroke-width="1.55" fill="none"/>
<path d="M1820.5,732.4 V771.3 M1811.3,732.4 h18.4 M1811.3,771.3 h18.4" stroke="#AAAAAA" stroke-width="1.55" fill="none"/>
<path d="M1517.5,604.6 L1526.2,620.2 L1508.8,620.2 Z" fill="#AAAAAA"/>
<path d="M1553.7,611.1 L1562.4,626.7 L1545.0,626.7 Z" fill="#AAAAAA"/>
<path d="M1588.8,611.1 L1597.5,626.7 L1580.1,626.7 Z" fill="#AAAAAA"/>
<path d="M1623.9,614.4 L1632.6,630.0 L1615.2,630.0 Z" fill="#AAAAAA"/>
<path d="M1659.0,620.9 L1667.7,636.5 L1650.3,636.5 Z" fill="#AAAAAA"/>
<path d="M1694.1,614.4 L1702.8,630.0 L1685.4,630.0 Z" fill="#AAAAAA"/>
<path d="M1729.2,620.9 L1737.9,636.5 L1720.5,636.5 Z" fill="#AAAAAA"/>
<path d="M1764.3,672.7 L1773.0,688.3 L1755.6,688.3 Z" fill="#AAAAAA"/>
<path d="M1820.5,744.1 L1829.2,759.7 L1811.8,759.7 Z" fill="#AAAAAA"/>
<path d="M1517.5,625.4 V638.4 M1508.3,625.4 h18.4 M1508.3,638.4 h18.4" stroke="#521B93" stroke-width="1.55" fill="none"/>
<path d="M1553.7,612.4 V631.9 M1544.5,612.4 h18.4 M1544.5,631.9 h18.4" stroke="#521B93" stroke-width="1.55" fill="none"/>
<path d="M1588.8,612.4 V625.4 M1579.6,612.4 h18.4 M1579.6,625.4 h18.4" stroke="#521B93" stroke-width="1.55" fill="none"/>
<path d="M1623.9,606.0 V625.4 M1614.7,606.0 h18.4 M1614.7,625.4 h18.4" stroke="#521B93" stroke-width="1.55" fill="none"/>
<path d="M1659.0,612.4 V625.4 M1649.8,612.4 h18.4 M1649.8,625.4 h18.4" stroke="#521B93" stroke-width="1.55" fill="none"/>
<path d="M1694.1,609.2 V622.2 M1684.9,609.2 h18.4 M1684.9,622.2 h18.4" stroke="#521B93" stroke-width="1.55" fill="none"/>
<path d="M1729.2,602.7 V615.7 M1720.0,602.7 h18.4 M1720.0,615.7 h18.4" stroke="#521B93" stroke-width="1.55" fill="none"/>
<path d="M1764.3,609.2 V622.2 M1755.1,609.2 h18.4 M1755.1,622.2 h18.4" stroke="#521B93" stroke-width="1.55" fill="none"/>
<path d="M1820.5,609.2 V622.2 M1811.3,609.2 h18.4 M1811.3,622.2 h18.4" stroke="#521B93" stroke-width="1.55" fill="none"/>
<path d="M1517.5,624.1 L1526.2,639.7 L1508.8,639.7 Z" fill="#521B93"/>
<path d="M1553.7,614.4 L1562.4,630.0 L1545.0,630.0 Z" fill="#521B93"/>
<path d="M1588.8,611.1 L1597.5,626.7 L1580.1,626.7 Z" fill="#521B93"/>
<path d="M1623.9,607.9 L1632.6,623.5 L1615.2,623.5 Z" fill="#521B93"/>
<path d="M1659.0,611.1 L1667.7,626.7 L1650.3,626.7 Z" fill="#521B93"/>
<path d="M1694.1,607.9 L1702.8,623.5 L1685.4,623.5 Z" fill="#521B93"/>
<path d="M1729.2,601.4 L1737.9,617.0 L1720.5,617.0 Z" fill="#521B93"/>
<path d="M1764.3,607.9 L1773.0,623.5 L1755.6,623.5 Z" fill="#521B93"/>
<path d="M1820.5,607.9 L1829.2,623.5 L1811.8,623.5 Z" fill="#521B93"/>
<polyline points="1517.5,632.6 1521.3,632.6 1525.1,632.6 1529.0,632.6 1532.8,632.6 1536.6,632.6 1540.5,632.6 1544.3,632.6 1548.2,632.6 1552.0,632.6 1555.8,632.6 1559.7,632.6 1563.5,632.6 1567.3,632.6 1571.2,632.6 1575.0,632.6 1578.8,632.6 1582.7,632.6 1586.5,632.6 1590.4,632.6 1594.2,632.7 1598.0,632.7 1601.9,632.7 1605.7,632.8 1609.5,632.8 1613.4,632.8 1617.2,632.9 1621.0,633.0 1624.9,633.0 1628.7,633.1 1632.5,633.2 1636.4,633.4 1640.2,633.5 1644.1,633.7 1647.9,633.9 1651.7,634.2 1655.6,634.5 1659.4,634.8 1663.2,635.2 1667.1,635.7 1670.9,636.3 1674.7,637.0 1678.6,637.8 1682.4,638.8 1686.2,639.9 1690.1,641.3 1693.9,642.8 1697.8,644.6 1701.6,646.7 1705.4,649.1 1709.3,651.8 1713.1,655.0 1716.9,658.5 1720.8,662.5 1724.6,666.9 1728.4,671.8 1732.3,677.1 1736.1,682.9 1739.9,689.0 1743.8,695.4 1747.6,702.0 1751.5,708.8 1755.3,715.6 1759.1,722.3 1763.0,728.8 1766.8,735.1 1770.6,741.1 1774.5,746.7 1778.3,751.9 1782.1,756.6 1786.0,760.8 1789.8,764.6 1793.6,768.0 1797.5,771.0 1801.3,773.6 1805.2,775.9 1809.0,777.8 1812.8,779.5 1816.7,781.0 1820.5,782.2" fill="none" stroke="#9A3CFF" stroke-width="1.65"/>
<path d="M1517.5,618.9 V631.9 M1508.3,618.9 h18.4 M1508.3,631.9 h18.4" stroke="#9A3CFF" stroke-width="1.55" fill="none"/>
<path d="M1553.7,606.0 V631.9 M1544.5,606.0 h18.4 M1544.5,631.9 h18.4" stroke="#9A3CFF" stroke-width="1.55" fill="none"/>
<path d="M1588.8,615.7 V628.7 M1579.6,615.7 h18.4 M1579.6,628.7 h18.4" stroke="#9A3CFF" stroke-width="1.55" fill="none"/>
<path d="M1623.9,618.9 V631.9 M1614.7,618.9 h18.4 M1614.7,631.9 h18.4" stroke="#9A3CFF" stroke-width="1.55" fill="none"/>
<path d="M1659.0,631.9 V644.9 M1649.8,631.9 h18.4 M1649.8,644.9 h18.4" stroke="#9A3CFF" stroke-width="1.55" fill="none"/>
<path d="M1694.1,638.4 V667.6 M1684.9,638.4 h18.4 M1684.9,667.6 h18.4" stroke="#9A3CFF" stroke-width="1.55" fill="none"/>
<path d="M1729.2,662.7 V669.2 M1720.0,662.7 h18.4 M1720.0,669.2 h18.4" stroke="#9A3CFF" stroke-width="1.55" fill="none"/>
<path d="M1764.3,722.7 V755.1 M1755.1,722.7 h18.4 M1755.1,755.1 h18.4" stroke="#9A3CFF" stroke-width="1.55" fill="none"/>
<path d="M1820.5,771.3 V797.3 M1811.3,771.3 h18.4 M1811.3,797.3 h18.4" stroke="#9A3CFF" stroke-width="1.55" fill="none"/>
<path d="M1517.5,617.6 L1526.2,633.2 L1508.8,633.2 Z" fill="#9A3CFF"/>
<path d="M1553.7,611.1 L1562.4,626.7 L1545.0,626.7 Z" fill="#9A3CFF"/>
<path d="M1588.8,614.4 L1597.5,630.0 L1580.1,630.0 Z" fill="#9A3CFF"/>
<path d="M1623.9,617.6 L1632.6,633.2 L1615.2,633.2 Z" fill="#9A3CFF"/>
<path d="M1659.0,630.6 L1667.7,646.2 L1650.3,646.2 Z" fill="#9A3CFF"/>
<path d="M1694.1,645.2 L1702.8,660.8 L1685.4,660.8 Z" fill="#9A3CFF"/>
<path d="M1729.2,658.2 L1737.9,673.8 L1720.5,673.8 Z" fill="#9A3CFF"/>
<path d="M1764.3,731.1 L1773.0,746.7 L1755.6,746.7 Z" fill="#9A3CFF"/>
<path d="M1820.5,776.5 L1829.2,792.1 L1811.8,792.1 Z" fill="#9A3CFF"/>
<path d="M1517.5,625.4 V638.4 M1508.3,625.4 h18.4 M1508.3,638.4 h18.4" stroke="#0432FF" stroke-width="1.55" fill="none"/>
<path d="M1553.7,618.9 V638.4 M1544.5,618.9 h18.4 M1544.5,638.4 h18.4" stroke="#0432FF" stroke-width="1.55" fill="none"/>
<path d="M1588.8,606.0 V618.9 M1579.6,606.0 h18.4 M1579.6,618.9 h18.4" stroke="#0432FF" stroke-width="1.55" fill="none"/>
<path d="M1623.9,641.6 V654.6 M1614.7,641.6 h18.4 M1614.7,654.6 h18.4" stroke="#0432FF" stroke-width="1.55" fill="none"/>
<path d="M1659.0,597.8 V610.8 M1649.8,597.8 h18.4 M1649.8,610.8 h18.4" stroke="#0432FF" stroke-width="1.55" fill="none"/>
<path d="M1694.1,609.2 V622.2 M1684.9,609.2 h18.4 M1684.9,622.2 h18.4" stroke="#0432FF" stroke-width="1.55" fill="none"/>
<path d="M1729.2,597.8 V610.8 M1720.0,597.8 h18.4 M1720.0,610.8 h18.4" stroke="#0432FF" stroke-width="1.55" fill="none"/>
<path d="M1764.3,609.2 V628.7 M1755.1,609.2 h18.4 M1755.1,628.7 h18.4" stroke="#0432FF" stroke-width="1.55" fill="none"/>
<path d="M1820.5,599.5 V625.4 M1811.3,599.5 h18.4 M1811.3,625.4 h18.4" stroke="#0432FF" stroke-width="1.55" fill="none"/>
<path d="M1517.5,624.1 L1526.2,639.7 L1508.8,639.7 Z" fill="#0432FF"/>
<path d="M1553.7,620.9 L1562.4,636.5 L1545.0,636.5 Z" fill="#0432FF"/>
<path d="M1588.8,604.6 L1597.5,620.2 L1580.1,620.2 Z" fill="#0432FF"/>
<path d="M1623.9,640.3 L1632.6,655.9 L1615.2,655.9 Z" fill="#0432FF"/>
<path d="M1659.0,596.5 L1667.7,612.1 L1650.3,612.1 Z" fill="#0432FF"/>
<path d="M1694.1,607.9 L1702.8,623.5 L1685.4,623.5 Z" fill="#0432FF"/>
<path d="M1729.2,596.5 L1737.9,612.1 L1720.5,612.1 Z" fill="#0432FF"/>
<path d="M1764.3,611.1 L1773.0,626.7 L1755.6,626.7 Z" fill="#0432FF"/>
<path d="M1820.5,604.6 L1829.2,620.2 L1811.8,620.2 Z" fill="#0432FF"/>
<polyline points="1517.5,618.9 1521.3,618.9 1525.1,618.9 1529.0,618.9 1532.8,618.9 1536.6,618.9 1540.5,618.9 1544.3,618.9 1548.2,618.9 1552.0,618.9 1555.8,618.9 1559.7,618.9 1563.5,618.9 1567.3,618.9 1571.2,618.9 1575.0,618.9 1578.8,618.9 1582.7,618.9 1586.5,618.9 1590.4,618.9 1594.2,618.9 1598.0,618.9 1601.9,618.9 1605.7,618.9 1609.5,618.9 1613.4,618.9 1617.2,618.9 1621.0,618.9 1624.9,618.9 1628.7,618.9 1632.5,618.9 1636.4,619.0 1640.2,619.0 1644.1,619.0 1647.9,619.0 1651.7,619.0 1655.6,619.0 1659.4,619.0 1663.2,619.1 1667.1,619.1 1670.9,619.1 1674.7,619.2 1678.6,619.3 1682.4,619.3 1686.2,619.4 1690.1,619.6 1693.9,619.7 1697.8,619.9 1701.6,620.2 1705.4,620.5 1709.3,620.9 1713.1,621.3 1716.9,621.9 1720.8,622.6 1724.6,623.4 1728.4,624.4 1732.3,625.6 1736.1,627.0 1739.9,628.6 1743.8,630.5 1747.6,632.5 1751.5,634.8 1755.3,637.2 1759.1,639.7 1763.0,642.3 1766.8,644.8 1770.6,647.3 1774.5,649.6 1778.3,651.8 1782.1,653.7 1786.0,655.5 1789.8,657.0 1793.6,658.3 1797.5,659.4 1801.3,660.3 1805.2,661.0 1809.0,661.7 1812.8,662.2 1816.7,662.6 1820.5,662.9" fill="none" stroke="#0A96FF" stroke-width="1.65"/>
<path d="M1517.5,623.8 V633.5 M1508.3,623.8 h18.4 M1508.3,633.5 h18.4" stroke="#0A96FF" stroke-width="1.55" fill="none"/>
<path d="M1553.7,612.4 V625.4 M1544.5,612.4 h18.4 M1544.5,625.4 h18.4" stroke="#0A96FF" stroke-width="1.55" fill="none"/>
<path d="M1588.8,615.7 V628.7 M1579.6,615.7 h18.4 M1579.6,628.7 h18.4" stroke="#0A96FF" stroke-width="1.55" fill="none"/>
<path d="M1623.9,612.4 V625.4 M1614.7,612.4 h18.4 M1614.7,625.4 h18.4" stroke="#0A96FF" stroke-width="1.55" fill="none"/>
<path d="M1659.0,601.1 V614.1 M1649.8,601.1 h18.4 M1649.8,614.1 h18.4" stroke="#0A96FF" stroke-width="1.55" fill="none"/>
<path d="M1694.1,602.7 V622.2 M1684.9,602.7 h18.4 M1684.9,622.2 h18.4" stroke="#0A96FF" stroke-width="1.55" fill="none"/>
<path d="M1729.2,618.9 V638.4 M1720.0,618.9 h18.4 M1720.0,638.4 h18.4" stroke="#0A96FF" stroke-width="1.55" fill="none"/>
<path d="M1764.3,630.3 V649.7 M1755.1,630.3 h18.4 M1755.1,649.7 h18.4" stroke="#0A96FF" stroke-width="1.55" fill="none"/>
<path d="M1820.5,648.1 V677.3 M1811.3,648.1 h18.4 M1811.3,677.3 h18.4" stroke="#0A96FF" stroke-width="1.55" fill="none"/>
<path d="M1517.5,620.9 L1526.2,636.5 L1508.8,636.5 Z" fill="#0A96FF"/>
<path d="M1553.7,611.1 L1562.4,626.7 L1545.0,626.7 Z" fill="#0A96FF"/>
<path d="M1588.8,614.4 L1597.5,630.0 L1580.1,630.0 Z" fill="#0A96FF"/>
<path d="M1623.9,611.1 L1632.6,626.7 L1615.2,626.7 Z" fill="#0A96FF"/>
<path d="M1659.0,599.8 L1667.7,615.4 L1650.3,615.4 Z" fill="#0A96FF"/>
<path d="M1694.1,604.6 L1702.8,620.2 L1685.4,620.2 Z" fill="#0A96FF"/>
<path d="M1729.2,620.9 L1737.9,636.5 L1720.5,636.5 Z" fill="#0A96FF"/>
<path d="M1764.3,632.2 L1773.0,647.8 L1755.6,647.8 Z" fill="#0A96FF"/>
<path d="M1820.5,654.9 L1829.2,670.5 L1811.8,670.5 Z" fill="#0A96FF"/>
<polyline points="1517.5,631.3 1521.3,631.3 1525.1,631.3 1529.0,631.3 1532.8,631.3 1536.6,631.3 1540.5,631.3 1544.3,631.3 1548.2,631.3 1552.0,631.3 1555.8,631.3 1559.7,631.3 1563.5,631.3 1567.3,631.3 1571.2,631.3 1575.0,631.3 1578.8,631.3 1582.7,631.3 1586.5,631.3 1590.4,631.3 1594.2,631.3 1598.0,631.3 1601.9,631.3 1605.7,631.3 1609.5,631.3 1613.4,631.3 1617.2,631.3 1621.0,631.3 1624.9,631.3 1628.7,631.3 1632.5,631.4 1636.4,631.4 1640.2,631.4 1644.1,631.4 1647.9,631.5 1651.7,631.5 1655.6,631.5 1659.4,631.6 1663.2,631.7 1667.1,631.7 1670.9,631.8 1674.7,631.9 1678.6,632.1 1682.4,632.2 1686.2,632.4 1690.1,632.6 1693.9,632.9 1697.8,633.2 1701.6,633.6 1705.4,634.0 1709.3,634.5 1713.1,635.1 1716.9,635.7 1720.8,636.5 1724.6,637.5 1728.4,638.5 1732.3,639.8 1736.1,641.2 1739.9,642.8 1743.8,644.7 1747.6,646.8 1751.5,649.1 1755.3,651.7 1759.1,654.5 1763.0,657.5 1766.8,660.8 1770.6,664.2 1774.5,667.8 1778.3,671.4 1782.1,675.1 1786.0,678.8 1789.8,682.4 1793.6,685.8 1797.5,689.1 1801.3,692.2 1805.2,695.1 1809.0,697.7 1812.8,700.1 1816.7,702.3 1820.5,704.2" fill="none" stroke="#16C8FB" stroke-width="1.65"/>
<path d="M1517.5,630.3 V640.0 M1508.3,630.3 h18.4 M1508.3,640.0 h18.4" stroke="#16C8FB" stroke-width="1.55" fill="none"/>
<path d="M1553.7,631.9 V644.9 M1544.5,631.9 h18.4 M1544.5,644.9 h18.4" stroke="#16C8FB" stroke-width="1.55" fill="none"/>
<path d="M1588.8,638.4 V651.4 M1579.6,638.4 h18.4 M1579.6,651.4 h18.4" stroke="#16C8FB" stroke-width="1.55" fill="none"/>
<path d="M1623.9,612.4 V631.9 M1614.7,612.4 h18.4 M1614.7,631.9 h18.4" stroke="#16C8FB" stroke-width="1.55" fill="none"/>
<path d="M1659.0,628.7 V648.1 M1649.8,628.7 h18.4 M1649.8,648.1 h18.4" stroke="#16C8FB" stroke-width="1.55" fill="none"/>
<path d="M1694.1,612.4 V631.9 M1684.9,612.4 h18.4 M1684.9,631.9 h18.4" stroke="#16C8FB" stroke-width="1.55" fill="none"/>
<path d="M1729.2,641.6 V654.6 M1720.0,641.6 h18.4 M1720.0,654.6 h18.4" stroke="#16C8FB" stroke-width="1.55" fill="none"/>
<path d="M1764.3,644.9 V664.3 M1755.1,644.9 h18.4 M1755.1,664.3 h18.4" stroke="#16C8FB" stroke-width="1.55" fill="none"/>
<path d="M1820.5,703.2 V722.7 M1811.3,703.2 h18.4 M1811.3,722.7 h18.4" stroke="#16C8FB" stroke-width="1.55" fill="none"/>
<path d="M1517.5,627.3 L1526.2,642.9 L1508.8,642.9 Z" fill="#16C8FB"/>
<path d="M1553.7,630.6 L1562.4,646.2 L1545.0,646.2 Z" fill="#16C8FB"/>
<path d="M1588.8,637.1 L1597.5,652.7 L1580.1,652.7 Z" fill="#16C8FB"/>
<path d="M1623.9,614.4 L1632.6,630.0 L1615.2,630.0 Z" fill="#16C8FB"/>
<path d="M1659.0,630.6 L1667.7,646.2 L1650.3,646.2 Z" fill="#16C8FB"/>
<path d="M1694.1,614.4 L1702.8,630.0 L1685.4,630.0 Z" fill="#16C8FB"/>
<path d="M1729.2,640.3 L1737.9,655.9 L1720.5,655.9 Z" fill="#16C8FB"/>
<path d="M1764.3,646.8 L1773.0,662.4 L1755.6,662.4 Z" fill="#16C8FB"/>
<path d="M1820.5,705.2 L1829.2,720.8 L1811.8,720.8 Z" fill="#16C8FB"/>
<path d="M1517.5,640.0 V662.7 M1508.3,640.0 h18.4 M1508.3,662.7 h18.4" stroke="#00D816" stroke-width="1.55" fill="none"/>
<path d="M1553.7,644.9 V657.8 M1544.5,644.9 h18.4 M1544.5,657.8 h18.4" stroke="#00D816" stroke-width="1.55" fill="none"/>
<path d="M1588.8,633.5 V649.7 M1579.6,633.5 h18.4 M1579.6,649.7 h18.4" stroke="#00D816" stroke-width="1.55" fill="none"/>
<path d="M1623.9,631.9 V651.4 M1614.7,631.9 h18.4 M1614.7,651.4 h18.4" stroke="#00D816" stroke-width="1.55" fill="none"/>
<path d="M1659.0,612.4 V631.9 M1649.8,612.4 h18.4 M1649.8,631.9 h18.4" stroke="#00D816" stroke-width="1.55" fill="none"/>
<path d="M1694.1,596.2 V625.4 M1684.9,596.2 h18.4 M1684.9,625.4 h18.4" stroke="#00D816" stroke-width="1.55" fill="none"/>
<path d="M1729.2,593.0 V618.9 M1720.0,593.0 h18.4 M1720.0,618.9 h18.4" stroke="#00D816" stroke-width="1.55" fill="none"/>
<path d="M1764.3,591.4 V617.3 M1755.1,591.4 h18.4 M1755.1,617.3 h18.4" stroke="#00D816" stroke-width="1.55" fill="none"/>
<path d="M1820.5,617.3 V623.8 M1811.3,617.3 h18.4 M1811.3,623.8 h18.4" stroke="#00D816" stroke-width="1.55" fill="none"/>
<path d="M1517.5,643.6 L1526.2,659.2 L1508.8,659.2 Z" fill="#00D816"/>
<path d="M1553.7,643.6 L1562.4,659.2 L1545.0,659.2 Z" fill="#00D816"/>
<path d="M1588.8,633.8 L1597.5,649.4 L1580.1,649.4 Z" fill="#00D816"/>
<path d="M1623.9,633.8 L1632.6,649.4 L1615.2,649.4 Z" fill="#00D816"/>
<path d="M1659.0,614.4 L1667.7,630.0 L1650.3,630.0 Z" fill="#00D816"/>
<path d="M1694.1,603.0 L1702.8,618.6 L1685.4,618.6 Z" fill="#00D816"/>
<path d="M1729.2,598.2 L1737.9,613.8 L1720.5,613.8 Z" fill="#00D816"/>
<path d="M1764.3,596.5 L1773.0,612.1 L1755.6,612.1 Z" fill="#00D816"/>
<path d="M1820.5,612.7 L1829.2,628.3 L1811.8,628.3 Z" fill="#00D816"/>
<polyline points="1517.5,635.1 1521.3,635.1 1525.1,635.1 1529.0,635.1 1532.8,635.1 1536.6,635.1 1540.5,635.1 1544.3,635.1 1548.2,635.1 1552.0,635.1 1555.8,635.1 1559.7,635.1 1563.5,635.1 1567.3,635.2 1571.2,635.2 1575.0,635.2 1578.8,635.2 1582.7,635.2 1586.5,635.2 1590.4,635.2 1594.2,635.2 1598.0,635.2 1601.9,635.2 1605.7,635.2 1609.5,635.2 1613.4,635.2 1617.2,635.2 1621.0,635.2 1624.9,635.2 1628.7,635.3 1632.5,635.3 1636.4,635.3 1640.2,635.3 1644.1,635.4 1647.9,635.4 1651.7,635.4 1655.6,635.5 1659.4,635.6 1663.2,635.6 1667.1,635.7 1670.9,635.8 1674.7,635.9 1678.6,636.1 1682.4,636.3 1686.2,636.4 1690.1,636.7 1693.9,637.0 1697.8,637.3 1701.6,637.6 1705.4,638.1 1709.3,638.6 1713.1,639.2 1716.9,639.9 1720.8,640.7 1724.6,641.6 1728.4,642.7 1732.3,643.9 1736.1,645.3 1739.9,646.9 1743.8,648.7 1747.6,650.7 1751.5,652.9 1755.3,655.4 1759.1,658.1 1763.0,661.0 1766.8,664.1 1770.6,667.4 1774.5,670.9 1778.3,674.4 1782.1,678.1 1786.0,681.7 1789.8,685.3 1793.6,688.8 1797.5,692.2 1801.3,695.4 1805.2,698.4 1809.0,701.2 1812.8,703.8 1816.7,706.1 1820.5,708.3" fill="none" stroke="#9BDF1F" stroke-width="1.65"/>
<path d="M1517.5,644.9 V651.4 M1508.3,644.9 h18.4 M1508.3,651.4 h18.4" stroke="#9BDF1F" stroke-width="1.55" fill="none"/>
<path d="M1553.7,635.1 V648.1 M1544.5,635.1 h18.4 M1544.5,648.1 h18.4" stroke="#9BDF1F" stroke-width="1.55" fill="none"/>
<path d="M1588.8,638.4 V651.4 M1579.6,638.4 h18.4 M1579.6,651.4 h18.4" stroke="#9BDF1F" stroke-width="1.55" fill="none"/>
<path d="M1623.9,615.7 V635.1 M1614.7,615.7 h18.4 M1614.7,635.1 h18.4" stroke="#9BDF1F" stroke-width="1.55" fill="none"/>
<path d="M1659.0,640.0 V653.0 M1649.8,640.0 h18.4 M1649.8,653.0 h18.4" stroke="#9BDF1F" stroke-width="1.55" fill="none"/>
<path d="M1694.1,615.7 V628.7 M1684.9,615.7 h18.4 M1684.9,628.7 h18.4" stroke="#9BDF1F" stroke-width="1.55" fill="none"/>
<path d="M1729.2,641.6 V654.6 M1720.0,641.6 h18.4 M1720.0,654.6 h18.4" stroke="#9BDF1F" stroke-width="1.55" fill="none"/>
<path d="M1764.3,648.1 V667.6 M1755.1,648.1 h18.4 M1755.1,667.6 h18.4" stroke="#9BDF1F" stroke-width="1.55" fill="none"/>
<path d="M1820.5,706.5 V725.9 M1811.3,706.5 h18.4 M1811.3,725.9 h18.4" stroke="#9BDF1F" stroke-width="1.55" fill="none"/>
<path d="M1517.5,640.3 L1526.2,655.9 L1508.8,655.9 Z" fill="#9BDF1F"/>
<path d="M1553.7,633.8 L1562.4,649.4 L1545.0,649.4 Z" fill="#9BDF1F"/>
<path d="M1588.8,637.1 L1597.5,652.7 L1580.1,652.7 Z" fill="#9BDF1F"/>
<path d="M1623.9,617.6 L1632.6,633.2 L1615.2,633.2 Z" fill="#9BDF1F"/>
<path d="M1659.0,638.7 L1667.7,654.3 L1650.3,654.3 Z" fill="#9BDF1F"/>
<path d="M1694.1,614.4 L1702.8,630.0 L1685.4,630.0 Z" fill="#9BDF1F"/>
<path d="M1729.2,640.3 L1737.9,655.9 L1720.5,655.9 Z" fill="#9BDF1F"/>
<path d="M1764.3,650.0 L1773.0,665.6 L1755.6,665.6 Z" fill="#9BDF1F"/>
<path d="M1820.5,708.4 L1829.2,724.0 L1811.8,724.0 Z" fill="#9BDF1F"/>
<polyline points="1517.5,630.3 1521.3,630.3 1525.1,630.3 1529.0,630.3 1532.8,630.3 1536.6,630.3 1540.5,630.3 1544.3,630.3 1548.2,630.3 1552.0,630.3 1555.8,630.3 1559.7,630.3 1563.5,630.3 1567.3,630.3 1571.2,630.3 1575.0,630.3 1578.8,630.3 1582.7,630.3 1586.5,630.3 1590.4,630.3 1594.2,630.3 1598.0,630.3 1601.9,630.3 1605.7,630.3 1609.5,630.3 1613.4,630.3 1617.2,630.3 1621.0,630.3 1624.9,630.4 1628.7,630.4 1632.5,630.4 1636.4,630.4 1640.2,630.4 1644.1,630.5 1647.9,630.5 1651.7,630.5 1655.6,630.6 1659.4,630.7 1663.2,630.7 1667.1,630.8 1670.9,630.9 1674.7,631.1 1678.6,631.2 1682.4,631.4 1686.2,631.6 1690.1,631.9 1693.9,632.2 1697.8,632.6 1701.6,633.0 1705.4,633.5 1709.3,634.1 1713.1,634.8 1716.9,635.7 1720.8,636.7 1724.6,637.8 1728.4,639.1 1732.3,640.7 1736.1,642.4 1739.9,644.4 1743.8,646.6 1747.6,649.0 1751.5,651.7 1755.3,654.6 1759.1,657.7 1763.0,660.9 1766.8,664.3 1770.6,667.7 1774.5,671.2 1778.3,674.6 1782.1,677.9 1786.0,681.0 1789.8,684.0 1793.6,686.8 1797.5,689.3 1801.3,691.6 1805.2,693.6 1809.0,695.5 1812.8,697.1 1816.7,698.5 1820.5,699.7" fill="none" stroke="#FFD932" stroke-width="1.65"/>
<path d="M1517.5,636.8 V643.3 M1508.3,636.8 h18.4 M1508.3,643.3 h18.4" stroke="#FFD932" stroke-width="1.55" fill="none"/>
<path d="M1553.7,631.9 V644.9 M1544.5,631.9 h18.4 M1544.5,644.9 h18.4" stroke="#FFD932" stroke-width="1.55" fill="none"/>
<path d="M1588.8,638.4 V644.9 M1579.6,638.4 h18.4 M1579.6,644.9 h18.4" stroke="#FFD932" stroke-width="1.55" fill="none"/>
<path d="M1623.9,612.4 V631.9 M1614.7,612.4 h18.4 M1614.7,631.9 h18.4" stroke="#FFD932" stroke-width="1.55" fill="none"/>
<path d="M1659.0,612.4 V631.9 M1649.8,612.4 h18.4 M1649.8,631.9 h18.4" stroke="#FFD932" stroke-width="1.55" fill="none"/>
<path d="M1694.1,618.9 V631.9 M1684.9,618.9 h18.4 M1684.9,631.9 h18.4" stroke="#FFD932" stroke-width="1.55" fill="none"/>
<path d="M1729.2,636.8 V649.7 M1720.0,636.8 h18.4 M1720.0,649.7 h18.4" stroke="#FFD932" stroke-width="1.55" fill="none"/>
<path d="M1764.3,657.8 V677.3 M1755.1,657.8 h18.4 M1755.1,677.3 h18.4" stroke="#FFD932" stroke-width="1.55" fill="none"/>
<path d="M1820.5,698.4 V708.1 M1811.3,698.4 h18.4 M1811.3,708.1 h18.4" stroke="#FFD932" stroke-width="1.55" fill="none"/>
<path d="M1517.5,632.2 L1526.2,647.8 L1508.8,647.8 Z" fill="#FFD932"/>
<path d="M1553.7,630.6 L1562.4,646.2 L1545.0,646.2 Z" fill="#FFD932"/>
<path d="M1588.8,633.8 L1597.5,649.4 L1580.1,649.4 Z" fill="#FFD932"/>
<path d="M1623.9,614.4 L1632.6,630.0 L1615.2,630.0 Z" fill="#FFD932"/>
<path d="M1659.0,614.4 L1667.7,630.0 L1650.3,630.0 Z" fill="#FFD932"/>
<path d="M1694.1,617.6 L1702.8,633.2 L1685.4,633.2 Z" fill="#FFD932"/>
<path d="M1729.2,635.5 L1737.9,651.1 L1720.5,651.1 Z" fill="#FFD932"/>
<path d="M1764.3,659.8 L1773.0,675.4 L1755.6,675.4 Z" fill="#FFD932"/>
<path d="M1820.5,695.4 L1829.2,711.0 L1811.8,711.0 Z" fill="#FFD932"/>
<path d="M1517.5,631.9 V638.4 M1508.3,631.9 h18.4 M1508.3,638.4 h18.4" stroke="#FF9300" stroke-width="1.55" fill="none"/>
<path d="M1553.7,638.4 V651.4 M1544.5,638.4 h18.4 M1544.5,651.4 h18.4" stroke="#FF9300" stroke-width="1.55" fill="none"/>
<path d="M1588.8,622.2 V628.7 M1579.6,622.2 h18.4 M1579.6,628.7 h18.4" stroke="#FF9300" stroke-width="1.55" fill="none"/>
<path d="M1623.9,627.0 V640.0 M1614.7,627.0 h18.4 M1614.7,640.0 h18.4" stroke="#FF9300" stroke-width="1.55" fill="none"/>
<path d="M1659.0,618.9 V631.9 M1649.8,618.9 h18.4 M1649.8,631.9 h18.4" stroke="#FF9300" stroke-width="1.55" fill="none"/>
<path d="M1694.1,586.5 V599.5 M1684.9,586.5 h18.4 M1684.9,599.5 h18.4" stroke="#FF9300" stroke-width="1.55" fill="none"/>
<path d="M1729.2,581.6 V588.1 M1720.0,581.6 h18.4 M1720.0,588.1 h18.4" stroke="#FF9300" stroke-width="1.55" fill="none"/>
<path d="M1764.3,615.7 V635.1 M1755.1,615.7 h18.4 M1755.1,635.1 h18.4" stroke="#FF9300" stroke-width="1.55" fill="none"/>
<path d="M1820.5,643.3 V678.9 M1811.3,643.3 h18.4 M1811.3,678.9 h18.4" stroke="#FF9300" stroke-width="1.55" fill="none"/>
<path d="M1517.5,627.3 L1526.2,642.9 L1508.8,642.9 Z" fill="#FF9300"/>
<path d="M1553.7,637.1 L1562.4,652.7 L1545.0,652.7 Z" fill="#FF9300"/>
<path d="M1588.8,617.6 L1597.5,633.2 L1580.1,633.2 Z" fill="#FF9300"/>
<path d="M1623.9,625.7 L1632.6,641.3 L1615.2,641.3 Z" fill="#FF9300"/>
<path d="M1659.0,617.6 L1667.7,633.2 L1650.3,633.2 Z" fill="#FF9300"/>
<path d="M1694.1,585.2 L1702.8,600.8 L1685.4,600.8 Z" fill="#FF9300"/>
<path d="M1729.2,577.1 L1737.9,592.7 L1720.5,592.7 Z" fill="#FF9300"/>
<path d="M1764.3,617.6 L1773.0,633.2 L1755.6,633.2 Z" fill="#FF9300"/>
<path d="M1820.5,653.3 L1829.2,668.9 L1811.8,668.9 Z" fill="#FF9300"/>
<polyline points="1517.5,607.6 1521.3,607.6 1525.1,607.6 1529.0,607.6 1532.8,607.6 1536.6,607.6 1540.5,607.6 1544.3,607.6 1548.2,607.6 1552.0,607.6 1555.8,607.6 1559.7,607.6 1563.5,607.6 1567.3,607.6 1571.2,607.6 1575.0,607.6 1578.8,607.6 1582.7,607.6 1586.5,607.6 1590.4,607.6 1594.2,607.6 1598.0,607.6 1601.9,607.6 1605.7,607.6 1609.5,607.6 1613.4,607.6 1617.2,607.6 1621.0,607.7 1624.9,607.7 1628.7,607.7 1632.5,607.7 1636.4,607.8 1640.2,607.8 1644.1,607.8 1647.9,607.9 1651.7,608.0 1655.6,608.0 1659.4,608.1 1663.2,608.3 1667.1,608.4 1670.9,608.6 1674.7,608.8 1678.6,609.1 1682.4,609.4 1686.2,609.8 1690.1,610.2 1693.9,610.8 1697.8,611.5 1701.6,612.3 1705.4,613.3 1709.3,614.5 1713.1,615.9 1716.9,617.7 1720.8,619.7 1724.6,622.1 1728.4,624.9 1732.3,628.2 1736.1,632.0 1739.9,636.3 1743.8,641.3 1747.6,646.8 1751.5,653.0 1755.3,659.7 1759.1,666.9 1763.0,674.5 1766.8,682.4 1770.6,690.4 1774.5,698.4 1778.3,706.2 1782.1,713.7 1786.0,720.8 1789.8,727.4 1793.6,733.5 1797.5,738.9 1801.3,743.7 1805.2,747.9 1809.0,751.6 1812.8,754.7 1816.7,757.5 1820.5,759.8" fill="none" stroke="#FF2600" stroke-width="1.65"/>
<path d="M1517.5,625.4 V631.9 M1508.3,625.4 h18.4 M1508.3,631.9 h18.4" stroke="#FF2600" stroke-width="1.55" fill="none"/>
<path d="M1553.7,607.6 V643.3 M1544.5,607.6 h18.4 M1544.5,643.3 h18.4" stroke="#FF2600" stroke-width="1.55" fill="none"/>
<path d="M1588.8,591.4 V597.8 M1579.6,591.4 h18.4 M1579.6,597.8 h18.4" stroke="#FF2600" stroke-width="1.55" fill="none"/>
<path d="M1623.9,594.6 V601.1 M1614.7,594.6 h18.4 M1614.7,601.1 h18.4" stroke="#FF2600" stroke-width="1.55" fill="none"/>
<path d="M1659.0,610.8 V617.3 M1649.8,610.8 h18.4 M1649.8,617.3 h18.4" stroke="#FF2600" stroke-width="1.55" fill="none"/>
<path d="M1694.1,596.2 V602.7 M1684.9,596.2 h18.4 M1684.9,602.7 h18.4" stroke="#FF2600" stroke-width="1.55" fill="none"/>
<path d="M1729.2,617.3 V640.0 M1720.0,617.3 h18.4 M1720.0,640.0 h18.4" stroke="#FF2600" stroke-width="1.55" fill="none"/>
<path d="M1764.3,666.0 V701.6 M1755.1,666.0 h18.4 M1755.1,701.6 h18.4" stroke="#FF2600" stroke-width="1.55" fill="none"/>
<path d="M1820.5,737.3 V785.9 M1811.3,737.3 h18.4 M1811.3,785.9 h18.4" stroke="#FF2600" stroke-width="1.55" fill="none"/>
<path d="M1517.5,620.9 L1526.2,636.5 L1508.8,636.5 Z" fill="#FF2600"/>
<path d="M1553.7,617.6 L1562.4,633.2 L1545.0,633.2 Z" fill="#FF2600"/>
<path d="M1588.8,586.8 L1597.5,602.4 L1580.1,602.4 Z" fill="#FF2600"/>
<path d="M1623.9,590.0 L1632.6,605.6 L1615.2,605.6 Z" fill="#FF2600"/>
<path d="M1659.0,606.3 L1667.7,621.9 L1650.3,621.9 Z" fill="#FF2600"/>
<path d="M1694.1,591.7 L1702.8,607.3 L1685.4,607.3 Z" fill="#FF2600"/>
<path d="M1729.2,620.9 L1737.9,636.5 L1720.5,636.5 Z" fill="#FF2600"/>
<path d="M1764.3,676.0 L1773.0,691.6 L1755.6,691.6 Z" fill="#FF2600"/>
<path d="M1820.5,753.8 L1829.2,769.4 L1811.8,769.4 Z" fill="#FF2600"/>
<polyline points="1517.5,625.7 1521.3,625.7 1525.1,625.8 1529.0,625.9 1532.8,626.0 1536.6,626.1 1540.5,626.2 1544.3,626.3 1548.2,626.5 1552.0,626.7 1555.8,626.9 1559.7,627.2 1563.5,627.5 1567.3,627.8 1571.2,628.2 1575.0,628.7 1578.8,629.3 1582.7,629.9 1586.5,630.7 1590.4,631.5 1594.2,632.6 1598.0,633.7 1601.9,635.1 1605.7,636.7 1609.5,638.5 1613.4,640.5 1617.2,642.9 1621.0,645.7 1624.9,648.8 1628.7,652.4 1632.5,656.4 1636.4,661.0 1640.2,666.1 1644.1,671.9 1647.9,678.3 1651.7,685.4 1655.6,693.1 1659.4,701.6 1663.2,710.7 1667.1,720.4 1670.9,730.6 1674.7,741.4 1678.6,752.5 1682.4,763.9 1686.2,775.4 1690.1,786.9 1693.9,798.2 1697.8,809.3 1701.6,819.9 1705.4,830.1 1709.3,839.7 1713.1,848.7 1716.9,857.0 1720.8,864.6 1724.6,871.5 1728.4,877.8 1732.3,883.4 1736.1,888.5 1739.9,893.0 1743.8,896.9 1747.6,900.4 1751.5,903.4 1755.3,906.1 1759.1,908.4 1763.0,910.5 1766.8,912.2 1770.6,913.8 1774.5,915.1 1778.3,916.2 1782.1,917.2 1786.0,918.0 1789.8,918.8 1793.6,919.4 1797.5,919.9 1801.3,920.4 1805.2,920.8 1809.0,921.2 1812.8,921.5 1816.7,921.7 1820.5,921.9" fill="none" stroke="#000000" stroke-width="1.65"/>
<path d="M1623.9,645.2 V664.7 M1614.7,645.2 h18.4 M1614.7,664.7 h18.4" stroke="#000000" stroke-width="1.55" fill="none"/>
<path d="M1659.0,682.5 V706.5 M1649.8,682.5 h18.4 M1649.8,706.5 h18.4" stroke="#000000" stroke-width="1.55" fill="none"/>
<path d="M1694.1,791.1 V812.5 M1684.9,791.1 h18.4 M1684.9,812.5 h18.4" stroke="#000000" stroke-width="1.55" fill="none"/>
<circle cx="1517.5" cy="621.2" r="7.8" fill="#000"/>
<circle cx="1553.7" cy="626.1" r="7.8" fill="#000"/>
<circle cx="1588.8" cy="633.5" r="7.8" fill="#000"/>
<circle cx="1623.9" cy="654.9" r="7.8" fill="#000"/>
<circle cx="1659.0" cy="694.5" r="7.8" fill="#000"/>
<circle cx="1694.1" cy="801.8" r="7.8" fill="#000"/>
<circle cx="1729.2" cy="879.0" r="7.8" fill="#000"/>
<circle cx="1764.3" cy="909.5" r="7.8" fill="#000"/>
<circle cx="1820.5" cy="922.8" r="7.8" fill="#000"/>
<line x1="1879.3" y1="592.9" x2="1903.1000000000001" y2="592.9" stroke="#000000" stroke-width="1.5"/>
<circle cx="1891.2" cy="592.9" r="9.4" fill="#000"/>
<text transform="translate(1916.0,602.6) scale(1,1.06)" font-size="25.3" fill="#000">WT</text>
<line x1="1879.3" y1="624.4" x2="1903.1000000000001" y2="624.4" stroke="#FF2600" stroke-width="1.5"/>
<path d="M1891.2,612.3 L1902.0,633.8 L1880.5,633.8 Z" fill="#FF2600"/>
<text transform="translate(1916.0,634.1) scale(1,1.06)" font-size="25.3" fill="#000">Y62A</text>
<line x1="1879.3" y1="655.9" x2="1903.1000000000001" y2="655.9" stroke="#FF9300" stroke-width="1.5"/>
<path d="M1891.2,643.8 L1902.0,665.3 L1880.5,665.3 Z" fill="#FF9300"/>
<text transform="translate(1916.0,665.6) scale(1,1.06)" font-size="25.3" fill="#000">G75R</text>
<line x1="1879.3" y1="687.4" x2="1903.1000000000001" y2="687.4" stroke="#FFD932" stroke-width="1.5"/>
<path d="M1891.2,675.3 L1902.0,696.8 L1880.5,696.8 Z" fill="#FFD932"/>
<text transform="translate(1916.0,697.1) scale(1,1.06)" font-size="25.3" fill="#000">L77A</text>
<line x1="1879.3" y1="718.9" x2="1903.1000000000001" y2="718.9" stroke="#9BDF1F" stroke-width="1.5"/>
<path d="M1891.2,706.8 L1902.0,728.3 L1880.5,728.3 Z" fill="#9BDF1F"/>
<text transform="translate(1916.0,728.6) scale(1,1.06)" font-size="25.3" fill="#000">D80A</text>
<line x1="1879.3" y1="750.4" x2="1903.1000000000001" y2="750.4" stroke="#00D816" stroke-width="1.5"/>
<path d="M1891.2,738.3 L1902.0,759.8 L1880.5,759.8 Z" fill="#00D816"/>
<text transform="translate(1916.0,760.1) scale(1,1.06)" font-size="25.3" fill="#000">Y81A</text>
<line x1="1879.3" y1="781.9" x2="1903.1000000000001" y2="781.9" stroke="#16C8FB" stroke-width="1.5"/>
<path d="M1891.2,769.8 L1902.0,791.3 L1880.5,791.3 Z" fill="#16C8FB"/>
<text transform="translate(1916.0,791.6) scale(1,1.06)" font-size="25.3" fill="#000">G82R</text>
<line x1="1879.3" y1="813.4" x2="1903.1000000000001" y2="813.4" stroke="#0A96FF" stroke-width="1.5"/>
<path d="M1891.2,801.3 L1902.0,822.8 L1880.5,822.8 Z" fill="#0A96FF"/>
<text transform="translate(1916.0,823.1) scale(1,1.06)" font-size="25.3" fill="#000">F83A</text>
<line x1="1879.3" y1="844.9" x2="1903.1000000000001" y2="844.9" stroke="#0432FF" stroke-width="1.5"/>
<path d="M1891.2,832.8 L1902.0,854.3 L1880.5,854.3 Z" fill="#0432FF"/>
<text transform="translate(1916.0,854.6) scale(1,1.06)" font-size="25.3" fill="#000">P84A</text>
<line x1="1879.3" y1="876.4" x2="1903.1000000000001" y2="876.4" stroke="#9A3CFF" stroke-width="1.5"/>
<path d="M1891.2,864.3 L1902.0,885.8 L1880.5,885.8 Z" fill="#9A3CFF"/>
<text transform="translate(1916.0,886.1) scale(1,1.06)" font-size="25.3" fill="#000">D85R</text>
<line x1="1879.3" y1="907.9" x2="1903.1000000000001" y2="907.9" stroke="#521B93" stroke-width="1.5"/>
<path d="M1891.2,895.8 L1902.0,917.3 L1880.5,917.3 Z" fill="#521B93"/>
<text transform="translate(1916.0,917.6) scale(1,1.06)" font-size="25.3" fill="#000">Y90A</text>
<line x1="1879.3" y1="939.4" x2="1903.1000000000001" y2="939.4" stroke="#AAAAAA" stroke-width="1.5"/>
<path d="M1891.2,927.3 L1902.0,948.8 L1880.5,948.8 Z" fill="#AAAAAA"/>
<text transform="translate(1916.0,949.1) scale(1,1.06)" font-size="25.3" fill="#000">I140A</text>
<line x1="1879.3" y1="970.9" x2="1903.1000000000001" y2="970.9" stroke="#B5694F" stroke-width="1.5"/>
<path d="M1891.2,958.8 L1902.0,980.3 L1880.5,980.3 Z" fill="#B5694F"/>
<text transform="translate(1916.0,980.6) scale(1,1.06)" font-size="25.3" fill="#000">L152A</text>
<text transform="translate(0.8,501.0) scale(1,1.06)" font-size="41.5" font-weight="bold" fill="#000">b</text>
<g shape-rendering="crispEdges">
<rect x="94.70" y="1245.20" width="51.55" height="38.27" fill="#3C74BE"/>
<rect x="94.70" y="1282.87" width="51.55" height="38.27" fill="#698DC4"/>
<rect x="94.70" y="1320.54" width="51.55" height="38.27" fill="#A9B8D3"/>
<rect x="94.70" y="1358.21" width="51.55" height="38.27" fill="#F5F3F2"/>
<rect x="94.70" y="1395.88" width="51.55" height="38.27" fill="#E6C1C0"/>
<rect x="94.70" y="1433.55" width="51.55" height="38.27" fill="#D59997"/>
<rect x="94.70" y="1471.22" width="51.55" height="38.27" fill="#CB8181"/>
<rect x="94.70" y="1508.89" width="51.55" height="38.27" fill="#C67476"/>
<rect x="94.70" y="1546.56" width="51.55" height="38.27" fill="#C36F6F"/>
<rect x="94.70" y="1584.23" width="51.55" height="38.27" fill="#C26C6C"/>
<rect x="145.65" y="1245.20" width="51.55" height="38.27" fill="#4274BC"/>
<rect x="145.65" y="1282.87" width="51.55" height="38.27" fill="#7896C4"/>
<rect x="145.65" y="1320.54" width="51.55" height="38.27" fill="#B8C2D6"/>
<rect x="145.65" y="1358.21" width="51.55" height="38.27" fill="#F8F4F3"/>
<rect x="145.65" y="1395.88" width="51.55" height="38.27" fill="#E8C5C4"/>
<rect x="145.65" y="1433.55" width="51.55" height="38.27" fill="#D79E9D"/>
<rect x="145.65" y="1471.22" width="51.55" height="38.27" fill="#CC8585"/>
<rect x="145.65" y="1508.89" width="51.55" height="38.27" fill="#C67577"/>
<rect x="145.65" y="1546.56" width="51.55" height="38.27" fill="#C26D6D"/>
<rect x="145.65" y="1584.23" width="51.55" height="38.27" fill="#BF6969"/>
<rect x="196.60" y="1245.20" width="51.55" height="38.27" fill="#4677BD"/>
<rect x="196.60" y="1282.87" width="51.55" height="38.27" fill="#5B84BF"/>
<rect x="196.60" y="1320.54" width="51.55" height="38.27" fill="#92A5C9"/>
<rect x="196.60" y="1358.21" width="51.55" height="38.27" fill="#EAE9EE"/>
<rect x="196.60" y="1395.88" width="51.55" height="38.27" fill="#E2B9B8"/>
<rect x="196.60" y="1433.55" width="51.55" height="38.27" fill="#D29291"/>
<rect x="196.60" y="1471.22" width="51.55" height="38.27" fill="#CA8282"/>
<rect x="196.60" y="1508.89" width="51.55" height="38.27" fill="#C98081"/>
<rect x="196.60" y="1546.56" width="51.55" height="38.27" fill="#C77F7F"/>
<rect x="196.60" y="1584.23" width="51.55" height="38.27" fill="#C77F7F"/>
<rect x="247.55" y="1245.20" width="51.55" height="38.27" fill="#4475BC"/>
<rect x="247.55" y="1282.87" width="51.55" height="38.27" fill="#5A83BE"/>
<rect x="247.55" y="1320.54" width="51.55" height="38.27" fill="#8AA0C7"/>
<rect x="247.55" y="1358.21" width="51.55" height="38.27" fill="#D3D7E2"/>
<rect x="247.55" y="1395.88" width="51.55" height="38.27" fill="#EED7D7"/>
<rect x="247.55" y="1433.55" width="51.55" height="38.27" fill="#D89E9D"/>
<rect x="247.55" y="1471.22" width="51.55" height="38.27" fill="#C97F80"/>
<rect x="247.55" y="1508.89" width="51.55" height="38.27" fill="#C27370"/>
<rect x="247.55" y="1546.56" width="51.55" height="38.27" fill="#C16E6D"/>
<rect x="247.55" y="1584.23" width="51.55" height="38.27" fill="#C06C6B"/>
<rect x="298.50" y="1245.20" width="51.55" height="38.27" fill="#2F6DBC"/>
<rect x="298.50" y="1282.87" width="51.55" height="38.27" fill="#4978BD"/>
<rect x="298.50" y="1320.54" width="51.55" height="38.27" fill="#7694C2"/>
<rect x="298.50" y="1358.21" width="51.55" height="38.27" fill="#C2C9DA"/>
<rect x="298.50" y="1395.88" width="51.55" height="38.27" fill="#F4E2E2"/>
<rect x="298.50" y="1433.55" width="51.55" height="38.27" fill="#DAA4A3"/>
<rect x="298.50" y="1471.22" width="51.55" height="38.27" fill="#CD8585"/>
<rect x="298.50" y="1508.89" width="51.55" height="38.27" fill="#C67878"/>
<rect x="298.50" y="1546.56" width="51.55" height="38.27" fill="#C57573"/>
<rect x="298.50" y="1584.23" width="51.55" height="38.27" fill="#C47370"/>
<rect x="349.45" y="1245.20" width="51.55" height="38.27" fill="#2C6DBD"/>
<rect x="349.45" y="1282.87" width="51.55" height="38.27" fill="#5080BE"/>
<rect x="349.45" y="1320.54" width="51.55" height="38.27" fill="#8BA3CA"/>
<rect x="349.45" y="1358.21" width="51.55" height="38.27" fill="#D3D8E3"/>
<rect x="349.45" y="1395.88" width="51.55" height="38.27" fill="#F4E2E2"/>
<rect x="349.45" y="1433.55" width="51.55" height="38.27" fill="#DEB4B3"/>
<rect x="349.45" y="1471.22" width="51.55" height="38.27" fill="#D7A09F"/>
<rect x="349.45" y="1508.89" width="51.55" height="38.27" fill="#D39996"/>
<rect x="349.45" y="1546.56" width="51.55" height="38.27" fill="#D39593"/>
<rect x="349.45" y="1584.23" width="51.55" height="38.27" fill="#D29391"/>
<rect x="400.40" y="1245.20" width="51.55" height="38.27" fill="#2C6CBC"/>
<rect x="400.40" y="1282.87" width="51.55" height="38.27" fill="#4A7ABE"/>
<rect x="400.40" y="1320.54" width="51.55" height="38.27" fill="#7B97C3"/>
<rect x="400.40" y="1358.21" width="51.55" height="38.27" fill="#BFC9DB"/>
<rect x="400.40" y="1395.88" width="51.55" height="38.27" fill="#F9EEED"/>
<rect x="400.40" y="1433.55" width="51.55" height="38.27" fill="#E1B8B7"/>
<rect x="400.40" y="1471.22" width="51.55" height="38.27" fill="#D59D9C"/>
<rect x="400.40" y="1508.89" width="51.55" height="38.27" fill="#D2918F"/>
<rect x="400.40" y="1546.56" width="51.55" height="38.27" fill="#D08B8A"/>
<rect x="400.40" y="1584.23" width="51.55" height="38.27" fill="#CE8988"/>
<rect x="451.35" y="1245.20" width="51.55" height="38.27" fill="#2567BD"/>
<rect x="451.35" y="1282.87" width="51.55" height="38.27" fill="#4777BA"/>
<rect x="451.35" y="1320.54" width="51.55" height="38.27" fill="#7E98C3"/>
<rect x="451.35" y="1358.21" width="51.55" height="38.27" fill="#D0D5E1"/>
<rect x="451.35" y="1395.88" width="51.55" height="38.27" fill="#EFDADA"/>
<rect x="451.35" y="1433.55" width="51.55" height="38.27" fill="#DBA8A7"/>
<rect x="451.35" y="1471.22" width="51.55" height="38.27" fill="#D39291"/>
<rect x="451.35" y="1508.89" width="51.55" height="38.27" fill="#CF8B89"/>
<rect x="451.35" y="1546.56" width="51.55" height="38.27" fill="#CD8785"/>
<rect x="451.35" y="1584.23" width="51.55" height="38.27" fill="#CC8583"/>
<rect x="502.30" y="1245.20" width="51.55" height="38.27" fill="#4A7CBE"/>
<rect x="502.30" y="1282.87" width="51.55" height="38.27" fill="#7A98C5"/>
<rect x="502.30" y="1320.54" width="51.55" height="38.27" fill="#AEBCD3"/>
<rect x="502.30" y="1358.21" width="51.55" height="38.27" fill="#E9E8ED"/>
<rect x="502.30" y="1395.88" width="51.55" height="38.27" fill="#F1DFDE"/>
<rect x="502.30" y="1433.55" width="51.55" height="38.27" fill="#E0B8B7"/>
<rect x="502.30" y="1471.22" width="51.55" height="38.27" fill="#D6A2A1"/>
<rect x="502.30" y="1508.89" width="51.55" height="38.27" fill="#D0918F"/>
<rect x="502.30" y="1546.56" width="51.55" height="38.27" fill="#CC8887"/>
<rect x="502.30" y="1584.23" width="51.55" height="38.27" fill="#CB8685"/>
<rect x="553.25" y="1245.20" width="51.55" height="38.27" fill="#3F77C0"/>
<rect x="553.25" y="1282.87" width="51.55" height="38.27" fill="#688DC4"/>
<rect x="553.25" y="1320.54" width="51.55" height="38.27" fill="#A5B7D0"/>
<rect x="553.25" y="1358.21" width="51.55" height="38.27" fill="#E9E8EC"/>
<rect x="553.25" y="1395.88" width="51.55" height="38.27" fill="#F0DDDC"/>
<rect x="553.25" y="1433.55" width="51.55" height="38.27" fill="#E1B9B8"/>
<rect x="553.25" y="1471.22" width="51.55" height="38.27" fill="#D8A6A5"/>
<rect x="553.25" y="1508.89" width="51.55" height="38.27" fill="#D69E9C"/>
<rect x="553.25" y="1546.56" width="51.55" height="38.27" fill="#D39A98"/>
<rect x="553.25" y="1584.23" width="51.55" height="38.27" fill="#D39795"/>
<rect x="604.20" y="1245.20" width="51.55" height="38.27" fill="#5F86C0"/>
<rect x="604.20" y="1282.87" width="51.55" height="38.27" fill="#859CC6"/>
<rect x="604.20" y="1320.54" width="51.55" height="38.27" fill="#BBC4D7"/>
<rect x="604.20" y="1358.21" width="51.55" height="38.27" fill="#F8F2F1"/>
<rect x="604.20" y="1395.88" width="51.55" height="38.27" fill="#DFB2B1"/>
<rect x="604.20" y="1433.55" width="51.55" height="38.27" fill="#CC8685"/>
<rect x="604.20" y="1471.22" width="51.55" height="38.27" fill="#BF6A68"/>
<rect x="604.20" y="1508.89" width="51.55" height="38.27" fill="#B95A59"/>
<rect x="604.20" y="1546.56" width="51.55" height="38.27" fill="#B55655"/>
<rect x="604.20" y="1584.23" width="51.55" height="38.27" fill="#B44F50"/>
<rect x="655.15" y="1245.20" width="51.55" height="38.27" fill="#6187C0"/>
<rect x="655.15" y="1282.87" width="51.55" height="38.27" fill="#849CC4"/>
<rect x="655.15" y="1320.54" width="51.55" height="38.27" fill="#C6CCDB"/>
<rect x="655.15" y="1358.21" width="51.55" height="38.27" fill="#F4E3E1"/>
<rect x="655.15" y="1395.88" width="51.55" height="38.27" fill="#DAA6A4"/>
<rect x="655.15" y="1433.55" width="51.55" height="38.27" fill="#CE8A89"/>
<rect x="655.15" y="1471.22" width="51.55" height="38.27" fill="#C87F7E"/>
<rect x="655.15" y="1508.89" width="51.55" height="38.27" fill="#C57A79"/>
<rect x="655.15" y="1546.56" width="51.55" height="38.27" fill="#C67878"/>
<rect x="655.15" y="1584.23" width="51.55" height="38.27" fill="#C57775"/>
<rect x="706.10" y="1245.20" width="51.55" height="38.27" fill="#88A0C6"/>
<rect x="706.10" y="1282.87" width="51.55" height="38.27" fill="#C8CDDB"/>
<rect x="706.10" y="1320.54" width="51.55" height="38.27" fill="#F4E6E4"/>
<rect x="706.10" y="1358.21" width="51.55" height="38.27" fill="#DCAFAC"/>
<rect x="706.10" y="1395.88" width="51.55" height="38.27" fill="#D29290"/>
<rect x="706.10" y="1433.55" width="51.55" height="38.27" fill="#CD8786"/>
<rect x="706.10" y="1471.22" width="51.55" height="38.27" fill="#CB8180"/>
<rect x="706.10" y="1508.89" width="51.55" height="38.27" fill="#C98080"/>
<rect x="706.10" y="1546.56" width="51.55" height="38.27" fill="#C98080"/>
<rect x="706.10" y="1584.23" width="51.55" height="38.27" fill="#C98080"/>
<rect x="757.05" y="1245.20" width="51.55" height="38.27" fill="#809AC3"/>
<rect x="757.05" y="1282.87" width="51.55" height="38.27" fill="#B0BBD3"/>
<rect x="757.05" y="1320.54" width="51.55" height="38.27" fill="#F8F4F3"/>
<rect x="757.05" y="1358.21" width="51.55" height="38.27" fill="#E2BAB8"/>
<rect x="757.05" y="1395.88" width="51.55" height="38.27" fill="#D39392"/>
<rect x="757.05" y="1433.55" width="51.55" height="38.27" fill="#C9807F"/>
<rect x="757.05" y="1471.22" width="51.55" height="38.27" fill="#C6797A"/>
<rect x="757.05" y="1508.89" width="51.55" height="38.27" fill="#C57878"/>
<rect x="757.05" y="1546.56" width="51.55" height="38.27" fill="#C57777"/>
<rect x="757.05" y="1584.23" width="51.55" height="38.27" fill="#C57777"/>
<rect x="808.00" y="1245.20" width="51.55" height="38.27" fill="#5D84BE"/>
<rect x="808.00" y="1282.87" width="51.55" height="38.27" fill="#AAB7D0"/>
<rect x="808.00" y="1320.54" width="51.55" height="38.27" fill="#FAF1EF"/>
<rect x="808.00" y="1358.21" width="51.55" height="38.27" fill="#DFB6B4"/>
<rect x="808.00" y="1395.88" width="51.55" height="38.27" fill="#D59B99"/>
<rect x="808.00" y="1433.55" width="51.55" height="38.27" fill="#D3918F"/>
<rect x="808.00" y="1471.22" width="51.55" height="38.27" fill="#D08F8D"/>
<rect x="808.00" y="1508.89" width="51.55" height="38.27" fill="#D08C8B"/>
<rect x="808.00" y="1546.56" width="51.55" height="38.27" fill="#D08C8B"/>
<rect x="808.00" y="1584.23" width="51.55" height="38.27" fill="#D08C8B"/>
<rect x="858.95" y="1245.20" width="51.55" height="38.27" fill="#688CC2"/>
<rect x="858.95" y="1282.87" width="51.55" height="38.27" fill="#AAB8D0"/>
<rect x="858.95" y="1320.54" width="51.55" height="38.27" fill="#F6F2F2"/>
<rect x="858.95" y="1358.21" width="51.55" height="38.27" fill="#E5C4C2"/>
<rect x="858.95" y="1395.88" width="51.55" height="38.27" fill="#DAA6A4"/>
<rect x="858.95" y="1433.55" width="51.55" height="38.27" fill="#D49A97"/>
<rect x="858.95" y="1471.22" width="51.55" height="38.27" fill="#D2918F"/>
<rect x="858.95" y="1508.89" width="51.55" height="38.27" fill="#D08E8C"/>
<rect x="858.95" y="1546.56" width="51.55" height="38.27" fill="#D08E8C"/>
<rect x="858.95" y="1584.23" width="51.55" height="38.27" fill="#D08E8C"/>
<rect x="909.90" y="1245.20" width="51.55" height="38.27" fill="#87A0C6"/>
<rect x="909.90" y="1282.87" width="51.55" height="38.27" fill="#CACEDB"/>
<rect x="909.90" y="1320.54" width="51.55" height="38.27" fill="#F2DDDB"/>
<rect x="909.90" y="1358.21" width="51.55" height="38.27" fill="#DDAFAC"/>
<rect x="909.90" y="1395.88" width="51.55" height="38.27" fill="#D79E9C"/>
<rect x="909.90" y="1433.55" width="51.55" height="38.27" fill="#D59493"/>
<rect x="909.90" y="1471.22" width="51.55" height="38.27" fill="#D39291"/>
<rect x="909.90" y="1508.89" width="51.55" height="38.27" fill="#D3918F"/>
<rect x="909.90" y="1546.56" width="51.55" height="38.27" fill="#D3918F"/>
<rect x="909.90" y="1584.23" width="51.55" height="38.27" fill="#D3918F"/>
<rect x="960.85" y="1245.20" width="51.55" height="38.27" fill="#5E85BF"/>
<rect x="960.85" y="1282.87" width="51.55" height="38.27" fill="#C2C7D8"/>
<rect x="960.85" y="1320.54" width="51.55" height="38.27" fill="#E8C9C6"/>
<rect x="960.85" y="1358.21" width="51.55" height="38.27" fill="#D69B99"/>
<rect x="960.85" y="1395.88" width="51.55" height="38.27" fill="#CF8D8B"/>
<rect x="960.85" y="1433.55" width="51.55" height="38.27" fill="#CF8988"/>
<rect x="960.85" y="1471.22" width="51.55" height="38.27" fill="#CF8A89"/>
<rect x="960.85" y="1508.89" width="51.55" height="38.27" fill="#CF8A89"/>
<rect x="960.85" y="1546.56" width="51.55" height="38.27" fill="#CF8A89"/>
<rect x="960.85" y="1584.23" width="51.55" height="38.27" fill="#CF8A89"/>
<rect x="1011.80" y="1245.20" width="48.70" height="38.27" fill="#8FA6CA"/>
<rect x="1011.80" y="1282.87" width="48.70" height="38.27" fill="#B7C1D5"/>
<rect x="1011.80" y="1320.54" width="48.70" height="38.27" fill="#EDEDF0"/>
<rect x="1011.80" y="1358.21" width="48.70" height="38.27" fill="#EFDCDB"/>
<rect x="1011.80" y="1395.88" width="48.70" height="38.27" fill="#DFB4B3"/>
<rect x="1011.80" y="1433.55" width="48.70" height="38.27" fill="#D59E9C"/>
<rect x="1011.80" y="1471.22" width="48.70" height="38.27" fill="#CF908E"/>
<rect x="1011.80" y="1508.89" width="48.70" height="38.27" fill="#CC8886"/>
<rect x="1011.80" y="1546.56" width="48.70" height="38.27" fill="#CB8583"/>
<rect x="1011.80" y="1584.23" width="48.70" height="38.27" fill="#CB8583"/>
<rect x="1059.90" y="1245.20" width="51.64" height="38.27" fill="#C5CADA"/>
<rect x="1059.90" y="1282.87" width="51.64" height="38.27" fill="#F9F3F2"/>
<rect x="1059.90" y="1320.54" width="51.64" height="38.27" fill="#D9A29F"/>
<rect x="1059.90" y="1358.21" width="51.64" height="38.27" fill="#BD6463"/>
<rect x="1059.90" y="1395.88" width="51.64" height="38.27" fill="#AF4848"/>
<rect x="1059.90" y="1433.55" width="51.64" height="38.27" fill="#AA3C40"/>
<rect x="1059.90" y="1471.22" width="51.64" height="38.27" fill="#A9383D"/>
<rect x="1059.90" y="1508.89" width="51.64" height="38.27" fill="#A8363C"/>
<rect x="1059.90" y="1546.56" width="51.64" height="38.27" fill="#A8363C"/>
<rect x="1059.90" y="1584.23" width="51.64" height="38.27" fill="#A8363C"/>
<rect x="1110.94" y="1245.20" width="51.64" height="38.27" fill="#C3C9D9"/>
<rect x="1110.94" y="1282.87" width="51.64" height="38.27" fill="#F0DAD8"/>
<rect x="1110.94" y="1320.54" width="51.64" height="38.27" fill="#D4918F"/>
<rect x="1110.94" y="1358.21" width="51.64" height="38.27" fill="#C4716F"/>
<rect x="1110.94" y="1395.88" width="51.64" height="38.27" fill="#BE6564"/>
<rect x="1110.94" y="1433.55" width="51.64" height="38.27" fill="#BD6362"/>
<rect x="1110.94" y="1471.22" width="51.64" height="38.27" fill="#BC6362"/>
<rect x="1110.94" y="1508.89" width="51.64" height="38.27" fill="#BC6261"/>
<rect x="1110.94" y="1546.56" width="51.64" height="38.27" fill="#BC6261"/>
<rect x="1110.94" y="1584.23" width="51.64" height="38.27" fill="#BC6261"/>
<rect x="1161.98" y="1245.20" width="51.64" height="38.27" fill="#BFC8DA"/>
<rect x="1161.98" y="1282.87" width="51.64" height="38.27" fill="#FAF0EE"/>
<rect x="1161.98" y="1320.54" width="51.64" height="38.27" fill="#DEB0AD"/>
<rect x="1161.98" y="1358.21" width="51.64" height="38.27" fill="#D18E8C"/>
<rect x="1161.98" y="1395.88" width="51.64" height="38.27" fill="#CC8583"/>
<rect x="1161.98" y="1433.55" width="51.64" height="38.27" fill="#CB8381"/>
<rect x="1161.98" y="1471.22" width="51.64" height="38.27" fill="#C9817F"/>
<rect x="1161.98" y="1508.89" width="51.64" height="38.27" fill="#C9817F"/>
<rect x="1161.98" y="1546.56" width="51.64" height="38.27" fill="#C9817F"/>
<rect x="1161.98" y="1584.23" width="51.64" height="38.27" fill="#C9817F"/>
<rect x="1213.02" y="1245.20" width="51.64" height="38.27" fill="#B95B5B"/>
<rect x="1213.02" y="1282.87" width="51.64" height="38.27" fill="#AE4144"/>
<rect x="1213.02" y="1320.54" width="51.64" height="38.27" fill="#AB3C40"/>
<rect x="1213.02" y="1358.21" width="51.64" height="38.27" fill="#AB3C40"/>
<rect x="1213.02" y="1395.88" width="51.64" height="38.27" fill="#AB3C40"/>
<rect x="1213.02" y="1433.55" width="51.64" height="38.27" fill="#AB3C40"/>
<rect x="1213.02" y="1471.22" width="51.64" height="38.27" fill="#AB3C40"/>
<rect x="1213.02" y="1508.89" width="51.64" height="38.27" fill="#AB3C40"/>
<rect x="1213.02" y="1546.56" width="51.64" height="38.27" fill="#AB3C40"/>
<rect x="1213.02" y="1584.23" width="51.64" height="38.27" fill="#AB3C40"/>
<rect x="1264.06" y="1245.20" width="51.64" height="38.27" fill="#B95555"/>
<rect x="1264.06" y="1282.87" width="51.64" height="38.27" fill="#B85454"/>
<rect x="1264.06" y="1320.54" width="51.64" height="38.27" fill="#B75353"/>
<rect x="1264.06" y="1358.21" width="51.64" height="38.27" fill="#B75353"/>
<rect x="1264.06" y="1395.88" width="51.64" height="38.27" fill="#B75353"/>
<rect x="1264.06" y="1433.55" width="51.64" height="38.27" fill="#B75353"/>
<rect x="1264.06" y="1471.22" width="51.64" height="38.27" fill="#B75353"/>
<rect x="1264.06" y="1508.89" width="51.64" height="38.27" fill="#C06A69"/>
<rect x="1264.06" y="1546.56" width="51.64" height="38.27" fill="#C06A69"/>
<rect x="1264.06" y="1584.23" width="51.64" height="38.27" fill="#C06A69"/>
<rect x="1315.10" y="1245.20" width="51.64" height="38.27" fill="#C36B6A"/>
<rect x="1315.10" y="1282.87" width="51.64" height="38.27" fill="#C16A69"/>
<rect x="1315.10" y="1320.54" width="51.64" height="38.27" fill="#C06968"/>
<rect x="1315.10" y="1358.21" width="51.64" height="38.27" fill="#C06968"/>
<rect x="1315.10" y="1395.88" width="51.64" height="38.27" fill="#C57877"/>
<rect x="1315.10" y="1433.55" width="51.64" height="38.27" fill="#D1918E"/>
<rect x="1315.10" y="1471.22" width="51.64" height="38.27" fill="#D1918E"/>
<rect x="1315.10" y="1508.89" width="51.64" height="38.27" fill="#D1918E"/>
<rect x="1315.10" y="1546.56" width="51.64" height="38.27" fill="#D1918E"/>
<rect x="1315.10" y="1584.23" width="51.64" height="38.27" fill="#D1918E"/>
<rect x="1366.14" y="1245.20" width="51.64" height="38.27" fill="#E7C8C5"/>
<rect x="1366.14" y="1282.87" width="51.64" height="38.27" fill="#DAA3A0"/>
<rect x="1366.14" y="1320.54" width="51.64" height="38.27" fill="#D49894"/>
<rect x="1366.14" y="1358.21" width="51.64" height="38.27" fill="#D2918E"/>
<rect x="1366.14" y="1395.88" width="51.64" height="38.27" fill="#D2918E"/>
<rect x="1366.14" y="1433.55" width="51.64" height="38.27" fill="#D2918E"/>
<rect x="1366.14" y="1471.22" width="51.64" height="38.27" fill="#D2918E"/>
<rect x="1366.14" y="1508.89" width="51.64" height="38.27" fill="#D2918E"/>
<rect x="1366.14" y="1546.56" width="51.64" height="38.27" fill="#D2918E"/>
<rect x="1366.14" y="1584.23" width="51.64" height="38.27" fill="#D2918E"/>
<rect x="1417.18" y="1245.20" width="51.64" height="38.27" fill="#DCABA8"/>
<rect x="1417.18" y="1282.87" width="51.64" height="38.27" fill="#D3918F"/>
<rect x="1417.18" y="1320.54" width="51.64" height="38.27" fill="#CE8A88"/>
<rect x="1417.18" y="1358.21" width="51.64" height="38.27" fill="#CD8886"/>
<rect x="1417.18" y="1395.88" width="51.64" height="38.27" fill="#CD8886"/>
<rect x="1417.18" y="1433.55" width="51.64" height="38.27" fill="#CD8886"/>
<rect x="1417.18" y="1471.22" width="51.64" height="38.27" fill="#CD8886"/>
<rect x="1417.18" y="1508.89" width="51.64" height="38.27" fill="#CD8886"/>
<rect x="1417.18" y="1546.56" width="51.64" height="38.27" fill="#CD8886"/>
<rect x="1417.18" y="1584.23" width="51.64" height="38.27" fill="#CD8886"/>
<rect x="1468.22" y="1245.20" width="51.64" height="38.27" fill="#D8A4A2"/>
<rect x="1468.22" y="1282.87" width="51.64" height="38.27" fill="#CE8A88"/>
<rect x="1468.22" y="1320.54" width="51.64" height="38.27" fill="#CA8281"/>
<rect x="1468.22" y="1358.21" width="51.64" height="38.27" fill="#C9817F"/>
<rect x="1468.22" y="1395.88" width="51.64" height="38.27" fill="#C9817F"/>
<rect x="1468.22" y="1433.55" width="51.64" height="38.27" fill="#C9817F"/>
<rect x="1468.22" y="1471.22" width="51.64" height="38.27" fill="#C9817F"/>
<rect x="1468.22" y="1508.89" width="51.64" height="38.27" fill="#C9817F"/>
<rect x="1468.22" y="1546.56" width="51.64" height="38.27" fill="#C9817F"/>
<rect x="1468.22" y="1584.23" width="51.64" height="38.27" fill="#C9817F"/>
<rect x="1519.26" y="1245.20" width="51.64" height="38.27" fill="#DDB1AE"/>
<rect x="1519.26" y="1282.87" width="51.64" height="38.27" fill="#D08D8B"/>
<rect x="1519.26" y="1320.54" width="51.64" height="38.27" fill="#CB8280"/>
<rect x="1519.26" y="1358.21" width="51.64" height="38.27" fill="#CA7F7D"/>
<rect x="1519.26" y="1395.88" width="51.64" height="38.27" fill="#CA7F7D"/>
<rect x="1519.26" y="1433.55" width="51.64" height="38.27" fill="#CA7F7D"/>
<rect x="1519.26" y="1471.22" width="51.64" height="38.27" fill="#CA7F7D"/>
<rect x="1519.26" y="1508.89" width="51.64" height="38.27" fill="#CA7F7D"/>
<rect x="1519.26" y="1546.56" width="51.64" height="38.27" fill="#CA7F7D"/>
<rect x="1519.26" y="1584.23" width="51.64" height="38.27" fill="#CA7F7D"/>
<rect x="1570.30" y="1245.20" width="51.64" height="38.27" fill="#D69B98"/>
<rect x="1570.30" y="1282.87" width="51.64" height="38.27" fill="#C46E6D"/>
<rect x="1570.30" y="1320.54" width="51.64" height="38.27" fill="#C46E6D"/>
<rect x="1570.30" y="1358.21" width="51.64" height="38.27" fill="#C46E6D"/>
<rect x="1570.30" y="1395.88" width="51.64" height="38.27" fill="#C46E6D"/>
<rect x="1570.30" y="1433.55" width="51.64" height="38.27" fill="#C46E6D"/>
<rect x="1570.30" y="1471.22" width="51.64" height="38.27" fill="#C46E6D"/>
<rect x="1570.30" y="1508.89" width="51.64" height="38.27" fill="#C46E6D"/>
<rect x="1570.30" y="1546.56" width="51.64" height="38.27" fill="#C46E6D"/>
<rect x="1570.30" y="1584.23" width="51.64" height="38.27" fill="#C46E6D"/>
<rect x="1621.34" y="1245.20" width="51.64" height="38.27" fill="#C46E6D"/>
<rect x="1621.34" y="1282.87" width="51.64" height="38.27" fill="#C46E6D"/>
<rect x="1621.34" y="1320.54" width="51.64" height="38.27" fill="#C46E6D"/>
<rect x="1621.34" y="1358.21" width="51.64" height="38.27" fill="#C46E6D"/>
<rect x="1621.34" y="1395.88" width="51.64" height="38.27" fill="#C46E6D"/>
<rect x="1621.34" y="1433.55" width="51.64" height="38.27" fill="#C46E6D"/>
<rect x="1621.34" y="1471.22" width="51.64" height="38.27" fill="#C46E6D"/>
<rect x="1621.34" y="1508.89" width="51.64" height="38.27" fill="#C46E6D"/>
<rect x="1621.34" y="1546.56" width="51.64" height="38.27" fill="#C46E6D"/>
<rect x="1621.34" y="1584.23" width="51.64" height="38.27" fill="#C46E6D"/>
<rect x="1672.38" y="1245.20" width="51.64" height="38.27" fill="#F3E2E1"/>
<rect x="1672.38" y="1282.87" width="51.64" height="38.27" fill="#D9A5A3"/>
<rect x="1672.38" y="1320.54" width="51.64" height="38.27" fill="#C87B7A"/>
<rect x="1672.38" y="1358.21" width="51.64" height="38.27" fill="#C16968"/>
<rect x="1672.38" y="1395.88" width="51.64" height="38.27" fill="#BB5F5E"/>
<rect x="1672.38" y="1433.55" width="51.64" height="38.27" fill="#B85C5A"/>
<rect x="1672.38" y="1471.22" width="51.64" height="38.27" fill="#B85C5A"/>
<rect x="1672.38" y="1508.89" width="51.64" height="38.27" fill="#B85C5A"/>
<rect x="1672.38" y="1546.56" width="51.64" height="38.27" fill="#B85C5A"/>
<rect x="1672.38" y="1584.23" width="51.64" height="38.27" fill="#B85C5A"/>
<rect x="1723.42" y="1245.20" width="51.64" height="38.27" fill="#DFB5B2"/>
<rect x="1723.42" y="1282.87" width="51.64" height="38.27" fill="#CF8D8A"/>
<rect x="1723.42" y="1320.54" width="51.64" height="38.27" fill="#C57776"/>
<rect x="1723.42" y="1358.21" width="51.64" height="38.27" fill="#C3706E"/>
<rect x="1723.42" y="1395.88" width="51.64" height="38.27" fill="#C16B6A"/>
<rect x="1723.42" y="1433.55" width="51.64" height="38.27" fill="#BF6A68"/>
<rect x="1723.42" y="1471.22" width="51.64" height="38.27" fill="#BF6A68"/>
<rect x="1723.42" y="1508.89" width="51.64" height="38.27" fill="#BF6A68"/>
<rect x="1723.42" y="1546.56" width="51.64" height="38.27" fill="#BF6A68"/>
<rect x="1723.42" y="1584.23" width="51.64" height="38.27" fill="#BF6A68"/>
<rect x="1774.46" y="1245.20" width="51.64" height="38.27" fill="#E6C6C3"/>
<rect x="1774.46" y="1282.87" width="51.64" height="38.27" fill="#C87776"/>
<rect x="1774.46" y="1320.54" width="51.64" height="38.27" fill="#C06867"/>
<rect x="1774.46" y="1358.21" width="51.64" height="38.27" fill="#BF6664"/>
<rect x="1774.46" y="1395.88" width="51.64" height="38.27" fill="#BF6664"/>
<rect x="1774.46" y="1433.55" width="51.64" height="38.27" fill="#BF6664"/>
<rect x="1774.46" y="1471.22" width="51.64" height="38.27" fill="#BF6664"/>
<rect x="1774.46" y="1508.89" width="51.64" height="38.27" fill="#BF6664"/>
<rect x="1774.46" y="1546.56" width="51.64" height="38.27" fill="#BF6664"/>
<rect x="1774.46" y="1584.23" width="51.64" height="38.27" fill="#BF6664"/>
</g>
<rect x="94.7" y="1621.9" width="612.00" height="104.70" fill="#A9E0B3"/>
<rect x="706.7" y="1621.9" width="353.20" height="104.70" fill="#F8B291"/>
<rect x="1059.9" y="1621.9" width="153.10" height="104.70" fill="#FBCFBB"/>
<rect x="1213" y="1621.9" width="612.50" height="104.70" fill="#C8B6E2"/>
<line x1="120.18" y1="1239" x2="120.18" y2="1245.2" stroke="#3a3a3a" stroke-width="1.4"/>
<line x1="171.12" y1="1239" x2="171.12" y2="1245.2" stroke="#3a3a3a" stroke-width="1.4"/>
<line x1="222.07" y1="1239" x2="222.07" y2="1245.2" stroke="#3a3a3a" stroke-width="1.4"/>
<line x1="273.03" y1="1239" x2="273.03" y2="1245.2" stroke="#3a3a3a" stroke-width="1.4"/>
<line x1="323.98" y1="1239" x2="323.98" y2="1245.2" stroke="#3a3a3a" stroke-width="1.4"/>
<line x1="374.93" y1="1239" x2="374.93" y2="1245.2" stroke="#3a3a3a" stroke-width="1.4"/>
<line x1="425.88" y1="1239" x2="425.88" y2="1245.2" stroke="#3a3a3a" stroke-width="1.4"/>
<line x1="476.82" y1="1239" x2="476.82" y2="1245.2" stroke="#3a3a3a" stroke-width="1.4"/>
<line x1="527.78" y1="1239" x2="527.78" y2="1245.2" stroke="#3a3a3a" stroke-width="1.4"/>
<line x1="578.73" y1="1239" x2="578.73" y2="1245.2" stroke="#3a3a3a" stroke-width="1.4"/>
<line x1="629.68" y1="1239" x2="629.68" y2="1245.2" stroke="#3a3a3a" stroke-width="1.4"/>
<line x1="680.63" y1="1239" x2="680.63" y2="1245.2" stroke="#3a3a3a" stroke-width="1.4"/>
<line x1="731.58" y1="1239" x2="731.58" y2="1245.2" stroke="#3a3a3a" stroke-width="1.4"/>
<line x1="782.53" y1="1239" x2="782.53" y2="1245.2" stroke="#3a3a3a" stroke-width="1.4"/>
<line x1="833.48" y1="1239" x2="833.48" y2="1245.2" stroke="#3a3a3a" stroke-width="1.4"/>
<line x1="884.43" y1="1239" x2="884.43" y2="1245.2" stroke="#3a3a3a" stroke-width="1.4"/>
<line x1="935.38" y1="1239" x2="935.38" y2="1245.2" stroke="#3a3a3a" stroke-width="1.4"/>
<line x1="986.33" y1="1239" x2="986.33" y2="1245.2" stroke="#3a3a3a" stroke-width="1.4"/>
<line x1="1037.28" y1="1239" x2="1037.28" y2="1245.2" stroke="#3a3a3a" stroke-width="1.4"/>
<line x1="1085.42" y1="1239" x2="1085.42" y2="1245.2" stroke="#3a3a3a" stroke-width="1.4"/>
<line x1="1136.46" y1="1239" x2="1136.46" y2="1245.2" stroke="#3a3a3a" stroke-width="1.4"/>
<line x1="1187.50" y1="1239" x2="1187.50" y2="1245.2" stroke="#3a3a3a" stroke-width="1.4"/>
<line x1="1238.54" y1="1239" x2="1238.54" y2="1245.2" stroke="#3a3a3a" stroke-width="1.4"/>
<line x1="1289.58" y1="1239" x2="1289.58" y2="1245.2" stroke="#3a3a3a" stroke-width="1.4"/>
<line x1="1340.62" y1="1239" x2="1340.62" y2="1245.2" stroke="#3a3a3a" stroke-width="1.4"/>
<line x1="1391.66" y1="1239" x2="1391.66" y2="1245.2" stroke="#3a3a3a" stroke-width="1.4"/>
<line x1="1442.70" y1="1239" x2="1442.70" y2="1245.2" stroke="#3a3a3a" stroke-width="1.4"/>
<line x1="1493.74" y1="1239" x2="1493.74" y2="1245.2" stroke="#3a3a3a" stroke-width="1.4"/>
<line x1="1544.78" y1="1239" x2="1544.78" y2="1245.2" stroke="#3a3a3a" stroke-width="1.4"/>
<line x1="1595.82" y1="1239" x2="1595.82" y2="1245.2" stroke="#3a3a3a" stroke-width="1.4"/>
<line x1="1646.86" y1="1239" x2="1646.86" y2="1245.2" stroke="#3a3a3a" stroke-width="1.4"/>
<line x1="1697.90" y1="1239" x2="1697.90" y2="1245.2" stroke="#3a3a3a" stroke-width="1.4"/>
<line x1="1748.94" y1="1239" x2="1748.94" y2="1245.2" stroke="#3a3a3a" stroke-width="1.4"/>
<line x1="1799.98" y1="1239" x2="1799.98" y2="1245.2" stroke="#3a3a3a" stroke-width="1.4"/>
<rect x="247.33" y="1181.5" width="50.2" height="56.70" rx="8" ry="8" fill="#DCDDDE" stroke="#231F20" stroke-width="1.5"/>
<rect x="1213.44" y="1162" width="50.2" height="76.20" rx="8" ry="8" fill="#DDD3F7" stroke="#5B2DE1" stroke-width="1.5"/>
<rect x="1672.80" y="1158" width="50.2" height="80.20" rx="8" ry="8" fill="#DDD3F7" stroke="#5B2DE1" stroke-width="1.5"/>
<text transform="translate(129.78,1230) rotate(-90) scale(1,1.04)" font-size="25" fill="#231F20">T141A</text>
<text transform="translate(180.72,1230) rotate(-90) scale(1,1.04)" font-size="25" fill="#231F20">D102A</text>
<text transform="translate(231.67,1230) rotate(-90) scale(1,1.04)" font-size="25" fill="#231F20">A79S</text>
<text transform="translate(283.13,1230) rotate(-90) scale(1,1.04)" font-size="25" font-weight="bold" fill="#231F20">WT</text>
<text transform="translate(333.58,1230) rotate(-90) scale(1,1.04)" font-size="25" fill="#231F20">K104A</text>
<text transform="translate(384.53,1230) rotate(-90) scale(1,1.04)" font-size="25" fill="#231F20">V144A</text>
<text transform="translate(435.48,1230) rotate(-90) scale(1,1.04)" font-size="25" fill="#231F20">K104E</text>
<text transform="translate(486.43,1230) rotate(-90) scale(1,1.04)" font-size="25" fill="#231F20">L143A</text>
<text transform="translate(537.38,1230) rotate(-90) scale(1,1.04)" font-size="25" fill="#231F20">T105A</text>
<text transform="translate(588.33,1230) rotate(-90) scale(1,1.04)" font-size="25" fill="#231F20">Q145A</text>
<text transform="translate(639.28,1230) rotate(-90) scale(1,1.04)" font-size="25" fill="#231F20">V86A</text>
<text transform="translate(690.23,1230) rotate(-90) scale(1,1.04)" font-size="25" fill="#231F20">H88A</text>
<text transform="translate(741.18,1230) rotate(-90) scale(1,1.04)" font-size="25" fill="#231F20">S76A</text>
<text transform="translate(792.13,1230) rotate(-90) scale(1,1.04)" font-size="25" fill="#231F20">A78R</text>
<text transform="translate(843.08,1230) rotate(-90) scale(1,1.04)" font-size="25" fill="#231F20">D142R</text>
<text transform="translate(894.03,1230) rotate(-90) scale(1,1.04)" font-size="25" fill="#231F20">D142A</text>
<text transform="translate(944.98,1230) rotate(-90) scale(1,1.04)" font-size="25" fill="#231F20">D107R</text>
<text transform="translate(995.93,1230) rotate(-90) scale(1,1.04)" font-size="25" fill="#231F20">D102R</text>
<text transform="translate(1046.88,1230) rotate(-90) scale(1,1.04)" font-size="25" fill="#231F20">R150E</text>
<text transform="translate(1095.02,1230) rotate(-90) scale(1,1.04)" font-size="25" fill="#231F20">D85A</text>
<text transform="translate(1146.06,1230) rotate(-90) scale(1,1.04)" font-size="25" fill="#231F20">L73A</text>
<text transform="translate(1197.10,1230) rotate(-90) scale(1,1.04)" font-size="25" fill="#231F20">V60A</text>
<text transform="translate(1248.64,1230) rotate(-90) scale(1,1.04)" font-size="25" font-weight="bold" fill="#231F20">F83A</text>
<text transform="translate(1299.18,1230) rotate(-90) scale(1,1.04)" font-size="25" fill="#231F20">Y90A</text>
<text transform="translate(1350.22,1230) rotate(-90) scale(1,1.04)" font-size="25" fill="#231F20">Y81A</text>
<text transform="translate(1401.26,1230) rotate(-90) scale(1,1.04)" font-size="25" fill="#231F20">L152A</text>
<text transform="translate(1452.30,1230) rotate(-90) scale(1,1.04)" font-size="25" fill="#231F20">G82R</text>
<text transform="translate(1503.34,1230) rotate(-90) scale(1,1.04)" font-size="25" fill="#231F20">D80A</text>
<text transform="translate(1554.38,1230) rotate(-90) scale(1,1.04)" font-size="25" fill="#231F20">L77A</text>
<text transform="translate(1605.42,1230) rotate(-90) scale(1,1.04)" font-size="25" fill="#231F20">G75R</text>
<text transform="translate(1656.46,1230) rotate(-90) scale(1,1.04)" font-size="25" fill="#231F20">P84A</text>
<text transform="translate(1708.00,1230) rotate(-90) scale(1,1.04)" font-size="25" font-weight="bold" fill="#231F20">D85R</text>
<text transform="translate(1758.54,1230) rotate(-90) scale(1,1.04)" font-size="25" fill="#231F20">I140A</text>
<text transform="translate(1809.58,1230) rotate(-90) scale(1,1.04)" font-size="25" fill="#231F20">Y62A</text>
<path d="M45.5,1253.4 L83.8,1253.4 L83.8,1615.8 Z" fill="#231F20"/>
<text transform="translate(40,1491.5) rotate(-90) scale(1,1.04)" font-size="25" fill="#231F20">[sEC1-2]</text>
<path d="M120.18,1621.90 V1632.80 H171.12 V1621.90" fill="none" stroke="#236B37" stroke-width="3.0" stroke-linejoin="miter"/>
<path d="M145.65,1632.80 V1650.90 H222.07 V1621.90" fill="none" stroke="#236B37" stroke-width="3.0" stroke-linejoin="miter"/>
<path d="M273.03,1621.90 V1641.90 H323.98 V1621.90" fill="none" stroke="#236B37" stroke-width="3.0" stroke-linejoin="miter"/>
<path d="M183.86,1650.90 V1662.80 H298.50 V1641.90" fill="none" stroke="#236B37" stroke-width="3.0" stroke-linejoin="miter"/>
<path d="M374.93,1621.90 V1639.60 H425.88 V1621.90" fill="none" stroke="#236B37" stroke-width="3.0" stroke-linejoin="miter"/>
<path d="M400.40,1639.60 V1641.20 H476.82 V1621.90" fill="none" stroke="#236B37" stroke-width="3.0" stroke-linejoin="miter"/>
<path d="M527.78,1621.90 V1639.90 H578.73 V1621.90" fill="none" stroke="#236B37" stroke-width="3.0" stroke-linejoin="miter"/>
<path d="M438.61,1641.20 V1658.00 H553.25 V1639.90" fill="none" stroke="#236B37" stroke-width="3.0" stroke-linejoin="miter"/>
<path d="M241.18,1662.80 V1669.50 H495.93 V1658.00" fill="none" stroke="#236B37" stroke-width="3.0" stroke-linejoin="miter"/>
<path d="M629.68,1621.90 V1660.50 H680.63 V1621.90" fill="none" stroke="#236B37" stroke-width="3.0" stroke-linejoin="miter"/>
<path d="M368.56,1669.50 V1693.40 H655.15 V1660.50" fill="none" stroke="#236B37" stroke-width="3.0" stroke-linejoin="miter"/>
<path d="M731.58,1621.90 V1643.50 H782.53 V1621.90" fill="none" stroke="#9B5130" stroke-width="3.0" stroke-linejoin="miter"/>
<path d="M833.48,1621.90 V1636.00 H884.43 V1621.90" fill="none" stroke="#9B5130" stroke-width="3.0" stroke-linejoin="miter"/>
<path d="M757.05,1643.50 V1655.40 H858.95 V1636.00" fill="none" stroke="#9B5130" stroke-width="3.0" stroke-linejoin="miter"/>
<path d="M935.38,1621.90 V1649.90 H986.33 V1621.90" fill="none" stroke="#9B5130" stroke-width="3.0" stroke-linejoin="miter"/>
<path d="M808.00,1655.40 V1658.00 H960.85 V1649.90" fill="none" stroke="#9B5130" stroke-width="3.0" stroke-linejoin="miter"/>
<path d="M884.43,1658.00 V1664.40 H1037.28 V1621.90" fill="none" stroke="#9B5130" stroke-width="3.0" stroke-linejoin="miter"/>
<path d="M1136.46,1621.90 V1675.70 H1187.50 V1621.90" fill="none" stroke="#7A4A33" stroke-width="2.6" stroke-linejoin="miter"/>
<path d="M1085.42,1621.90 V1705.30 H1161.98 V1675.70" fill="none" stroke="#7A4A33" stroke-width="2.6" stroke-linejoin="miter"/>
<path d="M1238.54,1621.90 V1678.20 H1289.58 V1621.90" fill="none" stroke="#3F2F66" stroke-width="3.0" stroke-linejoin="miter"/>
<path d="M1493.74,1621.90 V1631.90 H1544.78 V1621.90" fill="none" stroke="#3F2F66" stroke-width="3.0" stroke-linejoin="miter"/>
<path d="M1442.70,1621.90 V1637.30 H1519.26 V1631.90" fill="none" stroke="#3F2F66" stroke-width="3.0" stroke-linejoin="miter"/>
<path d="M1391.66,1621.90 V1654.10 H1480.98 V1637.30" fill="none" stroke="#3F2F66" stroke-width="3.0" stroke-linejoin="miter"/>
<path d="M1595.82,1621.90 V1647.00 H1646.86 V1621.90" fill="none" stroke="#3F2F66" stroke-width="3.0" stroke-linejoin="miter"/>
<path d="M1748.94,1621.90 V1640.20 H1799.98 V1621.90" fill="none" stroke="#3F2F66" stroke-width="3.0" stroke-linejoin="miter"/>
<path d="M1697.90,1621.90 V1658.60 H1774.46 V1640.20" fill="none" stroke="#3F2F66" stroke-width="3.0" stroke-linejoin="miter"/>
<path d="M1621.34,1647.00 V1669.50 H1736.18 V1658.60" fill="none" stroke="#3F2F66" stroke-width="3.0" stroke-linejoin="miter"/>
<path d="M1436.32,1654.10 V1676.00 H1678.76 V1669.50" fill="none" stroke="#3F2F66" stroke-width="3.0" stroke-linejoin="miter"/>
<path d="M1340.62,1621.90 V1686.30 H1557.54 V1676.00" fill="none" stroke="#3F2F66" stroke-width="3.0" stroke-linejoin="miter"/>
<path d="M1264.06,1678.20 V1723.30 H1449.08 V1686.30" fill="none" stroke="#3F2F66" stroke-width="3.0" stroke-linejoin="miter"/>
<path d="M511.85,1693.4 V1726.6" stroke="#236B37" stroke-width="3.0" fill="none"/>
<path d="M960.85,1664.4 V1726.6" stroke="#9B5130" stroke-width="3.0" fill="none"/>
<path d="M1123.70,1705.3 V1726.6" stroke="#7A4A33" stroke-width="2.6" fill="none"/>
<line x1="94.2" y1="1726.6" x2="1825.5" y2="1726.6" stroke="#111" stroke-width="2" stroke-dasharray="14.3 11.1" stroke-dashoffset="4.1"/>
<path d="M511.85,1726.6 V1731.4 H960.85 V1726.6" stroke="#3A3A3A" stroke-width="3.2" fill="none"/>
<path d="M1123.70,1726.6 V1751.3 H1356.57 V1725.6" stroke="#3A3A3A" stroke-width="3.2" fill="none"/>
<path d="M736.35,1731.4 V1860.2 H1240.14 V1751.3" stroke="#3A3A3A" stroke-width="3.2" fill="none"/>
<text transform="translate(271,1789.0) scale(1,1.04)" font-size="37.8" fill="#0B9444">WT-like</text>
<text transform="translate(271,1835.1) scale(1,1.04)" font-size="37.8" fill="#0B9444">binders</text>
<text transform="translate(875.5,1789.0) scale(1,1.04)" font-size="37.8" fill="#F26522">Intermediate</text>
<text transform="translate(875.5,1835.1) scale(1,1.04)" font-size="37.8" fill="#F26522">binders</text>
<text transform="translate(1463,1789.0) scale(1,1.04)" font-size="37.8" fill="#5B2DE1">Poor</text>
<text transform="translate(1463,1835.1) scale(1,1.04)" font-size="37.8" fill="#5B2DE1">binders</text>
<rect x="1878.9" y="1370.8" width="63.6" height="224.2" fill="url(#cbar)"/>
<text transform="translate(1863.5,1316) scale(1,1.04)" font-size="25.25" fill="#1C75BC">high (100%)</text>
<text transform="translate(1863.5,1346.3) scale(1,1.04)" font-size="25.25" fill="#1C75BC">competition</text>
<text transform="translate(1862.5,1637.5) scale(1,1.04)" font-size="25.25" fill="#BE1E2D">No (0%)</text>
<text transform="translate(1862.5,1667.8) scale(1,1.04)" font-size="25.25" fill="#BE1E2D">competition</text>
<text transform="translate(0.8,1145.1) scale(1,1.06)" font-size="41" font-weight="bold" fill="#000">c</text>
</svg>
</body></html>
